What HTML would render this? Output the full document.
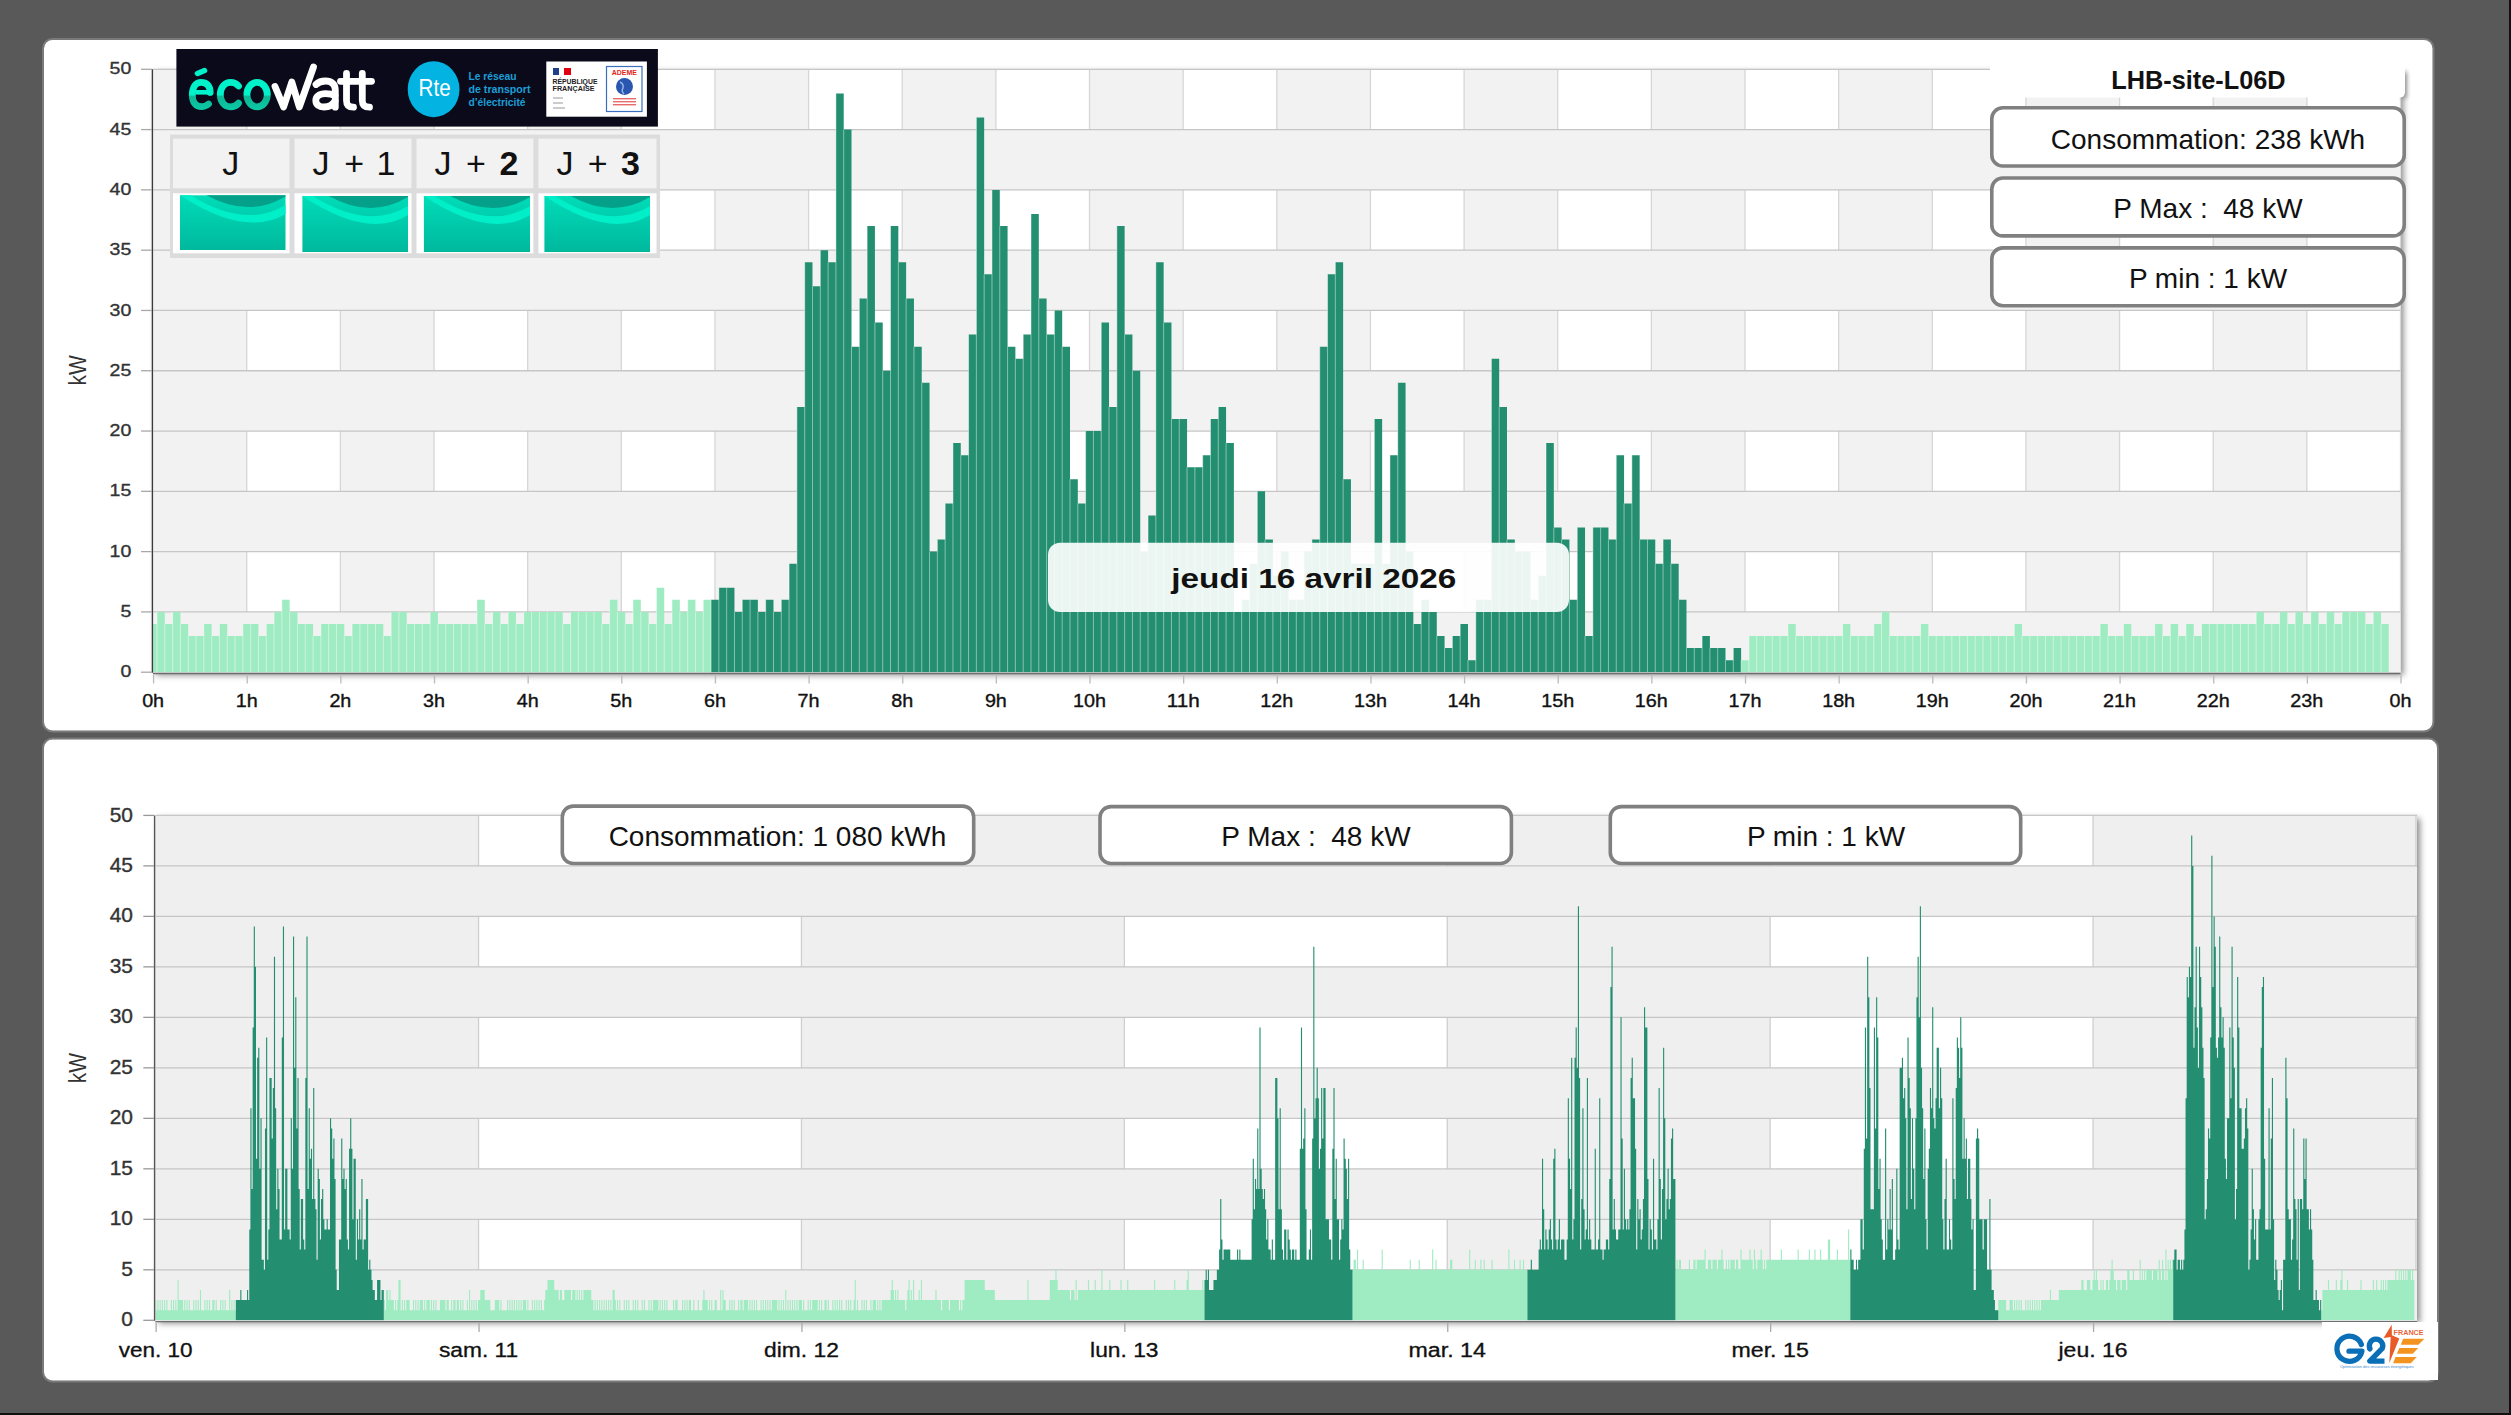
<!DOCTYPE html>
<html><head><meta charset="utf-8"><title>Consommation</title>
<style>
html,body{margin:0;padding:0;}
body{width:2511px;height:1415px;overflow:hidden;position:relative;background:#595959;font-family:"Liberation Sans", sans-serif;}
.edge-r{position:absolute;left:2509px;top:0;width:2px;height:1415px;background:#111;}
.edge-b{position:absolute;left:0;top:1413px;width:2511px;height:2px;background:#111;}
</style></head><body>
<svg xmlns="http://www.w3.org/2000/svg" width="2511" height="1415" style="position:absolute;left:0;top:0" font-family='"Liberation Sans", sans-serif'><defs><filter id="psh" x="-5%" y="-5%" width="110%" height="115%"><feDropShadow dx="3" dy="3" stdDeviation="3" flood-color="#000" flood-opacity="0.45"/></filter><filter id="lsh" x="-5%" y="-20%" width="110%" height="140%"><feDropShadow dx="2" dy="2" stdDeviation="2" flood-color="#000" flood-opacity="0.3"/></filter></defs><rect x="43" y="39" width="2390.5" height="692.5" rx="9.5" fill="none" stroke="#7a7a7a" stroke-width="2"/><rect x="44" y="40" width="2388.5" height="690.5" rx="8.5" fill="#fff"/><rect x="43" y="738.5" width="2395" height="643" rx="9.5" fill="none" stroke="#7a7a7a" stroke-width="2"/><rect x="44" y="739.5" width="2393" height="641" rx="8.5" fill="#fff"/><rect x="153.1" y="69.3" width="2247.4" height="602.9" fill="#f2f2f2" filter="url(#psh)"/><rect x="246.74" y="551.62" width="93.64" height="60.29" fill="#fff"/><rect x="434.02" y="551.62" width="93.64" height="60.29" fill="#fff"/><rect x="621.31" y="551.62" width="93.64" height="60.29" fill="#fff"/><rect x="808.59" y="551.62" width="93.64" height="60.29" fill="#fff"/><rect x="995.88" y="551.62" width="93.64" height="60.29" fill="#fff"/><rect x="1183.16" y="551.62" width="93.64" height="60.29" fill="#fff"/><rect x="1370.44" y="551.62" width="93.64" height="60.29" fill="#fff"/><rect x="1557.72" y="551.62" width="93.64" height="60.29" fill="#fff"/><rect x="1745.01" y="551.62" width="93.64" height="60.29" fill="#fff"/><rect x="1932.29" y="551.62" width="93.64" height="60.29" fill="#fff"/><rect x="2119.57" y="551.62" width="93.64" height="60.29" fill="#fff"/><rect x="2306.86" y="551.62" width="93.64" height="60.29" fill="#fff"/><rect x="246.74" y="431.04" width="93.64" height="60.29" fill="#fff"/><rect x="434.02" y="431.04" width="93.64" height="60.29" fill="#fff"/><rect x="621.31" y="431.04" width="93.64" height="60.29" fill="#fff"/><rect x="808.59" y="431.04" width="93.64" height="60.29" fill="#fff"/><rect x="995.88" y="431.04" width="93.64" height="60.29" fill="#fff"/><rect x="1183.16" y="431.04" width="93.64" height="60.29" fill="#fff"/><rect x="1370.44" y="431.04" width="93.64" height="60.29" fill="#fff"/><rect x="1557.72" y="431.04" width="93.64" height="60.29" fill="#fff"/><rect x="1745.01" y="431.04" width="93.64" height="60.29" fill="#fff"/><rect x="1932.29" y="431.04" width="93.64" height="60.29" fill="#fff"/><rect x="2119.57" y="431.04" width="93.64" height="60.29" fill="#fff"/><rect x="2306.86" y="431.04" width="93.64" height="60.29" fill="#fff"/><rect x="246.74" y="310.46" width="93.64" height="60.29" fill="#fff"/><rect x="434.02" y="310.46" width="93.64" height="60.29" fill="#fff"/><rect x="621.31" y="310.46" width="93.64" height="60.29" fill="#fff"/><rect x="808.59" y="310.46" width="93.64" height="60.29" fill="#fff"/><rect x="995.88" y="310.46" width="93.64" height="60.29" fill="#fff"/><rect x="1183.16" y="310.46" width="93.64" height="60.29" fill="#fff"/><rect x="1370.44" y="310.46" width="93.64" height="60.29" fill="#fff"/><rect x="1557.72" y="310.46" width="93.64" height="60.29" fill="#fff"/><rect x="1745.01" y="310.46" width="93.64" height="60.29" fill="#fff"/><rect x="1932.29" y="310.46" width="93.64" height="60.29" fill="#fff"/><rect x="2119.57" y="310.46" width="93.64" height="60.29" fill="#fff"/><rect x="2306.86" y="310.46" width="93.64" height="60.29" fill="#fff"/><rect x="246.74" y="189.88" width="93.64" height="60.29" fill="#fff"/><rect x="434.02" y="189.88" width="93.64" height="60.29" fill="#fff"/><rect x="621.31" y="189.88" width="93.64" height="60.29" fill="#fff"/><rect x="808.59" y="189.88" width="93.64" height="60.29" fill="#fff"/><rect x="995.88" y="189.88" width="93.64" height="60.29" fill="#fff"/><rect x="1183.16" y="189.88" width="93.64" height="60.29" fill="#fff"/><rect x="1370.44" y="189.88" width="93.64" height="60.29" fill="#fff"/><rect x="1557.72" y="189.88" width="93.64" height="60.29" fill="#fff"/><rect x="1745.01" y="189.88" width="93.64" height="60.29" fill="#fff"/><rect x="1932.29" y="189.88" width="93.64" height="60.29" fill="#fff"/><rect x="2119.57" y="189.88" width="93.64" height="60.29" fill="#fff"/><rect x="2306.86" y="189.88" width="93.64" height="60.29" fill="#fff"/><rect x="246.74" y="69.3" width="93.64" height="60.29" fill="#fff"/><rect x="434.02" y="69.3" width="93.64" height="60.29" fill="#fff"/><rect x="621.31" y="69.3" width="93.64" height="60.29" fill="#fff"/><rect x="808.59" y="69.3" width="93.64" height="60.29" fill="#fff"/><rect x="995.88" y="69.3" width="93.64" height="60.29" fill="#fff"/><rect x="1183.16" y="69.3" width="93.64" height="60.29" fill="#fff"/><rect x="1370.44" y="69.3" width="93.64" height="60.29" fill="#fff"/><rect x="1557.72" y="69.3" width="93.64" height="60.29" fill="#fff"/><rect x="1745.01" y="69.3" width="93.64" height="60.29" fill="#fff"/><rect x="1932.29" y="69.3" width="93.64" height="60.29" fill="#fff"/><rect x="2119.57" y="69.3" width="93.64" height="60.29" fill="#fff"/><rect x="2306.86" y="69.3" width="93.64" height="60.29" fill="#fff"/><line x1="246.74" y1="551.62" x2="246.74" y2="611.91" stroke="#d6d6d6" stroke-width="1.3"/><line x1="340.38" y1="551.62" x2="340.38" y2="611.91" stroke="#d6d6d6" stroke-width="1.3"/><line x1="434.02" y1="551.62" x2="434.02" y2="611.91" stroke="#d6d6d6" stroke-width="1.3"/><line x1="527.67" y1="551.62" x2="527.67" y2="611.91" stroke="#d6d6d6" stroke-width="1.3"/><line x1="621.31" y1="551.62" x2="621.31" y2="611.91" stroke="#d6d6d6" stroke-width="1.3"/><line x1="714.95" y1="551.62" x2="714.95" y2="611.91" stroke="#d6d6d6" stroke-width="1.3"/><line x1="808.59" y1="551.62" x2="808.59" y2="611.91" stroke="#d6d6d6" stroke-width="1.3"/><line x1="902.23" y1="551.62" x2="902.23" y2="611.91" stroke="#d6d6d6" stroke-width="1.3"/><line x1="995.88" y1="551.62" x2="995.88" y2="611.91" stroke="#d6d6d6" stroke-width="1.3"/><line x1="1089.52" y1="551.62" x2="1089.52" y2="611.91" stroke="#d6d6d6" stroke-width="1.3"/><line x1="1183.16" y1="551.62" x2="1183.16" y2="611.91" stroke="#d6d6d6" stroke-width="1.3"/><line x1="1276.8" y1="551.62" x2="1276.8" y2="611.91" stroke="#d6d6d6" stroke-width="1.3"/><line x1="1370.44" y1="551.62" x2="1370.44" y2="611.91" stroke="#d6d6d6" stroke-width="1.3"/><line x1="1464.08" y1="551.62" x2="1464.08" y2="611.91" stroke="#d6d6d6" stroke-width="1.3"/><line x1="1557.72" y1="551.62" x2="1557.72" y2="611.91" stroke="#d6d6d6" stroke-width="1.3"/><line x1="1651.37" y1="551.62" x2="1651.37" y2="611.91" stroke="#d6d6d6" stroke-width="1.3"/><line x1="1745.01" y1="551.62" x2="1745.01" y2="611.91" stroke="#d6d6d6" stroke-width="1.3"/><line x1="1838.65" y1="551.62" x2="1838.65" y2="611.91" stroke="#d6d6d6" stroke-width="1.3"/><line x1="1932.29" y1="551.62" x2="1932.29" y2="611.91" stroke="#d6d6d6" stroke-width="1.3"/><line x1="2025.93" y1="551.62" x2="2025.93" y2="611.91" stroke="#d6d6d6" stroke-width="1.3"/><line x1="2119.57" y1="551.62" x2="2119.57" y2="611.91" stroke="#d6d6d6" stroke-width="1.3"/><line x1="2213.22" y1="551.62" x2="2213.22" y2="611.91" stroke="#d6d6d6" stroke-width="1.3"/><line x1="2306.86" y1="551.62" x2="2306.86" y2="611.91" stroke="#d6d6d6" stroke-width="1.3"/><line x1="2400.5" y1="551.62" x2="2400.5" y2="611.91" stroke="#d6d6d6" stroke-width="1.3"/><line x1="246.74" y1="431.04" x2="246.74" y2="491.33" stroke="#d6d6d6" stroke-width="1.3"/><line x1="340.38" y1="431.04" x2="340.38" y2="491.33" stroke="#d6d6d6" stroke-width="1.3"/><line x1="434.02" y1="431.04" x2="434.02" y2="491.33" stroke="#d6d6d6" stroke-width="1.3"/><line x1="527.67" y1="431.04" x2="527.67" y2="491.33" stroke="#d6d6d6" stroke-width="1.3"/><line x1="621.31" y1="431.04" x2="621.31" y2="491.33" stroke="#d6d6d6" stroke-width="1.3"/><line x1="714.95" y1="431.04" x2="714.95" y2="491.33" stroke="#d6d6d6" stroke-width="1.3"/><line x1="808.59" y1="431.04" x2="808.59" y2="491.33" stroke="#d6d6d6" stroke-width="1.3"/><line x1="902.23" y1="431.04" x2="902.23" y2="491.33" stroke="#d6d6d6" stroke-width="1.3"/><line x1="995.88" y1="431.04" x2="995.88" y2="491.33" stroke="#d6d6d6" stroke-width="1.3"/><line x1="1089.52" y1="431.04" x2="1089.52" y2="491.33" stroke="#d6d6d6" stroke-width="1.3"/><line x1="1183.16" y1="431.04" x2="1183.16" y2="491.33" stroke="#d6d6d6" stroke-width="1.3"/><line x1="1276.8" y1="431.04" x2="1276.8" y2="491.33" stroke="#d6d6d6" stroke-width="1.3"/><line x1="1370.44" y1="431.04" x2="1370.44" y2="491.33" stroke="#d6d6d6" stroke-width="1.3"/><line x1="1464.08" y1="431.04" x2="1464.08" y2="491.33" stroke="#d6d6d6" stroke-width="1.3"/><line x1="1557.72" y1="431.04" x2="1557.72" y2="491.33" stroke="#d6d6d6" stroke-width="1.3"/><line x1="1651.37" y1="431.04" x2="1651.37" y2="491.33" stroke="#d6d6d6" stroke-width="1.3"/><line x1="1745.01" y1="431.04" x2="1745.01" y2="491.33" stroke="#d6d6d6" stroke-width="1.3"/><line x1="1838.65" y1="431.04" x2="1838.65" y2="491.33" stroke="#d6d6d6" stroke-width="1.3"/><line x1="1932.29" y1="431.04" x2="1932.29" y2="491.33" stroke="#d6d6d6" stroke-width="1.3"/><line x1="2025.93" y1="431.04" x2="2025.93" y2="491.33" stroke="#d6d6d6" stroke-width="1.3"/><line x1="2119.57" y1="431.04" x2="2119.57" y2="491.33" stroke="#d6d6d6" stroke-width="1.3"/><line x1="2213.22" y1="431.04" x2="2213.22" y2="491.33" stroke="#d6d6d6" stroke-width="1.3"/><line x1="2306.86" y1="431.04" x2="2306.86" y2="491.33" stroke="#d6d6d6" stroke-width="1.3"/><line x1="2400.5" y1="431.04" x2="2400.5" y2="491.33" stroke="#d6d6d6" stroke-width="1.3"/><line x1="246.74" y1="310.46" x2="246.74" y2="370.75" stroke="#d6d6d6" stroke-width="1.3"/><line x1="340.38" y1="310.46" x2="340.38" y2="370.75" stroke="#d6d6d6" stroke-width="1.3"/><line x1="434.02" y1="310.46" x2="434.02" y2="370.75" stroke="#d6d6d6" stroke-width="1.3"/><line x1="527.67" y1="310.46" x2="527.67" y2="370.75" stroke="#d6d6d6" stroke-width="1.3"/><line x1="621.31" y1="310.46" x2="621.31" y2="370.75" stroke="#d6d6d6" stroke-width="1.3"/><line x1="714.95" y1="310.46" x2="714.95" y2="370.75" stroke="#d6d6d6" stroke-width="1.3"/><line x1="808.59" y1="310.46" x2="808.59" y2="370.75" stroke="#d6d6d6" stroke-width="1.3"/><line x1="902.23" y1="310.46" x2="902.23" y2="370.75" stroke="#d6d6d6" stroke-width="1.3"/><line x1="995.88" y1="310.46" x2="995.88" y2="370.75" stroke="#d6d6d6" stroke-width="1.3"/><line x1="1089.52" y1="310.46" x2="1089.52" y2="370.75" stroke="#d6d6d6" stroke-width="1.3"/><line x1="1183.16" y1="310.46" x2="1183.16" y2="370.75" stroke="#d6d6d6" stroke-width="1.3"/><line x1="1276.8" y1="310.46" x2="1276.8" y2="370.75" stroke="#d6d6d6" stroke-width="1.3"/><line x1="1370.44" y1="310.46" x2="1370.44" y2="370.75" stroke="#d6d6d6" stroke-width="1.3"/><line x1="1464.08" y1="310.46" x2="1464.08" y2="370.75" stroke="#d6d6d6" stroke-width="1.3"/><line x1="1557.72" y1="310.46" x2="1557.72" y2="370.75" stroke="#d6d6d6" stroke-width="1.3"/><line x1="1651.37" y1="310.46" x2="1651.37" y2="370.75" stroke="#d6d6d6" stroke-width="1.3"/><line x1="1745.01" y1="310.46" x2="1745.01" y2="370.75" stroke="#d6d6d6" stroke-width="1.3"/><line x1="1838.65" y1="310.46" x2="1838.65" y2="370.75" stroke="#d6d6d6" stroke-width="1.3"/><line x1="1932.29" y1="310.46" x2="1932.29" y2="370.75" stroke="#d6d6d6" stroke-width="1.3"/><line x1="2025.93" y1="310.46" x2="2025.93" y2="370.75" stroke="#d6d6d6" stroke-width="1.3"/><line x1="2119.57" y1="310.46" x2="2119.57" y2="370.75" stroke="#d6d6d6" stroke-width="1.3"/><line x1="2213.22" y1="310.46" x2="2213.22" y2="370.75" stroke="#d6d6d6" stroke-width="1.3"/><line x1="2306.86" y1="310.46" x2="2306.86" y2="370.75" stroke="#d6d6d6" stroke-width="1.3"/><line x1="2400.5" y1="310.46" x2="2400.5" y2="370.75" stroke="#d6d6d6" stroke-width="1.3"/><line x1="246.74" y1="189.88" x2="246.74" y2="250.17" stroke="#d6d6d6" stroke-width="1.3"/><line x1="340.38" y1="189.88" x2="340.38" y2="250.17" stroke="#d6d6d6" stroke-width="1.3"/><line x1="434.02" y1="189.88" x2="434.02" y2="250.17" stroke="#d6d6d6" stroke-width="1.3"/><line x1="527.67" y1="189.88" x2="527.67" y2="250.17" stroke="#d6d6d6" stroke-width="1.3"/><line x1="621.31" y1="189.88" x2="621.31" y2="250.17" stroke="#d6d6d6" stroke-width="1.3"/><line x1="714.95" y1="189.88" x2="714.95" y2="250.17" stroke="#d6d6d6" stroke-width="1.3"/><line x1="808.59" y1="189.88" x2="808.59" y2="250.17" stroke="#d6d6d6" stroke-width="1.3"/><line x1="902.23" y1="189.88" x2="902.23" y2="250.17" stroke="#d6d6d6" stroke-width="1.3"/><line x1="995.88" y1="189.88" x2="995.88" y2="250.17" stroke="#d6d6d6" stroke-width="1.3"/><line x1="1089.52" y1="189.88" x2="1089.52" y2="250.17" stroke="#d6d6d6" stroke-width="1.3"/><line x1="1183.16" y1="189.88" x2="1183.16" y2="250.17" stroke="#d6d6d6" stroke-width="1.3"/><line x1="1276.8" y1="189.88" x2="1276.8" y2="250.17" stroke="#d6d6d6" stroke-width="1.3"/><line x1="1370.44" y1="189.88" x2="1370.44" y2="250.17" stroke="#d6d6d6" stroke-width="1.3"/><line x1="1464.08" y1="189.88" x2="1464.08" y2="250.17" stroke="#d6d6d6" stroke-width="1.3"/><line x1="1557.72" y1="189.88" x2="1557.72" y2="250.17" stroke="#d6d6d6" stroke-width="1.3"/><line x1="1651.37" y1="189.88" x2="1651.37" y2="250.17" stroke="#d6d6d6" stroke-width="1.3"/><line x1="1745.01" y1="189.88" x2="1745.01" y2="250.17" stroke="#d6d6d6" stroke-width="1.3"/><line x1="1838.65" y1="189.88" x2="1838.65" y2="250.17" stroke="#d6d6d6" stroke-width="1.3"/><line x1="1932.29" y1="189.88" x2="1932.29" y2="250.17" stroke="#d6d6d6" stroke-width="1.3"/><line x1="2025.93" y1="189.88" x2="2025.93" y2="250.17" stroke="#d6d6d6" stroke-width="1.3"/><line x1="2119.57" y1="189.88" x2="2119.57" y2="250.17" stroke="#d6d6d6" stroke-width="1.3"/><line x1="2213.22" y1="189.88" x2="2213.22" y2="250.17" stroke="#d6d6d6" stroke-width="1.3"/><line x1="2306.86" y1="189.88" x2="2306.86" y2="250.17" stroke="#d6d6d6" stroke-width="1.3"/><line x1="2400.5" y1="189.88" x2="2400.5" y2="250.17" stroke="#d6d6d6" stroke-width="1.3"/><line x1="246.74" y1="69.3" x2="246.74" y2="129.59" stroke="#d6d6d6" stroke-width="1.3"/><line x1="340.38" y1="69.3" x2="340.38" y2="129.59" stroke="#d6d6d6" stroke-width="1.3"/><line x1="434.02" y1="69.3" x2="434.02" y2="129.59" stroke="#d6d6d6" stroke-width="1.3"/><line x1="527.67" y1="69.3" x2="527.67" y2="129.59" stroke="#d6d6d6" stroke-width="1.3"/><line x1="621.31" y1="69.3" x2="621.31" y2="129.59" stroke="#d6d6d6" stroke-width="1.3"/><line x1="714.95" y1="69.3" x2="714.95" y2="129.59" stroke="#d6d6d6" stroke-width="1.3"/><line x1="808.59" y1="69.3" x2="808.59" y2="129.59" stroke="#d6d6d6" stroke-width="1.3"/><line x1="902.23" y1="69.3" x2="902.23" y2="129.59" stroke="#d6d6d6" stroke-width="1.3"/><line x1="995.88" y1="69.3" x2="995.88" y2="129.59" stroke="#d6d6d6" stroke-width="1.3"/><line x1="1089.52" y1="69.3" x2="1089.52" y2="129.59" stroke="#d6d6d6" stroke-width="1.3"/><line x1="1183.16" y1="69.3" x2="1183.16" y2="129.59" stroke="#d6d6d6" stroke-width="1.3"/><line x1="1276.8" y1="69.3" x2="1276.8" y2="129.59" stroke="#d6d6d6" stroke-width="1.3"/><line x1="1370.44" y1="69.3" x2="1370.44" y2="129.59" stroke="#d6d6d6" stroke-width="1.3"/><line x1="1464.08" y1="69.3" x2="1464.08" y2="129.59" stroke="#d6d6d6" stroke-width="1.3"/><line x1="1557.72" y1="69.3" x2="1557.72" y2="129.59" stroke="#d6d6d6" stroke-width="1.3"/><line x1="1651.37" y1="69.3" x2="1651.37" y2="129.59" stroke="#d6d6d6" stroke-width="1.3"/><line x1="1745.01" y1="69.3" x2="1745.01" y2="129.59" stroke="#d6d6d6" stroke-width="1.3"/><line x1="1838.65" y1="69.3" x2="1838.65" y2="129.59" stroke="#d6d6d6" stroke-width="1.3"/><line x1="1932.29" y1="69.3" x2="1932.29" y2="129.59" stroke="#d6d6d6" stroke-width="1.3"/><line x1="2025.93" y1="69.3" x2="2025.93" y2="129.59" stroke="#d6d6d6" stroke-width="1.3"/><line x1="2119.57" y1="69.3" x2="2119.57" y2="129.59" stroke="#d6d6d6" stroke-width="1.3"/><line x1="2213.22" y1="69.3" x2="2213.22" y2="129.59" stroke="#d6d6d6" stroke-width="1.3"/><line x1="2306.86" y1="69.3" x2="2306.86" y2="129.59" stroke="#d6d6d6" stroke-width="1.3"/><line x1="2400.5" y1="69.3" x2="2400.5" y2="129.59" stroke="#d6d6d6" stroke-width="1.3"/><line x1="153.1" y1="611.91" x2="2400.5" y2="611.91" stroke="#c6c6c6" stroke-width="1.3"/><line x1="153.1" y1="551.62" x2="2400.5" y2="551.62" stroke="#c6c6c6" stroke-width="1.3"/><line x1="153.1" y1="491.33" x2="2400.5" y2="491.33" stroke="#c6c6c6" stroke-width="1.3"/><line x1="153.1" y1="431.04" x2="2400.5" y2="431.04" stroke="#c6c6c6" stroke-width="1.3"/><line x1="153.1" y1="370.75" x2="2400.5" y2="370.75" stroke="#c6c6c6" stroke-width="1.3"/><line x1="153.1" y1="310.46" x2="2400.5" y2="310.46" stroke="#c6c6c6" stroke-width="1.3"/><line x1="153.1" y1="250.17" x2="2400.5" y2="250.17" stroke="#c6c6c6" stroke-width="1.3"/><line x1="153.1" y1="189.88" x2="2400.5" y2="189.88" stroke="#c6c6c6" stroke-width="1.3"/><line x1="153.1" y1="129.59" x2="2400.5" y2="129.59" stroke="#c6c6c6" stroke-width="1.3"/><line x1="153.1" y1="69.3" x2="2400.5" y2="69.3" stroke="#c6c6c6" stroke-width="1.3"/><path d="M153.1 672.2V623.97H157V672.2ZM157 672.2V611.91H164.81V672.2ZM164.81 672.2V623.97H172.61V672.2ZM172.61 672.2V611.91H180.41V672.2ZM180.41 672.2V623.97H188.22V672.2ZM188.22 672.2V636.03H196.02V672.2ZM196.02 672.2V636.03H203.82V672.2ZM203.82 672.2V623.97H211.63V672.2ZM211.63 672.2V636.03H219.43V672.2ZM219.43 672.2V623.97H227.23V672.2ZM227.23 672.2V636.03H235.04V672.2ZM235.04 672.2V636.03H242.84V672.2ZM242.84 672.2V623.97H250.64V672.2ZM250.64 672.2V623.97H258.45V672.2ZM258.45 672.2V636.03H266.25V672.2ZM266.25 672.2V623.97H274.05V672.2ZM274.05 672.2V611.91H281.86V672.2ZM281.86 672.2V599.85H289.66V672.2ZM289.66 672.2V611.91H297.46V672.2ZM297.46 672.2V623.97H305.27V672.2ZM305.27 672.2V623.97H313.07V672.2ZM313.07 672.2V636.03H320.87V672.2ZM320.87 672.2V623.97H328.68V672.2ZM328.68 672.2V623.97H336.48V672.2ZM336.48 672.2V623.97H344.29V672.2ZM344.29 672.2V636.03H352.09V672.2ZM352.09 672.2V623.97H359.89V672.2ZM359.89 672.2V623.97H367.7V672.2ZM367.7 672.2V623.97H375.5V672.2ZM375.5 672.2V623.97H383.3V672.2ZM383.3 672.2V636.03H391.11V672.2ZM391.11 672.2V611.91H398.91V672.2ZM398.91 672.2V611.91H406.71V672.2ZM406.71 672.2V623.97H414.52V672.2ZM414.52 672.2V623.97H422.32V672.2ZM422.32 672.2V623.97H430.12V672.2ZM430.12 672.2V611.91H437.93V672.2ZM437.93 672.2V623.97H445.73V672.2ZM445.73 672.2V623.97H453.53V672.2ZM453.53 672.2V623.97H461.34V672.2ZM461.34 672.2V623.97H469.14V672.2ZM469.14 672.2V623.97H476.94V672.2ZM476.94 672.2V599.85H484.75V672.2ZM484.75 672.2V623.97H492.55V672.2ZM492.55 672.2V611.91H500.35V672.2ZM500.35 672.2V623.97H508.16V672.2ZM508.16 672.2V611.91H515.96V672.2ZM515.96 672.2V623.97H523.76V672.2ZM523.76 672.2V611.91H531.57V672.2ZM531.57 672.2V611.91H539.37V672.2ZM539.37 672.2V611.91H547.18V672.2ZM547.18 672.2V611.91H554.98V672.2ZM554.98 672.2V611.91H562.78V672.2ZM562.78 672.2V623.97H570.59V672.2ZM570.59 672.2V611.91H578.39V672.2ZM578.39 672.2V611.91H586.19V672.2ZM586.19 672.2V611.91H594V672.2ZM594 672.2V611.91H601.8V672.2ZM601.8 672.2V623.97H609.6V672.2ZM609.6 672.2V599.85H617.41V672.2ZM617.41 672.2V611.91H625.21V672.2ZM625.21 672.2V623.97H633.01V672.2ZM633.01 672.2V599.85H640.82V672.2ZM640.82 672.2V611.91H648.62V672.2ZM648.62 672.2V623.97H656.42V672.2ZM656.42 672.2V587.79H664.23V672.2ZM664.23 672.2V623.97H672.03V672.2ZM672.03 672.2V599.85H679.83V672.2ZM679.83 672.2V611.91H687.64V672.2ZM687.64 672.2V599.85H695.44V672.2ZM695.44 672.2V611.91H703.24V672.2ZM703.24 672.2V599.85H711.05V672.2ZM1741.11 672.2V660.14H1748.91V672.2ZM1748.91 672.2V636.03H1756.71V672.2ZM1756.71 672.2V636.03H1764.52V672.2ZM1764.52 672.2V636.03H1772.32V672.2ZM1772.32 672.2V636.03H1780.12V672.2ZM1780.12 672.2V636.03H1787.93V672.2ZM1787.93 672.2V623.97H1795.73V672.2ZM1795.73 672.2V636.03H1803.53V672.2ZM1803.53 672.2V636.03H1811.34V672.2ZM1811.34 672.2V636.03H1819.14V672.2ZM1819.14 672.2V636.03H1826.94V672.2ZM1826.94 672.2V636.03H1834.75V672.2ZM1834.75 672.2V636.03H1842.55V672.2ZM1842.55 672.2V623.97H1850.36V672.2ZM1850.36 672.2V636.03H1858.16V672.2ZM1858.16 672.2V636.03H1865.96V672.2ZM1865.96 672.2V636.03H1873.77V672.2ZM1873.77 672.2V623.97H1881.57V672.2ZM1881.57 672.2V611.91H1889.37V672.2ZM1889.37 672.2V636.03H1897.18V672.2ZM1897.18 672.2V636.03H1904.98V672.2ZM1904.98 672.2V636.03H1912.78V672.2ZM1912.78 672.2V636.03H1920.59V672.2ZM1920.59 672.2V623.97H1928.39V672.2ZM1928.39 672.2V636.03H1936.19V672.2ZM1936.19 672.2V636.03H1944V672.2ZM1944 672.2V636.03H1951.8V672.2ZM1951.8 672.2V636.03H1959.6V672.2ZM1959.6 672.2V636.03H1967.41V672.2ZM1967.41 672.2V636.03H1975.21V672.2ZM1975.21 672.2V636.03H1983.01V672.2ZM1983.01 672.2V636.03H1990.82V672.2ZM1990.82 672.2V636.03H1998.62V672.2ZM1998.62 672.2V636.03H2006.42V672.2ZM2006.42 672.2V636.03H2014.23V672.2ZM2014.23 672.2V623.97H2022.03V672.2ZM2022.03 672.2V636.03H2029.84V672.2ZM2029.84 672.2V636.03H2037.64V672.2ZM2037.64 672.2V636.03H2045.44V672.2ZM2045.44 672.2V636.03H2053.25V672.2ZM2053.25 672.2V636.03H2061.05V672.2ZM2061.05 672.2V636.03H2068.85V672.2ZM2068.85 672.2V636.03H2076.66V672.2ZM2076.66 672.2V636.03H2084.46V672.2ZM2084.46 672.2V636.03H2092.26V672.2ZM2092.26 672.2V636.03H2100.07V672.2ZM2100.07 672.2V623.97H2107.87V672.2ZM2107.87 672.2V636.03H2115.67V672.2ZM2115.67 672.2V636.03H2123.48V672.2ZM2123.48 672.2V623.97H2131.28V672.2ZM2131.28 672.2V636.03H2139.08V672.2ZM2139.08 672.2V636.03H2146.89V672.2ZM2146.89 672.2V636.03H2154.69V672.2ZM2154.69 672.2V623.97H2162.49V672.2ZM2162.49 672.2V636.03H2170.3V672.2ZM2170.3 672.2V623.97H2178.1V672.2ZM2178.1 672.2V636.03H2185.9V672.2ZM2185.9 672.2V623.97H2193.71V672.2ZM2193.71 672.2V636.03H2201.51V672.2ZM2201.51 672.2V623.97H2209.31V672.2ZM2209.31 672.2V623.97H2217.12V672.2ZM2217.12 672.2V623.97H2224.92V672.2ZM2224.92 672.2V623.97H2232.73V672.2ZM2232.73 672.2V623.97H2240.53V672.2ZM2240.53 672.2V623.97H2248.33V672.2ZM2248.33 672.2V623.97H2256.14V672.2ZM2256.14 672.2V611.91H2263.94V672.2ZM2263.94 672.2V623.97H2271.74V672.2ZM2271.74 672.2V623.97H2279.55V672.2ZM2279.55 672.2V611.91H2287.35V672.2ZM2287.35 672.2V623.97H2295.15V672.2ZM2295.15 672.2V611.91H2302.96V672.2ZM2302.96 672.2V623.97H2310.76V672.2ZM2310.76 672.2V611.91H2318.56V672.2ZM2318.56 672.2V623.97H2326.37V672.2ZM2326.37 672.2V611.91H2334.17V672.2ZM2334.17 672.2V623.97H2341.97V672.2ZM2341.97 672.2V611.91H2349.78V672.2ZM2349.78 672.2V611.91H2357.58V672.2ZM2357.58 672.2V611.91H2365.38V672.2ZM2365.38 672.2V623.97H2373.19V672.2ZM2373.19 672.2V611.91H2380.99V672.2ZM2380.99 672.2V623.97H2388.79V672.2Z" fill="#a0ecc2"/><path d="M711.05 672.2V599.85H718.85V672.2ZM718.85 672.2V587.79H726.66V672.2ZM726.66 672.2V587.79H734.46V672.2ZM734.46 672.2V611.91H742.26V672.2ZM742.26 672.2V599.85H750.07V672.2ZM750.07 672.2V599.85H757.87V672.2ZM757.87 672.2V611.91H765.67V672.2ZM765.67 672.2V599.85H773.48V672.2ZM773.48 672.2V611.91H781.28V672.2ZM781.28 672.2V599.85H789.08V672.2ZM789.08 672.2V563.68H796.89V672.2ZM796.89 672.2V406.92H804.69V672.2ZM804.69 672.2V262.23H812.49V672.2ZM812.49 672.2V286.34H820.3V672.2ZM820.3 672.2V250.17H828.1V672.2ZM828.1 672.2V262.23H835.9V672.2ZM835.9 672.2V93.42H843.71V672.2ZM843.71 672.2V129.59H851.51V672.2ZM851.51 672.2V346.63H859.31V672.2ZM859.31 672.2V298.4H867.12V672.2ZM867.12 672.2V226.05H874.92V672.2ZM874.92 672.2V322.52H882.72V672.2ZM882.72 672.2V370.75H890.53V672.2ZM890.53 672.2V226.05H898.33V672.2ZM898.33 672.2V262.23H906.14V672.2ZM906.14 672.2V298.4H913.94V672.2ZM913.94 672.2V346.63H921.74V672.2ZM921.74 672.2V382.81H929.55V672.2ZM929.55 672.2V551.62H937.35V672.2ZM937.35 672.2V539.56H945.15V672.2ZM945.15 672.2V503.39H952.96V672.2ZM952.96 672.2V443.1H960.76V672.2ZM960.76 672.2V455.16H968.56V672.2ZM968.56 672.2V334.58H976.37V672.2ZM976.37 672.2V117.53H984.17V672.2ZM984.17 672.2V274.29H991.97V672.2ZM991.97 672.2V189.88H999.78V672.2ZM999.78 672.2V226.05H1007.58V672.2ZM1007.58 672.2V346.63H1015.38V672.2ZM1015.38 672.2V358.69H1023.19V672.2ZM1023.19 672.2V334.58H1030.99V672.2ZM1030.99 672.2V214H1038.79V672.2ZM1038.79 672.2V298.4H1046.6V672.2ZM1046.6 672.2V334.58H1054.4V672.2ZM1054.4 672.2V310.46H1062.2V672.2ZM1062.2 672.2V346.63H1070.01V672.2ZM1070.01 672.2V479.27H1077.81V672.2ZM1077.81 672.2V503.39H1085.61V672.2ZM1085.61 672.2V431.04H1093.42V672.2ZM1093.42 672.2V431.04H1101.22V672.2ZM1101.22 672.2V322.52H1109.03V672.2ZM1109.03 672.2V406.92H1116.83V672.2ZM1116.83 672.2V226.05H1124.63V672.2ZM1124.63 672.2V334.58H1132.44V672.2ZM1132.44 672.2V370.75H1140.24V672.2ZM1140.24 672.2V551.62H1148.04V672.2ZM1148.04 672.2V515.45H1155.85V672.2ZM1155.85 672.2V262.23H1163.65V672.2ZM1163.65 672.2V322.52H1171.45V672.2ZM1171.45 672.2V418.98H1179.26V672.2ZM1179.26 672.2V418.98H1187.06V672.2ZM1187.06 672.2V467.21H1194.86V672.2ZM1194.86 672.2V467.21H1202.67V672.2ZM1202.67 672.2V455.16H1210.47V672.2ZM1210.47 672.2V418.98H1218.27V672.2ZM1218.27 672.2V406.92H1226.08V672.2ZM1226.08 672.2V443.1H1233.88V672.2ZM1233.88 672.2V611.91H1241.68V672.2ZM1241.68 672.2V599.85H1249.49V672.2ZM1249.49 672.2V563.68H1257.29V672.2ZM1257.29 672.2V491.33H1265.09V672.2ZM1265.09 672.2V539.56H1272.9V672.2ZM1272.9 672.2V575.74H1280.7V672.2ZM1280.7 672.2V551.62H1288.51V672.2ZM1288.51 672.2V599.85H1296.31V672.2ZM1296.31 672.2V599.85H1304.11V672.2ZM1304.11 672.2V551.62H1311.92V672.2ZM1311.92 672.2V539.56H1319.72V672.2ZM1319.72 672.2V346.63H1327.52V672.2ZM1327.52 672.2V274.29H1335.33V672.2ZM1335.33 672.2V262.23H1343.13V672.2ZM1343.13 672.2V479.27H1350.93V672.2ZM1350.93 672.2V563.68H1358.74V672.2ZM1358.74 672.2V563.68H1366.54V672.2ZM1366.54 672.2V563.68H1374.34V672.2ZM1374.34 672.2V418.98H1382.15V672.2ZM1382.15 672.2V563.68H1389.95V672.2ZM1389.95 672.2V455.16H1397.75V672.2ZM1397.75 672.2V382.81H1405.56V672.2ZM1405.56 672.2V551.62H1413.36V672.2ZM1413.36 672.2V623.97H1421.16V672.2ZM1421.16 672.2V599.85H1428.97V672.2ZM1428.97 672.2V611.91H1436.77V672.2ZM1436.77 672.2V636.03H1444.57V672.2ZM1444.57 672.2V648.08H1452.38V672.2ZM1452.38 672.2V636.03H1460.18V672.2ZM1460.18 672.2V623.97H1467.99V672.2ZM1467.99 672.2V660.14H1475.79V672.2ZM1475.79 672.2V599.85H1483.59V672.2ZM1483.59 672.2V599.85H1491.4V672.2ZM1491.4 672.2V358.69H1499.2V672.2ZM1499.2 672.2V406.92H1507V672.2ZM1507 672.2V539.56H1514.81V672.2ZM1514.81 672.2V551.62H1522.61V672.2ZM1522.61 672.2V551.62H1530.41V672.2ZM1530.41 672.2V599.85H1538.22V672.2ZM1538.22 672.2V575.74H1546.02V672.2ZM1546.02 672.2V443.1H1553.82V672.2ZM1553.82 672.2V527.5H1561.63V672.2ZM1561.63 672.2V539.56H1569.43V672.2ZM1569.43 672.2V599.85H1577.23V672.2ZM1577.23 672.2V527.5H1585.04V672.2ZM1585.04 672.2V636.03H1592.84V672.2ZM1592.84 672.2V527.5H1600.64V672.2ZM1600.64 672.2V527.5H1608.45V672.2ZM1608.45 672.2V539.56H1616.25V672.2ZM1616.25 672.2V455.16H1624.05V672.2ZM1624.05 672.2V503.39H1631.86V672.2ZM1631.86 672.2V455.16H1639.66V672.2ZM1639.66 672.2V539.56H1647.46V672.2ZM1647.46 672.2V539.56H1655.27V672.2ZM1655.27 672.2V563.68H1663.07V672.2ZM1663.07 672.2V539.56H1670.88V672.2ZM1670.88 672.2V563.68H1678.68V672.2ZM1678.68 672.2V599.85H1686.48V672.2ZM1686.48 672.2V648.08H1694.29V672.2ZM1694.29 672.2V648.08H1702.09V672.2ZM1702.09 672.2V636.03H1709.89V672.2ZM1709.89 672.2V648.08H1717.7V672.2ZM1717.7 672.2V648.08H1725.5V672.2ZM1725.5 672.2V660.14H1733.3V672.2ZM1733.3 672.2V648.08H1741.11V672.2Z" fill="#238f70"/><path d="M157 672.2V611.91M164.81 672.2V623.97M172.61 672.2V611.91M180.41 672.2V623.97M188.22 672.2V636.03M196.02 672.2V636.03M203.82 672.2V623.97M211.63 672.2V636.03M219.43 672.2V623.97M227.23 672.2V636.03M235.04 672.2V636.03M242.84 672.2V623.97M250.64 672.2V623.97M258.45 672.2V636.03M266.25 672.2V623.97M274.05 672.2V611.91M281.86 672.2V599.85M289.66 672.2V611.91M297.46 672.2V623.97M305.27 672.2V623.97M313.07 672.2V636.03M320.87 672.2V623.97M328.68 672.2V623.97M336.48 672.2V623.97M344.29 672.2V636.03M352.09 672.2V623.97M359.89 672.2V623.97M367.7 672.2V623.97M375.5 672.2V623.97M383.3 672.2V636.03M391.11 672.2V611.91M398.91 672.2V611.91M406.71 672.2V623.97M414.52 672.2V623.97M422.32 672.2V623.97M430.12 672.2V611.91M437.93 672.2V623.97M445.73 672.2V623.97M453.53 672.2V623.97M461.34 672.2V623.97M469.14 672.2V623.97M476.94 672.2V599.85M484.75 672.2V623.97M492.55 672.2V611.91M500.35 672.2V623.97M508.16 672.2V611.91M515.96 672.2V623.97M523.76 672.2V611.91M531.57 672.2V611.91M539.37 672.2V611.91M547.18 672.2V611.91M554.98 672.2V611.91M562.78 672.2V623.97M570.59 672.2V611.91M578.39 672.2V611.91M586.19 672.2V611.91M594 672.2V611.91M601.8 672.2V623.97M609.6 672.2V599.85M617.41 672.2V611.91M625.21 672.2V623.97M633.01 672.2V599.85M640.82 672.2V611.91M648.62 672.2V623.97M656.42 672.2V587.79M664.23 672.2V623.97M672.03 672.2V599.85M679.83 672.2V611.91M687.64 672.2V599.85M695.44 672.2V611.91M703.24 672.2V599.85M711.05 672.2V599.85M718.85 672.2V587.79M726.66 672.2V587.79M734.46 672.2V611.91M742.26 672.2V599.85M750.07 672.2V599.85M757.87 672.2V611.91M765.67 672.2V599.85M773.48 672.2V611.91M781.28 672.2V599.85M789.08 672.2V563.68M796.89 672.2V406.92M804.69 672.2V262.23M812.49 672.2V286.34M820.3 672.2V250.17M828.1 672.2V262.23M835.9 672.2V93.42M843.71 672.2V129.59M851.51 672.2V346.63M859.31 672.2V298.4M867.12 672.2V226.05M874.92 672.2V322.52M882.72 672.2V370.75M890.53 672.2V226.05M898.33 672.2V262.23M906.14 672.2V298.4M913.94 672.2V346.63M921.74 672.2V382.81M929.55 672.2V551.62M937.35 672.2V539.56M945.15 672.2V503.39M952.96 672.2V443.1M960.76 672.2V455.16M968.56 672.2V334.58M976.37 672.2V117.53M984.17 672.2V274.29M991.97 672.2V189.88M999.78 672.2V226.05M1007.58 672.2V346.63M1015.38 672.2V358.69M1023.19 672.2V334.58M1030.99 672.2V214M1038.79 672.2V298.4M1046.6 672.2V334.58M1054.4 672.2V310.46M1062.2 672.2V346.63M1070.01 672.2V479.27M1077.81 672.2V503.39M1085.61 672.2V431.04M1093.42 672.2V431.04M1101.22 672.2V322.52M1109.03 672.2V406.92M1116.83 672.2V226.05M1124.63 672.2V334.58M1132.44 672.2V370.75M1140.24 672.2V551.62M1148.04 672.2V515.45M1155.85 672.2V262.23M1163.65 672.2V322.52M1171.45 672.2V418.98M1179.26 672.2V418.98M1187.06 672.2V467.21M1194.86 672.2V467.21M1202.67 672.2V455.16M1210.47 672.2V418.98M1218.27 672.2V406.92M1226.08 672.2V443.1M1233.88 672.2V611.91M1241.68 672.2V599.85M1249.49 672.2V563.68M1257.29 672.2V491.33M1265.09 672.2V539.56M1272.9 672.2V575.74M1280.7 672.2V551.62M1288.51 672.2V599.85M1296.31 672.2V599.85M1304.11 672.2V551.62M1311.92 672.2V539.56M1319.72 672.2V346.63M1327.52 672.2V274.29M1335.33 672.2V262.23M1343.13 672.2V479.27M1350.93 672.2V563.68M1358.74 672.2V563.68M1366.54 672.2V563.68M1374.34 672.2V418.98M1382.15 672.2V563.68M1389.95 672.2V455.16M1397.75 672.2V382.81M1405.56 672.2V551.62M1413.36 672.2V623.97M1421.16 672.2V599.85M1428.97 672.2V611.91M1436.77 672.2V636.03M1444.57 672.2V648.08M1452.38 672.2V636.03M1460.18 672.2V623.97M1467.99 672.2V660.14M1475.79 672.2V599.85M1483.59 672.2V599.85M1491.4 672.2V358.69M1499.2 672.2V406.92M1507 672.2V539.56M1514.81 672.2V551.62M1522.61 672.2V551.62M1530.41 672.2V599.85M1538.22 672.2V575.74M1546.02 672.2V443.1M1553.82 672.2V527.5M1561.63 672.2V539.56M1569.43 672.2V599.85M1577.23 672.2V527.5M1585.04 672.2V636.03M1592.84 672.2V527.5M1600.64 672.2V527.5M1608.45 672.2V539.56M1616.25 672.2V455.16M1624.05 672.2V503.39M1631.86 672.2V455.16M1639.66 672.2V539.56M1647.46 672.2V539.56M1655.27 672.2V563.68M1663.07 672.2V539.56M1670.88 672.2V563.68M1678.68 672.2V599.85M1686.48 672.2V648.08M1694.29 672.2V648.08M1702.09 672.2V636.03M1709.89 672.2V648.08M1717.7 672.2V648.08M1725.5 672.2V660.14M1733.3 672.2V648.08M1741.11 672.2V660.14M1748.91 672.2V636.03M1756.71 672.2V636.03M1764.52 672.2V636.03M1772.32 672.2V636.03M1780.12 672.2V636.03M1787.93 672.2V623.97M1795.73 672.2V636.03M1803.53 672.2V636.03M1811.34 672.2V636.03M1819.14 672.2V636.03M1826.94 672.2V636.03M1834.75 672.2V636.03M1842.55 672.2V623.97M1850.36 672.2V636.03M1858.16 672.2V636.03M1865.96 672.2V636.03M1873.77 672.2V623.97M1881.57 672.2V611.91M1889.37 672.2V636.03M1897.18 672.2V636.03M1904.98 672.2V636.03M1912.78 672.2V636.03M1920.59 672.2V623.97M1928.39 672.2V636.03M1936.19 672.2V636.03M1944 672.2V636.03M1951.8 672.2V636.03M1959.6 672.2V636.03M1967.41 672.2V636.03M1975.21 672.2V636.03M1983.01 672.2V636.03M1990.82 672.2V636.03M1998.62 672.2V636.03M2006.42 672.2V636.03M2014.23 672.2V623.97M2022.03 672.2V636.03M2029.84 672.2V636.03M2037.64 672.2V636.03M2045.44 672.2V636.03M2053.25 672.2V636.03M2061.05 672.2V636.03M2068.85 672.2V636.03M2076.66 672.2V636.03M2084.46 672.2V636.03M2092.26 672.2V636.03M2100.07 672.2V623.97M2107.87 672.2V636.03M2115.67 672.2V636.03M2123.48 672.2V623.97M2131.28 672.2V636.03M2139.08 672.2V636.03M2146.89 672.2V636.03M2154.69 672.2V623.97M2162.49 672.2V636.03M2170.3 672.2V623.97M2178.1 672.2V636.03M2185.9 672.2V623.97M2193.71 672.2V636.03M2201.51 672.2V623.97M2209.31 672.2V623.97M2217.12 672.2V623.97M2224.92 672.2V623.97M2232.73 672.2V623.97M2240.53 672.2V623.97M2248.33 672.2V623.97M2256.14 672.2V611.91M2263.94 672.2V623.97M2271.74 672.2V623.97M2279.55 672.2V611.91M2287.35 672.2V623.97M2295.15 672.2V611.91M2302.96 672.2V623.97M2310.76 672.2V611.91M2318.56 672.2V623.97M2326.37 672.2V611.91M2334.17 672.2V623.97M2341.97 672.2V611.91M2349.78 672.2V611.91M2357.58 672.2V611.91M2365.38 672.2V623.97M2373.19 672.2V611.91M2380.99 672.2V623.97" stroke="rgba(255,255,255,0.45)" stroke-width="1" fill="none"/><line x1="152.4" y1="69.3" x2="152.4" y2="672.7" stroke="#3c3c3c" stroke-width="1.4"/><line x1="153" y1="672.7" x2="2400.5" y2="672.7" stroke="#fff" stroke-opacity="0.55" stroke-width="0.9"/><line x1="153" y1="673.5" x2="2400.5" y2="673.5" stroke="#6e6e6e" stroke-width="1.3"/><line x1="141" y1="672.2" x2="152" y2="672.2" stroke="#a8a8a8" stroke-width="1.3"/><text x="131.3" y="677.3" text-anchor="end" font-size="17.3" fill="#333" stroke="#333" stroke-width="0.35" textLength="10.88" lengthAdjust="spacingAndGlyphs">0</text><line x1="141" y1="611.91" x2="152" y2="611.91" stroke="#a8a8a8" stroke-width="1.3"/><text x="131.3" y="617.01" text-anchor="end" font-size="17.3" fill="#333" stroke="#333" stroke-width="0.35" textLength="10.88" lengthAdjust="spacingAndGlyphs">5</text><line x1="141" y1="551.62" x2="152" y2="551.62" stroke="#a8a8a8" stroke-width="1.3"/><text x="131.3" y="556.72" text-anchor="end" font-size="17.3" fill="#333" stroke="#333" stroke-width="0.35" textLength="21.75" lengthAdjust="spacingAndGlyphs">10</text><line x1="141" y1="491.33" x2="152" y2="491.33" stroke="#a8a8a8" stroke-width="1.3"/><text x="131.3" y="496.43" text-anchor="end" font-size="17.3" fill="#333" stroke="#333" stroke-width="0.35" textLength="21.75" lengthAdjust="spacingAndGlyphs">15</text><line x1="141" y1="431.04" x2="152" y2="431.04" stroke="#a8a8a8" stroke-width="1.3"/><text x="131.3" y="436.14" text-anchor="end" font-size="17.3" fill="#333" stroke="#333" stroke-width="0.35" textLength="21.75" lengthAdjust="spacingAndGlyphs">20</text><line x1="141" y1="370.75" x2="152" y2="370.75" stroke="#a8a8a8" stroke-width="1.3"/><text x="131.3" y="375.85" text-anchor="end" font-size="17.3" fill="#333" stroke="#333" stroke-width="0.35" textLength="21.75" lengthAdjust="spacingAndGlyphs">25</text><line x1="141" y1="310.46" x2="152" y2="310.46" stroke="#a8a8a8" stroke-width="1.3"/><text x="131.3" y="315.56" text-anchor="end" font-size="17.3" fill="#333" stroke="#333" stroke-width="0.35" textLength="21.75" lengthAdjust="spacingAndGlyphs">30</text><line x1="141" y1="250.17" x2="152" y2="250.17" stroke="#a8a8a8" stroke-width="1.3"/><text x="131.3" y="255.27" text-anchor="end" font-size="17.3" fill="#333" stroke="#333" stroke-width="0.35" textLength="21.75" lengthAdjust="spacingAndGlyphs">35</text><line x1="141" y1="189.88" x2="152" y2="189.88" stroke="#a8a8a8" stroke-width="1.3"/><text x="131.3" y="194.98" text-anchor="end" font-size="17.3" fill="#333" stroke="#333" stroke-width="0.35" textLength="21.75" lengthAdjust="spacingAndGlyphs">40</text><line x1="141" y1="129.59" x2="152" y2="129.59" stroke="#a8a8a8" stroke-width="1.3"/><text x="131.3" y="134.69" text-anchor="end" font-size="17.3" fill="#333" stroke="#333" stroke-width="0.35" textLength="21.75" lengthAdjust="spacingAndGlyphs">45</text><line x1="141" y1="69.3" x2="152" y2="69.3" stroke="#a8a8a8" stroke-width="1.3"/><text x="131.3" y="74.4" text-anchor="end" font-size="17.3" fill="#333" stroke="#333" stroke-width="0.35" textLength="21.75" lengthAdjust="spacingAndGlyphs">50</text><line x1="153.6" y1="674.5" x2="153.6" y2="683.5" stroke="#bbbbbb" stroke-width="1.3"/><text x="153.1" y="706.9" text-anchor="middle" font-size="17.5" fill="#111" stroke="#111" stroke-width="0.35" textLength="21.95" lengthAdjust="spacingAndGlyphs">0h</text><line x1="247.24" y1="674.5" x2="247.24" y2="683.5" stroke="#bbbbbb" stroke-width="1.3"/><text x="246.74" y="706.9" text-anchor="middle" font-size="17.5" fill="#111" stroke="#111" stroke-width="0.35" textLength="21.95" lengthAdjust="spacingAndGlyphs">1h</text><line x1="340.88" y1="674.5" x2="340.88" y2="683.5" stroke="#bbbbbb" stroke-width="1.3"/><text x="340.38" y="706.9" text-anchor="middle" font-size="17.5" fill="#111" stroke="#111" stroke-width="0.35" textLength="21.95" lengthAdjust="spacingAndGlyphs">2h</text><line x1="434.52" y1="674.5" x2="434.52" y2="683.5" stroke="#bbbbbb" stroke-width="1.3"/><text x="434.02" y="706.9" text-anchor="middle" font-size="17.5" fill="#111" stroke="#111" stroke-width="0.35" textLength="21.95" lengthAdjust="spacingAndGlyphs">3h</text><line x1="528.17" y1="674.5" x2="528.17" y2="683.5" stroke="#bbbbbb" stroke-width="1.3"/><text x="527.67" y="706.9" text-anchor="middle" font-size="17.5" fill="#111" stroke="#111" stroke-width="0.35" textLength="21.95" lengthAdjust="spacingAndGlyphs">4h</text><line x1="621.81" y1="674.5" x2="621.81" y2="683.5" stroke="#bbbbbb" stroke-width="1.3"/><text x="621.31" y="706.9" text-anchor="middle" font-size="17.5" fill="#111" stroke="#111" stroke-width="0.35" textLength="21.95" lengthAdjust="spacingAndGlyphs">5h</text><line x1="715.45" y1="674.5" x2="715.45" y2="683.5" stroke="#bbbbbb" stroke-width="1.3"/><text x="714.95" y="706.9" text-anchor="middle" font-size="17.5" fill="#111" stroke="#111" stroke-width="0.35" textLength="21.95" lengthAdjust="spacingAndGlyphs">6h</text><line x1="809.09" y1="674.5" x2="809.09" y2="683.5" stroke="#bbbbbb" stroke-width="1.3"/><text x="808.59" y="706.9" text-anchor="middle" font-size="17.5" fill="#111" stroke="#111" stroke-width="0.35" textLength="21.95" lengthAdjust="spacingAndGlyphs">7h</text><line x1="902.73" y1="674.5" x2="902.73" y2="683.5" stroke="#bbbbbb" stroke-width="1.3"/><text x="902.23" y="706.9" text-anchor="middle" font-size="17.5" fill="#111" stroke="#111" stroke-width="0.35" textLength="21.95" lengthAdjust="spacingAndGlyphs">8h</text><line x1="996.38" y1="674.5" x2="996.38" y2="683.5" stroke="#bbbbbb" stroke-width="1.3"/><text x="995.88" y="706.9" text-anchor="middle" font-size="17.5" fill="#111" stroke="#111" stroke-width="0.35" textLength="21.95" lengthAdjust="spacingAndGlyphs">9h</text><line x1="1090.02" y1="674.5" x2="1090.02" y2="683.5" stroke="#bbbbbb" stroke-width="1.3"/><text x="1089.52" y="706.9" text-anchor="middle" font-size="17.5" fill="#111" stroke="#111" stroke-width="0.35" textLength="32.96" lengthAdjust="spacingAndGlyphs">10h</text><line x1="1183.66" y1="674.5" x2="1183.66" y2="683.5" stroke="#bbbbbb" stroke-width="1.3"/><text x="1183.16" y="706.9" text-anchor="middle" font-size="17.5" fill="#111" stroke="#111" stroke-width="0.35" textLength="32.96" lengthAdjust="spacingAndGlyphs">11h</text><line x1="1277.3" y1="674.5" x2="1277.3" y2="683.5" stroke="#bbbbbb" stroke-width="1.3"/><text x="1276.8" y="706.9" text-anchor="middle" font-size="17.5" fill="#111" stroke="#111" stroke-width="0.35" textLength="32.96" lengthAdjust="spacingAndGlyphs">12h</text><line x1="1370.94" y1="674.5" x2="1370.94" y2="683.5" stroke="#bbbbbb" stroke-width="1.3"/><text x="1370.44" y="706.9" text-anchor="middle" font-size="17.5" fill="#111" stroke="#111" stroke-width="0.35" textLength="32.96" lengthAdjust="spacingAndGlyphs">13h</text><line x1="1464.58" y1="674.5" x2="1464.58" y2="683.5" stroke="#bbbbbb" stroke-width="1.3"/><text x="1464.08" y="706.9" text-anchor="middle" font-size="17.5" fill="#111" stroke="#111" stroke-width="0.35" textLength="32.96" lengthAdjust="spacingAndGlyphs">14h</text><line x1="1558.22" y1="674.5" x2="1558.22" y2="683.5" stroke="#bbbbbb" stroke-width="1.3"/><text x="1557.72" y="706.9" text-anchor="middle" font-size="17.5" fill="#111" stroke="#111" stroke-width="0.35" textLength="32.96" lengthAdjust="spacingAndGlyphs">15h</text><line x1="1651.87" y1="674.5" x2="1651.87" y2="683.5" stroke="#bbbbbb" stroke-width="1.3"/><text x="1651.37" y="706.9" text-anchor="middle" font-size="17.5" fill="#111" stroke="#111" stroke-width="0.35" textLength="32.96" lengthAdjust="spacingAndGlyphs">16h</text><line x1="1745.51" y1="674.5" x2="1745.51" y2="683.5" stroke="#bbbbbb" stroke-width="1.3"/><text x="1745.01" y="706.9" text-anchor="middle" font-size="17.5" fill="#111" stroke="#111" stroke-width="0.35" textLength="32.96" lengthAdjust="spacingAndGlyphs">17h</text><line x1="1839.15" y1="674.5" x2="1839.15" y2="683.5" stroke="#bbbbbb" stroke-width="1.3"/><text x="1838.65" y="706.9" text-anchor="middle" font-size="17.5" fill="#111" stroke="#111" stroke-width="0.35" textLength="32.96" lengthAdjust="spacingAndGlyphs">18h</text><line x1="1932.79" y1="674.5" x2="1932.79" y2="683.5" stroke="#bbbbbb" stroke-width="1.3"/><text x="1932.29" y="706.9" text-anchor="middle" font-size="17.5" fill="#111" stroke="#111" stroke-width="0.35" textLength="32.96" lengthAdjust="spacingAndGlyphs">19h</text><line x1="2026.43" y1="674.5" x2="2026.43" y2="683.5" stroke="#bbbbbb" stroke-width="1.3"/><text x="2025.93" y="706.9" text-anchor="middle" font-size="17.5" fill="#111" stroke="#111" stroke-width="0.35" textLength="32.96" lengthAdjust="spacingAndGlyphs">20h</text><line x1="2120.07" y1="674.5" x2="2120.07" y2="683.5" stroke="#bbbbbb" stroke-width="1.3"/><text x="2119.57" y="706.9" text-anchor="middle" font-size="17.5" fill="#111" stroke="#111" stroke-width="0.35" textLength="32.96" lengthAdjust="spacingAndGlyphs">21h</text><line x1="2213.72" y1="674.5" x2="2213.72" y2="683.5" stroke="#bbbbbb" stroke-width="1.3"/><text x="2213.22" y="706.9" text-anchor="middle" font-size="17.5" fill="#111" stroke="#111" stroke-width="0.35" textLength="32.96" lengthAdjust="spacingAndGlyphs">22h</text><line x1="2307.36" y1="674.5" x2="2307.36" y2="683.5" stroke="#bbbbbb" stroke-width="1.3"/><text x="2306.86" y="706.9" text-anchor="middle" font-size="17.5" fill="#111" stroke="#111" stroke-width="0.35" textLength="32.96" lengthAdjust="spacingAndGlyphs">23h</text><line x1="2401" y1="674.5" x2="2401" y2="683.5" stroke="#bbbbbb" stroke-width="1.3"/><text x="2400.5" y="706.9" text-anchor="middle" font-size="17.5" fill="#111" stroke="#111" stroke-width="0.35" textLength="21.95" lengthAdjust="spacingAndGlyphs">0h</text><text transform="translate(86.3 370.3) rotate(-90)" text-anchor="middle" font-size="23.5" fill="#333" textLength="30.5" lengthAdjust="spacingAndGlyphs">kW</text><rect x="155.65" y="815.4" width="2261.35" height="504.9" fill="#efefef" filter="url(#psh)"/><rect x="478.55" y="1219.32" width="322.9" height="50.49" fill="#fff"/><rect x="1124.35" y="1219.32" width="322.9" height="50.49" fill="#fff"/><rect x="1770.15" y="1219.32" width="322.9" height="50.49" fill="#fff"/><line x1="478.55" y1="1219.32" x2="478.55" y2="1269.81" stroke="#cfcfcf" stroke-width="1.3"/><line x1="801.45" y1="1219.32" x2="801.45" y2="1269.81" stroke="#cfcfcf" stroke-width="1.3"/><line x1="1124.35" y1="1219.32" x2="1124.35" y2="1269.81" stroke="#cfcfcf" stroke-width="1.3"/><line x1="1447.25" y1="1219.32" x2="1447.25" y2="1269.81" stroke="#cfcfcf" stroke-width="1.3"/><line x1="1770.15" y1="1219.32" x2="1770.15" y2="1269.81" stroke="#cfcfcf" stroke-width="1.3"/><line x1="2093.05" y1="1219.32" x2="2093.05" y2="1269.81" stroke="#cfcfcf" stroke-width="1.3"/><line x1="2415.95" y1="1219.32" x2="2415.95" y2="1269.81" stroke="#cfcfcf" stroke-width="1.3"/><rect x="478.55" y="1118.34" width="322.9" height="50.49" fill="#fff"/><rect x="1124.35" y="1118.34" width="322.9" height="50.49" fill="#fff"/><rect x="1770.15" y="1118.34" width="322.9" height="50.49" fill="#fff"/><line x1="478.55" y1="1118.34" x2="478.55" y2="1168.83" stroke="#cfcfcf" stroke-width="1.3"/><line x1="801.45" y1="1118.34" x2="801.45" y2="1168.83" stroke="#cfcfcf" stroke-width="1.3"/><line x1="1124.35" y1="1118.34" x2="1124.35" y2="1168.83" stroke="#cfcfcf" stroke-width="1.3"/><line x1="1447.25" y1="1118.34" x2="1447.25" y2="1168.83" stroke="#cfcfcf" stroke-width="1.3"/><line x1="1770.15" y1="1118.34" x2="1770.15" y2="1168.83" stroke="#cfcfcf" stroke-width="1.3"/><line x1="2093.05" y1="1118.34" x2="2093.05" y2="1168.83" stroke="#cfcfcf" stroke-width="1.3"/><line x1="2415.95" y1="1118.34" x2="2415.95" y2="1168.83" stroke="#cfcfcf" stroke-width="1.3"/><rect x="478.55" y="1017.36" width="322.9" height="50.49" fill="#fff"/><rect x="1124.35" y="1017.36" width="322.9" height="50.49" fill="#fff"/><rect x="1770.15" y="1017.36" width="322.9" height="50.49" fill="#fff"/><line x1="478.55" y1="1017.36" x2="478.55" y2="1067.85" stroke="#cfcfcf" stroke-width="1.3"/><line x1="801.45" y1="1017.36" x2="801.45" y2="1067.85" stroke="#cfcfcf" stroke-width="1.3"/><line x1="1124.35" y1="1017.36" x2="1124.35" y2="1067.85" stroke="#cfcfcf" stroke-width="1.3"/><line x1="1447.25" y1="1017.36" x2="1447.25" y2="1067.85" stroke="#cfcfcf" stroke-width="1.3"/><line x1="1770.15" y1="1017.36" x2="1770.15" y2="1067.85" stroke="#cfcfcf" stroke-width="1.3"/><line x1="2093.05" y1="1017.36" x2="2093.05" y2="1067.85" stroke="#cfcfcf" stroke-width="1.3"/><line x1="2415.95" y1="1017.36" x2="2415.95" y2="1067.85" stroke="#cfcfcf" stroke-width="1.3"/><rect x="478.55" y="916.38" width="322.9" height="50.49" fill="#fff"/><rect x="1124.35" y="916.38" width="322.9" height="50.49" fill="#fff"/><rect x="1770.15" y="916.38" width="322.9" height="50.49" fill="#fff"/><line x1="478.55" y1="916.38" x2="478.55" y2="966.87" stroke="#cfcfcf" stroke-width="1.3"/><line x1="801.45" y1="916.38" x2="801.45" y2="966.87" stroke="#cfcfcf" stroke-width="1.3"/><line x1="1124.35" y1="916.38" x2="1124.35" y2="966.87" stroke="#cfcfcf" stroke-width="1.3"/><line x1="1447.25" y1="916.38" x2="1447.25" y2="966.87" stroke="#cfcfcf" stroke-width="1.3"/><line x1="1770.15" y1="916.38" x2="1770.15" y2="966.87" stroke="#cfcfcf" stroke-width="1.3"/><line x1="2093.05" y1="916.38" x2="2093.05" y2="966.87" stroke="#cfcfcf" stroke-width="1.3"/><line x1="2415.95" y1="916.38" x2="2415.95" y2="966.87" stroke="#cfcfcf" stroke-width="1.3"/><rect x="478.55" y="815.4" width="322.9" height="50.49" fill="#fff"/><rect x="1124.35" y="815.4" width="322.9" height="50.49" fill="#fff"/><rect x="1770.15" y="815.4" width="322.9" height="50.49" fill="#fff"/><line x1="478.55" y1="815.4" x2="478.55" y2="865.89" stroke="#cfcfcf" stroke-width="1.3"/><line x1="801.45" y1="815.4" x2="801.45" y2="865.89" stroke="#cfcfcf" stroke-width="1.3"/><line x1="1124.35" y1="815.4" x2="1124.35" y2="865.89" stroke="#cfcfcf" stroke-width="1.3"/><line x1="1447.25" y1="815.4" x2="1447.25" y2="865.89" stroke="#cfcfcf" stroke-width="1.3"/><line x1="1770.15" y1="815.4" x2="1770.15" y2="865.89" stroke="#cfcfcf" stroke-width="1.3"/><line x1="2093.05" y1="815.4" x2="2093.05" y2="865.89" stroke="#cfcfcf" stroke-width="1.3"/><line x1="2415.95" y1="815.4" x2="2415.95" y2="865.89" stroke="#cfcfcf" stroke-width="1.3"/><line x1="155.65" y1="1269.81" x2="2417" y2="1269.81" stroke="#c6c6c6" stroke-width="1.3"/><line x1="155.65" y1="1219.32" x2="2417" y2="1219.32" stroke="#c6c6c6" stroke-width="1.3"/><line x1="155.65" y1="1168.83" x2="2417" y2="1168.83" stroke="#c6c6c6" stroke-width="1.3"/><line x1="155.65" y1="1118.34" x2="2417" y2="1118.34" stroke="#c6c6c6" stroke-width="1.3"/><line x1="155.65" y1="1067.85" x2="2417" y2="1067.85" stroke="#c6c6c6" stroke-width="1.3"/><line x1="155.65" y1="1017.36" x2="2417" y2="1017.36" stroke="#c6c6c6" stroke-width="1.3"/><line x1="155.65" y1="966.87" x2="2417" y2="966.87" stroke="#c6c6c6" stroke-width="1.3"/><line x1="155.65" y1="916.38" x2="2417" y2="916.38" stroke="#c6c6c6" stroke-width="1.3"/><line x1="155.65" y1="865.89" x2="2417" y2="865.89" stroke="#c6c6c6" stroke-width="1.3"/><line x1="155.65" y1="815.4" x2="2417" y2="815.4" stroke="#c6c6c6" stroke-width="1.3"/><path d="M155.65 1320.3V1300.1H156.21V1320.3ZM156.21 1320.3V1310.2H157.33V1320.3ZM157.33 1320.3V1300.1H158.45V1320.3ZM158.45 1320.3V1310.2H159.57V1320.3ZM159.57 1320.3V1300.1H160.7V1320.3ZM160.7 1320.3V1310.2H161.82V1320.3ZM161.82 1320.3V1300.1H162.94V1320.3ZM162.94 1320.3V1310.2H164.06V1320.3ZM164.06 1320.3V1300.1H165.18V1320.3ZM165.18 1320.3V1310.2H166.3V1320.3ZM166.3 1320.3V1300.1H167.42V1320.3ZM167.42 1320.3V1310.2H168.54V1320.3ZM168.54 1320.3V1310.2H169.66V1320.3ZM169.66 1320.3V1310.2H170.79V1320.3ZM170.79 1320.3V1300.1H171.91V1320.3ZM171.91 1320.3V1310.2H173.03V1320.3ZM173.03 1320.3V1300.1H174.15V1320.3ZM174.15 1320.3V1310.2H175.27V1320.3ZM175.27 1320.3V1300.1H176.39V1320.3ZM176.39 1320.3V1310.2H177.51V1320.3ZM177.51 1320.3V1279.91H178.63V1320.3ZM178.63 1320.3V1300.1H179.76V1320.3ZM179.76 1320.3V1300.1H180.88V1320.3ZM180.88 1320.3V1300.1H182V1320.3ZM182 1320.3V1300.1H183.12V1320.3ZM183.12 1320.3V1310.2H184.24V1320.3ZM184.24 1320.3V1300.1H185.36V1320.3ZM185.36 1320.3V1310.2H186.48V1320.3ZM186.48 1320.3V1300.1H187.6V1320.3ZM187.6 1320.3V1310.2H188.72V1320.3ZM188.72 1320.3V1300.1H189.85V1320.3ZM189.85 1320.3V1310.2H190.97V1320.3ZM190.97 1320.3V1310.2H192.09V1320.3ZM192.09 1320.3V1310.2H193.21V1320.3ZM193.21 1320.3V1300.1H194.33V1320.3ZM194.33 1320.3V1310.2H195.45V1320.3ZM195.45 1320.3V1300.1H196.57V1320.3ZM196.57 1320.3V1310.2H197.69V1320.3ZM197.69 1320.3V1300.1H198.82V1320.3ZM198.82 1320.3V1310.2H199.94V1320.3ZM199.94 1320.3V1290.01H201.06V1320.3ZM201.06 1320.3V1310.2H202.18V1320.3ZM202.18 1320.3V1310.2H203.3V1320.3ZM203.3 1320.3V1310.2H204.42V1320.3ZM204.42 1320.3V1300.1H205.54V1320.3ZM205.54 1320.3V1310.2H206.66V1320.3ZM206.66 1320.3V1300.1H207.78V1320.3ZM207.78 1320.3V1310.2H208.91V1320.3ZM208.91 1320.3V1300.1H210.03V1320.3ZM210.03 1320.3V1310.2H211.15V1320.3ZM211.15 1320.3V1310.2H212.27V1320.3ZM212.27 1320.3V1300.1H213.39V1320.3ZM213.39 1320.3V1300.1H214.51V1320.3ZM214.51 1320.3V1310.2H215.63V1320.3ZM215.63 1320.3V1300.1H216.75V1320.3ZM216.75 1320.3V1310.2H217.88V1320.3ZM217.88 1320.3V1310.2H219V1320.3ZM219 1320.3V1310.2H220.12V1320.3ZM220.12 1320.3V1300.1H221.24V1320.3ZM221.24 1320.3V1310.2H222.36V1320.3ZM222.36 1320.3V1300.1H223.48V1320.3ZM223.48 1320.3V1310.2H224.6V1320.3ZM224.6 1320.3V1300.1H225.72V1320.3ZM225.72 1320.3V1310.2H226.84V1320.3ZM226.84 1320.3V1310.2H227.97V1320.3ZM227.97 1320.3V1310.2H229.09V1320.3ZM229.09 1320.3V1290.01H230.21V1320.3ZM230.21 1320.3V1310.2H231.33V1320.3ZM231.33 1320.3V1300.1H232.45V1320.3ZM232.45 1320.3V1310.2H233.57V1320.3ZM233.57 1320.3V1300.1H234.69V1320.3ZM234.69 1320.3V1310.2H235.81V1320.3ZM383.81 1320.3V1300.1H384.93V1320.3ZM384.93 1320.3V1310.2H386.05V1320.3ZM386.05 1320.3V1290.01H387.17V1320.3ZM387.17 1320.3V1290.01H388.29V1320.3ZM388.29 1320.3V1300.1H389.42V1320.3ZM389.42 1320.3V1290.01H390.54V1320.3ZM390.54 1320.3V1300.1H391.66V1320.3ZM391.66 1320.3V1300.1H392.78V1320.3ZM392.78 1320.3V1300.1H393.9V1320.3ZM393.9 1320.3V1310.2H395.02V1320.3ZM395.02 1320.3V1300.1H396.14V1320.3ZM396.14 1320.3V1310.2H397.26V1320.3ZM397.26 1320.3V1300.1H398.39V1320.3ZM398.39 1320.3V1279.91H399.51V1320.3ZM399.51 1320.3V1279.91H400.63V1320.3ZM400.63 1320.3V1310.2H401.75V1320.3ZM401.75 1320.3V1300.1H402.87V1320.3ZM402.87 1320.3V1310.2H403.99V1320.3ZM403.99 1320.3V1300.1H405.11V1320.3ZM405.11 1320.3V1310.2H406.23V1320.3ZM406.23 1320.3V1300.1H407.36V1320.3ZM407.36 1320.3V1300.1H408.48V1320.3ZM408.48 1320.3V1300.1H409.6V1320.3ZM409.6 1320.3V1310.2H410.72V1320.3ZM410.72 1320.3V1310.2H411.84V1320.3ZM411.84 1320.3V1310.2H412.96V1320.3ZM412.96 1320.3V1300.1H414.08V1320.3ZM414.08 1320.3V1310.2H415.2V1320.3ZM415.2 1320.3V1300.1H416.32V1320.3ZM416.32 1320.3V1310.2H417.45V1320.3ZM417.45 1320.3V1300.1H418.57V1320.3ZM418.57 1320.3V1310.2H419.69V1320.3ZM419.69 1320.3V1300.1H420.81V1320.3ZM420.81 1320.3V1300.1H421.93V1320.3ZM421.93 1320.3V1300.1H423.05V1320.3ZM423.05 1320.3V1310.2H424.17V1320.3ZM424.17 1320.3V1300.1H425.29V1320.3ZM425.29 1320.3V1310.2H426.42V1320.3ZM426.42 1320.3V1300.1H427.54V1320.3ZM427.54 1320.3V1300.1H428.66V1320.3ZM428.66 1320.3V1300.1H429.78V1320.3ZM429.78 1320.3V1310.2H430.9V1320.3ZM430.9 1320.3V1300.1H432.02V1320.3ZM432.02 1320.3V1310.2H433.14V1320.3ZM433.14 1320.3V1300.1H434.26V1320.3ZM434.26 1320.3V1310.2H435.38V1320.3ZM435.38 1320.3V1300.1H436.51V1320.3ZM436.51 1320.3V1310.2H437.63V1320.3ZM437.63 1320.3V1310.2H438.75V1320.3ZM438.75 1320.3V1310.2H439.87V1320.3ZM439.87 1320.3V1300.1H440.99V1320.3ZM440.99 1320.3V1300.1H442.11V1320.3ZM442.11 1320.3V1300.1H443.23V1320.3ZM443.23 1320.3V1300.1H444.35V1320.3ZM444.35 1320.3V1300.1H445.48V1320.3ZM445.48 1320.3V1310.2H446.6V1320.3ZM446.6 1320.3V1300.1H447.72V1320.3ZM447.72 1320.3V1300.1H448.84V1320.3ZM448.84 1320.3V1310.2H449.96V1320.3ZM449.96 1320.3V1310.2H451.08V1320.3ZM451.08 1320.3V1300.1H452.2V1320.3ZM452.2 1320.3V1310.2H453.32V1320.3ZM453.32 1320.3V1300.1H454.44V1320.3ZM454.44 1320.3V1300.1H455.57V1320.3ZM455.57 1320.3V1310.2H456.69V1320.3ZM456.69 1320.3V1300.1H457.81V1320.3ZM457.81 1320.3V1300.1H458.93V1320.3ZM458.93 1320.3V1310.2H460.05V1320.3ZM460.05 1320.3V1300.1H461.17V1320.3ZM461.17 1320.3V1310.2H462.29V1320.3ZM462.29 1320.3V1300.1H463.41V1320.3ZM463.41 1320.3V1310.2H464.54V1320.3ZM464.54 1320.3V1310.2H465.66V1320.3ZM465.66 1320.3V1310.2H466.78V1320.3ZM466.78 1320.3V1300.1H467.9V1320.3ZM467.9 1320.3V1310.2H469.02V1320.3ZM469.02 1320.3V1290.01H470.14V1320.3ZM470.14 1320.3V1310.2H471.26V1320.3ZM471.26 1320.3V1300.1H472.38V1320.3ZM472.38 1320.3V1310.2H473.5V1320.3ZM473.5 1320.3V1300.1H474.63V1320.3ZM474.63 1320.3V1310.2H475.75V1320.3ZM475.75 1320.3V1300.1H476.87V1320.3ZM476.87 1320.3V1310.2H477.99V1320.3ZM477.99 1320.3V1300.1H479.11V1320.3ZM479.11 1320.3V1300.1H480.23V1320.3ZM480.23 1320.3V1290.01H481.35V1320.3ZM481.35 1320.3V1290.01H482.47V1320.3ZM482.47 1320.3V1290.01H483.6V1320.3ZM483.6 1320.3V1290.01H484.72V1320.3ZM484.72 1320.3V1300.1H485.84V1320.3ZM485.84 1320.3V1300.1H486.96V1320.3ZM486.96 1320.3V1300.1H488.08V1320.3ZM488.08 1320.3V1300.1H489.2V1320.3ZM489.2 1320.3V1300.1H490.32V1320.3ZM490.32 1320.3V1310.2H491.44V1320.3ZM491.44 1320.3V1310.2H492.56V1320.3ZM492.56 1320.3V1310.2H493.69V1320.3ZM493.69 1320.3V1310.2H494.81V1320.3ZM494.81 1320.3V1300.1H495.93V1320.3ZM495.93 1320.3V1300.1H497.05V1320.3ZM497.05 1320.3V1300.1H498.17V1320.3ZM498.17 1320.3V1300.1H499.29V1320.3ZM499.29 1320.3V1310.2H500.41V1320.3ZM500.41 1320.3V1300.1H501.53V1320.3ZM501.53 1320.3V1310.2H502.66V1320.3ZM502.66 1320.3V1310.2H503.78V1320.3ZM503.78 1320.3V1310.2H504.9V1320.3ZM504.9 1320.3V1310.2H506.02V1320.3ZM506.02 1320.3V1310.2H507.14V1320.3ZM507.14 1320.3V1300.1H508.26V1320.3ZM508.26 1320.3V1310.2H509.38V1320.3ZM509.38 1320.3V1300.1H510.5V1320.3ZM510.5 1320.3V1310.2H511.62V1320.3ZM511.62 1320.3V1300.1H512.75V1320.3ZM512.75 1320.3V1310.2H513.87V1320.3ZM513.87 1320.3V1300.1H514.99V1320.3ZM514.99 1320.3V1310.2H516.11V1320.3ZM516.11 1320.3V1300.1H517.23V1320.3ZM517.23 1320.3V1310.2H518.35V1320.3ZM518.35 1320.3V1300.1H519.47V1320.3ZM519.47 1320.3V1310.2H520.59V1320.3ZM520.59 1320.3V1300.1H521.72V1320.3ZM521.72 1320.3V1310.2H522.84V1320.3ZM522.84 1320.3V1300.1H523.96V1320.3ZM523.96 1320.3V1300.1H525.08V1320.3ZM525.08 1320.3V1300.1H526.2V1320.3ZM526.2 1320.3V1310.2H527.32V1320.3ZM527.32 1320.3V1300.1H528.44V1320.3ZM528.44 1320.3V1310.2H529.56V1320.3ZM529.56 1320.3V1310.2H530.68V1320.3ZM530.68 1320.3V1310.2H531.81V1320.3ZM531.81 1320.3V1300.1H532.93V1320.3ZM532.93 1320.3V1310.2H534.05V1320.3ZM534.05 1320.3V1300.1H535.17V1320.3ZM535.17 1320.3V1310.2H536.29V1320.3ZM536.29 1320.3V1300.1H537.41V1320.3ZM537.41 1320.3V1310.2H538.53V1320.3ZM538.53 1320.3V1300.1H539.65V1320.3ZM539.65 1320.3V1310.2H540.78V1320.3ZM540.78 1320.3V1300.1H541.9V1320.3ZM541.9 1320.3V1310.2H543.02V1320.3ZM543.02 1320.3V1310.2H544.14V1320.3ZM544.14 1320.3V1300.1H545.26V1320.3ZM545.26 1320.3V1290.01H546.38V1320.3ZM546.38 1320.3V1290.01H547.5V1320.3ZM547.5 1320.3V1279.91H548.62V1320.3ZM548.62 1320.3V1279.91H549.74V1320.3ZM549.74 1320.3V1279.91H550.87V1320.3ZM550.87 1320.3V1279.91H551.99V1320.3ZM551.99 1320.3V1279.91H553.11V1320.3ZM553.11 1320.3V1279.91H554.23V1320.3ZM554.23 1320.3V1290.01H555.35V1320.3ZM555.35 1320.3V1290.01H556.47V1320.3ZM556.47 1320.3V1290.01H557.59V1320.3ZM557.59 1320.3V1290.01H558.71V1320.3ZM558.71 1320.3V1300.1H559.84V1320.3ZM559.84 1320.3V1290.01H560.96V1320.3ZM560.96 1320.3V1290.01H562.08V1320.3ZM562.08 1320.3V1300.1H563.2V1320.3ZM563.2 1320.3V1300.1H564.32V1320.3ZM564.32 1320.3V1290.01H565.44V1320.3ZM565.44 1320.3V1290.01H566.56V1320.3ZM566.56 1320.3V1290.01H567.68V1320.3ZM567.68 1320.3V1290.01H568.81V1320.3ZM568.81 1320.3V1290.01H569.93V1320.3ZM569.93 1320.3V1290.01H571.05V1320.3ZM571.05 1320.3V1300.1H572.17V1320.3ZM572.17 1320.3V1290.01H573.29V1320.3ZM573.29 1320.3V1290.01H574.41V1320.3ZM574.41 1320.3V1290.01H575.53V1320.3ZM575.53 1320.3V1300.1H576.65V1320.3ZM576.65 1320.3V1290.01H577.77V1320.3ZM577.77 1320.3V1300.1H578.9V1320.3ZM578.9 1320.3V1290.01H580.02V1320.3ZM580.02 1320.3V1300.1H581.14V1320.3ZM581.14 1320.3V1290.01H582.26V1320.3ZM582.26 1320.3V1300.1H583.38V1320.3ZM583.38 1320.3V1290.01H584.5V1320.3ZM584.5 1320.3V1290.01H585.62V1320.3ZM585.62 1320.3V1290.01H586.74V1320.3ZM586.74 1320.3V1290.01H587.87V1320.3ZM587.87 1320.3V1290.01H588.99V1320.3ZM588.99 1320.3V1290.01H590.11V1320.3ZM590.11 1320.3V1290.01H591.23V1320.3ZM591.23 1320.3V1300.1H592.35V1320.3ZM592.35 1320.3V1300.1H593.47V1320.3ZM593.47 1320.3V1310.2H594.59V1320.3ZM594.59 1320.3V1300.1H595.71V1320.3ZM595.71 1320.3V1310.2H596.83V1320.3ZM596.83 1320.3V1300.1H597.96V1320.3ZM597.96 1320.3V1310.2H599.08V1320.3ZM599.08 1320.3V1300.1H600.2V1320.3ZM600.2 1320.3V1310.2H601.32V1320.3ZM601.32 1320.3V1300.1H602.44V1320.3ZM602.44 1320.3V1310.2H603.56V1320.3ZM603.56 1320.3V1300.1H604.68V1320.3ZM604.68 1320.3V1310.2H605.8V1320.3ZM605.8 1320.3V1300.1H606.93V1320.3ZM606.93 1320.3V1310.2H608.05V1320.3ZM608.05 1320.3V1300.1H609.17V1320.3ZM609.17 1320.3V1310.2H610.29V1320.3ZM610.29 1320.3V1300.1H611.41V1320.3ZM611.41 1320.3V1310.2H612.53V1320.3ZM612.53 1320.3V1290.01H613.65V1320.3ZM613.65 1320.3V1290.01H614.77V1320.3ZM614.77 1320.3V1300.1H615.89V1320.3ZM615.89 1320.3V1310.2H617.02V1320.3ZM617.02 1320.3V1300.1H618.14V1320.3ZM618.14 1320.3V1310.2H619.26V1320.3ZM619.26 1320.3V1300.1H620.38V1320.3ZM620.38 1320.3V1310.2H621.5V1320.3ZM621.5 1320.3V1310.2H622.62V1320.3ZM622.62 1320.3V1310.2H623.74V1320.3ZM623.74 1320.3V1300.1H624.86V1320.3ZM624.86 1320.3V1310.2H625.99V1320.3ZM625.99 1320.3V1300.1H627.11V1320.3ZM627.11 1320.3V1310.2H628.23V1320.3ZM628.23 1320.3V1300.1H629.35V1320.3ZM629.35 1320.3V1310.2H630.47V1320.3ZM630.47 1320.3V1310.2H631.59V1320.3ZM631.59 1320.3V1310.2H632.71V1320.3ZM632.71 1320.3V1300.1H633.83V1320.3ZM633.83 1320.3V1310.2H634.95V1320.3ZM634.95 1320.3V1300.1H636.08V1320.3ZM636.08 1320.3V1310.2H637.2V1320.3ZM637.2 1320.3V1300.1H638.32V1320.3ZM638.32 1320.3V1310.2H639.44V1320.3ZM639.44 1320.3V1310.2H640.56V1320.3ZM640.56 1320.3V1310.2H641.68V1320.3ZM641.68 1320.3V1300.1H642.8V1320.3ZM642.8 1320.3V1310.2H643.92V1320.3ZM643.92 1320.3V1300.1H645.05V1320.3ZM645.05 1320.3V1310.2H646.17V1320.3ZM646.17 1320.3V1310.2H647.29V1320.3ZM647.29 1320.3V1310.2H648.41V1320.3ZM648.41 1320.3V1300.1H649.53V1320.3ZM649.53 1320.3V1310.2H650.65V1320.3ZM650.65 1320.3V1300.1H651.77V1320.3ZM651.77 1320.3V1310.2H652.89V1320.3ZM652.89 1320.3V1300.1H654.01V1320.3ZM654.01 1320.3V1300.1H655.14V1320.3ZM655.14 1320.3V1300.1H656.26V1320.3ZM656.26 1320.3V1300.1H657.38V1320.3ZM657.38 1320.3V1300.1H658.5V1320.3ZM658.5 1320.3V1310.2H659.62V1320.3ZM659.62 1320.3V1300.1H660.74V1320.3ZM660.74 1320.3V1310.2H661.86V1320.3ZM661.86 1320.3V1300.1H662.98V1320.3ZM662.98 1320.3V1310.2H664.11V1320.3ZM664.11 1320.3V1300.1H665.23V1320.3ZM665.23 1320.3V1310.2H666.35V1320.3ZM666.35 1320.3V1300.1H667.47V1320.3ZM667.47 1320.3V1310.2H668.59V1320.3ZM668.59 1320.3V1310.2H669.71V1320.3ZM669.71 1320.3V1310.2H670.83V1320.3ZM670.83 1320.3V1310.2H671.95V1320.3ZM671.95 1320.3V1310.2H673.07V1320.3ZM673.07 1320.3V1300.1H674.2V1320.3ZM674.2 1320.3V1310.2H675.32V1320.3ZM675.32 1320.3V1300.1H676.44V1320.3ZM676.44 1320.3V1300.1H677.56V1320.3ZM677.56 1320.3V1310.2H678.68V1320.3ZM678.68 1320.3V1310.2H679.8V1320.3ZM679.8 1320.3V1310.2H680.92V1320.3ZM680.92 1320.3V1310.2H682.04V1320.3ZM682.04 1320.3V1300.1H683.17V1320.3ZM683.17 1320.3V1310.2H684.29V1320.3ZM684.29 1320.3V1300.1H685.41V1320.3ZM685.41 1320.3V1310.2H686.53V1320.3ZM686.53 1320.3V1300.1H687.65V1320.3ZM687.65 1320.3V1310.2H688.77V1320.3ZM688.77 1320.3V1300.1H689.89V1320.3ZM689.89 1320.3V1300.1H691.01V1320.3ZM691.01 1320.3V1310.2H692.13V1320.3ZM692.13 1320.3V1310.2H693.26V1320.3ZM693.26 1320.3V1300.1H694.38V1320.3ZM694.38 1320.3V1310.2H695.5V1320.3ZM695.5 1320.3V1310.2H696.62V1320.3ZM696.62 1320.3V1310.2H697.74V1320.3ZM697.74 1320.3V1300.1H698.86V1320.3ZM698.86 1320.3V1310.2H699.98V1320.3ZM699.98 1320.3V1310.2H701.1V1320.3ZM701.1 1320.3V1310.2H702.23V1320.3ZM702.23 1320.3V1300.1H703.35V1320.3ZM703.35 1320.3V1290.01H704.47V1320.3ZM704.47 1320.3V1300.1H705.59V1320.3ZM705.59 1320.3V1300.1H706.71V1320.3ZM706.71 1320.3V1300.1H707.83V1320.3ZM707.83 1320.3V1310.2H708.95V1320.3ZM708.95 1320.3V1300.1H710.07V1320.3ZM710.07 1320.3V1310.2H711.19V1320.3ZM711.19 1320.3V1300.1H712.32V1320.3ZM712.32 1320.3V1310.2H713.44V1320.3ZM713.44 1320.3V1310.2H714.56V1320.3ZM714.56 1320.3V1300.1H715.68V1320.3ZM715.68 1320.3V1300.1H716.8V1320.3ZM716.8 1320.3V1310.2H717.92V1320.3ZM717.92 1320.3V1310.2H719.04V1320.3ZM719.04 1320.3V1310.2H720.16V1320.3ZM720.16 1320.3V1290.01H721.29V1320.3ZM721.29 1320.3V1310.2H722.41V1320.3ZM722.41 1320.3V1290.01H723.53V1320.3ZM723.53 1320.3V1300.1H724.65V1320.3ZM724.65 1320.3V1300.1H725.77V1320.3ZM725.77 1320.3V1310.2H726.89V1320.3ZM726.89 1320.3V1310.2H728.01V1320.3ZM728.01 1320.3V1310.2H729.13V1320.3ZM729.13 1320.3V1300.1H730.26V1320.3ZM730.26 1320.3V1310.2H731.38V1320.3ZM731.38 1320.3V1300.1H732.5V1320.3ZM732.5 1320.3V1310.2H733.62V1320.3ZM733.62 1320.3V1300.1H734.74V1320.3ZM734.74 1320.3V1310.2H735.86V1320.3ZM735.86 1320.3V1310.2H736.98V1320.3ZM736.98 1320.3V1310.2H738.1V1320.3ZM738.1 1320.3V1300.1H739.22V1320.3ZM739.22 1320.3V1310.2H740.35V1320.3ZM740.35 1320.3V1300.1H741.47V1320.3ZM741.47 1320.3V1300.1H742.59V1320.3ZM742.59 1320.3V1310.2H743.71V1320.3ZM743.71 1320.3V1300.1H744.83V1320.3ZM744.83 1320.3V1300.1H745.95V1320.3ZM745.95 1320.3V1300.1H747.07V1320.3ZM747.07 1320.3V1300.1H748.19V1320.3ZM748.19 1320.3V1310.2H749.32V1320.3ZM749.32 1320.3V1300.1H750.44V1320.3ZM750.44 1320.3V1310.2H751.56V1320.3ZM751.56 1320.3V1300.1H752.68V1320.3ZM752.68 1320.3V1310.2H753.8V1320.3ZM753.8 1320.3V1300.1H754.92V1320.3ZM754.92 1320.3V1310.2H756.04V1320.3ZM756.04 1320.3V1300.1H757.16V1320.3ZM757.16 1320.3V1310.2H758.28V1320.3ZM758.28 1320.3V1310.2H759.41V1320.3ZM759.41 1320.3V1310.2H760.53V1320.3ZM760.53 1320.3V1300.1H761.65V1320.3ZM761.65 1320.3V1310.2H762.77V1320.3ZM762.77 1320.3V1300.1H763.89V1320.3ZM763.89 1320.3V1310.2H765.01V1320.3ZM765.01 1320.3V1300.1H766.13V1320.3ZM766.13 1320.3V1310.2H767.25V1320.3ZM767.25 1320.3V1300.1H768.38V1320.3ZM768.38 1320.3V1310.2H769.5V1320.3ZM769.5 1320.3V1300.1H770.62V1320.3ZM770.62 1320.3V1310.2H771.74V1320.3ZM771.74 1320.3V1300.1H772.86V1320.3ZM772.86 1320.3V1300.1H773.98V1320.3ZM773.98 1320.3V1300.1H775.1V1320.3ZM775.1 1320.3V1300.1H776.22V1320.3ZM776.22 1320.3V1300.1H777.34V1320.3ZM777.34 1320.3V1310.2H778.47V1320.3ZM778.47 1320.3V1300.1H779.59V1320.3ZM779.59 1320.3V1310.2H780.71V1320.3ZM780.71 1320.3V1300.1H781.83V1320.3ZM781.83 1320.3V1310.2H782.95V1320.3ZM782.95 1320.3V1300.1H784.07V1320.3ZM784.07 1320.3V1310.2H785.19V1320.3ZM785.19 1320.3V1290.01H786.31V1320.3ZM786.31 1320.3V1310.2H787.44V1320.3ZM787.44 1320.3V1300.1H788.56V1320.3ZM788.56 1320.3V1310.2H789.68V1320.3ZM789.68 1320.3V1300.1H790.8V1320.3ZM790.8 1320.3V1310.2H791.92V1320.3ZM791.92 1320.3V1300.1H793.04V1320.3ZM793.04 1320.3V1310.2H794.16V1320.3ZM794.16 1320.3V1300.1H795.28V1320.3ZM795.28 1320.3V1310.2H796.4V1320.3ZM796.4 1320.3V1300.1H797.53V1320.3ZM797.53 1320.3V1310.2H798.65V1320.3ZM798.65 1320.3V1300.1H799.77V1320.3ZM799.77 1320.3V1300.1H800.89V1320.3ZM800.89 1320.3V1300.1H802.01V1320.3ZM802.01 1320.3V1310.2H803.13V1320.3ZM803.13 1320.3V1300.1H804.25V1320.3ZM804.25 1320.3V1310.2H805.37V1320.3ZM805.37 1320.3V1310.2H806.5V1320.3ZM806.5 1320.3V1310.2H807.62V1320.3ZM807.62 1320.3V1300.1H808.74V1320.3ZM808.74 1320.3V1310.2H809.86V1320.3ZM809.86 1320.3V1300.1H810.98V1320.3ZM810.98 1320.3V1310.2H812.1V1320.3ZM812.1 1320.3V1300.1H813.22V1320.3ZM813.22 1320.3V1300.1H814.34V1320.3ZM814.34 1320.3V1300.1H815.46V1320.3ZM815.46 1320.3V1300.1H816.59V1320.3ZM816.59 1320.3V1300.1H817.71V1320.3ZM817.71 1320.3V1310.2H818.83V1320.3ZM818.83 1320.3V1300.1H819.95V1320.3ZM819.95 1320.3V1310.2H821.07V1320.3ZM821.07 1320.3V1300.1H822.19V1320.3ZM822.19 1320.3V1310.2H823.31V1320.3ZM823.31 1320.3V1310.2H824.43V1320.3ZM824.43 1320.3V1300.1H825.56V1320.3ZM825.56 1320.3V1300.1H826.68V1320.3ZM826.68 1320.3V1310.2H827.8V1320.3ZM827.8 1320.3V1300.1H828.92V1320.3ZM828.92 1320.3V1310.2H830.04V1320.3ZM830.04 1320.3V1310.2H831.16V1320.3ZM831.16 1320.3V1310.2H832.28V1320.3ZM832.28 1320.3V1300.1H833.4V1320.3ZM833.4 1320.3V1310.2H834.52V1320.3ZM834.52 1320.3V1300.1H835.65V1320.3ZM835.65 1320.3V1310.2H836.77V1320.3ZM836.77 1320.3V1300.1H837.89V1320.3ZM837.89 1320.3V1310.2H839.01V1320.3ZM839.01 1320.3V1300.1H840.13V1320.3ZM840.13 1320.3V1310.2H841.25V1320.3ZM841.25 1320.3V1300.1H842.37V1320.3ZM842.37 1320.3V1310.2H843.49V1320.3ZM843.49 1320.3V1310.2H844.62V1320.3ZM844.62 1320.3V1310.2H845.74V1320.3ZM845.74 1320.3V1300.1H846.86V1320.3ZM846.86 1320.3V1310.2H847.98V1320.3ZM847.98 1320.3V1300.1H849.1V1320.3ZM849.1 1320.3V1310.2H850.22V1320.3ZM850.22 1320.3V1300.1H851.34V1320.3ZM851.34 1320.3V1310.2H852.46V1320.3ZM852.46 1320.3V1310.2H853.58V1320.3ZM853.58 1320.3V1300.1H854.71V1320.3ZM854.71 1320.3V1279.91H855.83V1320.3ZM855.83 1320.3V1310.2H856.95V1320.3ZM856.95 1320.3V1300.1H858.07V1320.3ZM858.07 1320.3V1310.2H859.19V1320.3ZM859.19 1320.3V1310.2H860.31V1320.3ZM860.31 1320.3V1310.2H861.43V1320.3ZM861.43 1320.3V1300.1H862.55V1320.3ZM862.55 1320.3V1310.2H863.68V1320.3ZM863.68 1320.3V1300.1H864.8V1320.3ZM864.8 1320.3V1310.2H865.92V1320.3ZM865.92 1320.3V1300.1H867.04V1320.3ZM867.04 1320.3V1310.2H868.16V1320.3ZM868.16 1320.3V1310.2H869.28V1320.3ZM869.28 1320.3V1310.2H870.4V1320.3ZM870.4 1320.3V1300.1H871.52V1320.3ZM871.52 1320.3V1310.2H872.64V1320.3ZM872.64 1320.3V1300.1H873.77V1320.3ZM873.77 1320.3V1300.1H874.89V1320.3ZM874.89 1320.3V1300.1H876.01V1320.3ZM876.01 1320.3V1310.2H877.13V1320.3ZM877.13 1320.3V1300.1H878.25V1320.3ZM878.25 1320.3V1310.2H879.37V1320.3ZM879.37 1320.3V1300.1H880.49V1320.3ZM880.49 1320.3V1310.2H881.61V1320.3ZM881.61 1320.3V1300.1H882.74V1320.3ZM882.74 1320.3V1300.1H883.86V1320.3ZM883.86 1320.3V1300.1H884.98V1320.3ZM884.98 1320.3V1300.1H886.1V1320.3ZM886.1 1320.3V1300.1H887.22V1320.3ZM887.22 1320.3V1300.1H888.34V1320.3ZM888.34 1320.3V1300.1H889.46V1320.3ZM889.46 1320.3V1300.1H890.58V1320.3ZM890.58 1320.3V1290.01H891.71V1320.3ZM891.71 1320.3V1279.91H892.83V1320.3ZM892.83 1320.3V1290.01H893.95V1320.3ZM893.95 1320.3V1300.1H895.07V1320.3ZM895.07 1320.3V1290.01H896.19V1320.3ZM896.19 1320.3V1300.1H897.31V1320.3ZM897.31 1320.3V1290.01H898.43V1320.3ZM898.43 1320.3V1300.1H899.55V1320.3ZM899.55 1320.3V1300.1H900.67V1320.3ZM900.67 1320.3V1300.1H901.8V1320.3ZM901.8 1320.3V1300.1H902.92V1320.3ZM902.92 1320.3V1300.1H904.04V1320.3ZM904.04 1320.3V1300.1H905.16V1320.3ZM905.16 1320.3V1310.2H906.28V1320.3ZM906.28 1320.3V1300.1H907.4V1320.3ZM907.4 1320.3V1290.01H908.52V1320.3ZM908.52 1320.3V1279.91H909.64V1320.3ZM909.64 1320.3V1300.1H910.77V1320.3ZM910.77 1320.3V1290.01H911.89V1320.3ZM911.89 1320.3V1300.1H913.01V1320.3ZM913.01 1320.3V1279.91H914.13V1320.3ZM914.13 1320.3V1300.1H915.25V1320.3ZM915.25 1320.3V1300.1H916.37V1320.3ZM916.37 1320.3V1300.1H917.49V1320.3ZM917.49 1320.3V1300.1H918.61V1320.3ZM918.61 1320.3V1290.01H919.73V1320.3ZM919.73 1320.3V1300.1H920.86V1320.3ZM920.86 1320.3V1279.91H921.98V1320.3ZM921.98 1320.3V1300.1H923.1V1320.3ZM923.1 1320.3V1300.1H924.22V1320.3ZM924.22 1320.3V1300.1H925.34V1320.3ZM925.34 1320.3V1300.1H926.46V1320.3ZM926.46 1320.3V1300.1H927.58V1320.3ZM927.58 1320.3V1300.1H928.7V1320.3ZM928.7 1320.3V1300.1H929.83V1320.3ZM929.83 1320.3V1300.1H930.95V1320.3ZM930.95 1320.3V1300.1H932.07V1320.3ZM932.07 1320.3V1300.1H933.19V1320.3ZM933.19 1320.3V1300.1H934.31V1320.3ZM934.31 1320.3V1300.1H935.43V1320.3ZM935.43 1320.3V1290.01H936.55V1320.3ZM936.55 1320.3V1300.1H937.67V1320.3ZM937.67 1320.3V1300.1H938.79V1320.3ZM938.79 1320.3V1300.1H939.92V1320.3ZM939.92 1320.3V1300.1H941.04V1320.3ZM941.04 1320.3V1310.2H942.16V1320.3ZM942.16 1320.3V1300.1H943.28V1320.3ZM943.28 1320.3V1300.1H944.4V1320.3ZM944.4 1320.3V1300.1H945.52V1320.3ZM945.52 1320.3V1300.1H946.64V1320.3ZM946.64 1320.3V1300.1H947.76V1320.3ZM947.76 1320.3V1300.1H948.89V1320.3ZM948.89 1320.3V1310.2H950.01V1320.3ZM950.01 1320.3V1300.1H951.13V1320.3ZM951.13 1320.3V1300.1H952.25V1320.3ZM952.25 1320.3V1300.1H953.37V1320.3ZM953.37 1320.3V1300.1H954.49V1320.3ZM954.49 1320.3V1300.1H955.61V1320.3ZM955.61 1320.3V1300.1H956.73V1320.3ZM956.73 1320.3V1300.1H957.85V1320.3ZM957.85 1320.3V1300.1H958.98V1320.3ZM958.98 1320.3V1310.2H960.1V1320.3ZM960.1 1320.3V1300.1H961.22V1320.3ZM961.22 1320.3V1310.2H962.34V1320.3ZM962.34 1320.3V1300.1H963.46V1320.3ZM963.46 1320.3V1300.1H964.58V1320.3ZM964.58 1320.3V1279.91H965.7V1320.3ZM965.7 1320.3V1279.91H966.82V1320.3ZM966.82 1320.3V1279.91H967.95V1320.3ZM967.95 1320.3V1279.91H969.07V1320.3ZM969.07 1320.3V1279.91H970.19V1320.3ZM970.19 1320.3V1279.91H971.31V1320.3ZM971.31 1320.3V1279.91H972.43V1320.3ZM972.43 1320.3V1279.91H973.55V1320.3ZM973.55 1320.3V1279.91H974.67V1320.3ZM974.67 1320.3V1279.91H975.79V1320.3ZM975.79 1320.3V1279.91H976.91V1320.3ZM976.91 1320.3V1279.91H978.04V1320.3ZM978.04 1320.3V1279.91H979.16V1320.3ZM979.16 1320.3V1279.91H980.28V1320.3ZM980.28 1320.3V1279.91H981.4V1320.3ZM981.4 1320.3V1279.91H982.52V1320.3ZM982.52 1320.3V1279.91H983.64V1320.3ZM983.64 1320.3V1279.91H984.76V1320.3ZM984.76 1320.3V1290.01H985.88V1320.3ZM985.88 1320.3V1290.01H987.01V1320.3ZM987.01 1320.3V1290.01H988.13V1320.3ZM988.13 1320.3V1290.01H989.25V1320.3ZM989.25 1320.3V1290.01H990.37V1320.3ZM990.37 1320.3V1290.01H991.49V1320.3ZM991.49 1320.3V1290.01H992.61V1320.3ZM992.61 1320.3V1290.01H993.73V1320.3ZM993.73 1320.3V1290.01H994.85V1320.3ZM994.85 1320.3V1300.1H995.97V1320.3ZM995.97 1320.3V1300.1H997.1V1320.3ZM997.1 1320.3V1300.1H998.22V1320.3ZM998.22 1320.3V1300.1H999.34V1320.3ZM999.34 1320.3V1300.1H1000.46V1320.3ZM1000.46 1320.3V1300.1H1001.58V1320.3ZM1001.58 1320.3V1300.1H1002.7V1320.3ZM1002.7 1320.3V1300.1H1003.82V1320.3ZM1003.82 1320.3V1300.1H1004.94V1320.3ZM1004.94 1320.3V1300.1H1006.07V1320.3ZM1006.07 1320.3V1300.1H1007.19V1320.3ZM1007.19 1320.3V1300.1H1008.31V1320.3ZM1008.31 1320.3V1300.1H1009.43V1320.3ZM1009.43 1320.3V1300.1H1010.55V1320.3ZM1010.55 1320.3V1300.1H1011.67V1320.3ZM1011.67 1320.3V1300.1H1012.79V1320.3ZM1012.79 1320.3V1300.1H1013.91V1320.3ZM1013.91 1320.3V1300.1H1015.03V1320.3ZM1015.03 1320.3V1300.1H1016.16V1320.3ZM1016.16 1320.3V1300.1H1017.28V1320.3ZM1017.28 1320.3V1300.1H1018.4V1320.3ZM1018.4 1320.3V1300.1H1019.52V1320.3ZM1019.52 1320.3V1300.1H1020.64V1320.3ZM1020.64 1320.3V1300.1H1021.76V1320.3ZM1021.76 1320.3V1300.1H1022.88V1320.3ZM1022.88 1320.3V1300.1H1024V1320.3ZM1024 1320.3V1300.1H1025.13V1320.3ZM1025.13 1320.3V1300.1H1026.25V1320.3ZM1026.25 1320.3V1300.1H1027.37V1320.3ZM1027.37 1320.3V1279.91H1028.49V1320.3ZM1028.49 1320.3V1300.1H1029.61V1320.3ZM1029.61 1320.3V1300.1H1030.73V1320.3ZM1030.73 1320.3V1300.1H1031.85V1320.3ZM1031.85 1320.3V1300.1H1032.97V1320.3ZM1032.97 1320.3V1300.1H1034.09V1320.3ZM1034.09 1320.3V1300.1H1035.22V1320.3ZM1035.22 1320.3V1300.1H1036.34V1320.3ZM1036.34 1320.3V1300.1H1037.46V1320.3ZM1037.46 1320.3V1300.1H1038.58V1320.3ZM1038.58 1320.3V1300.1H1039.7V1320.3ZM1039.7 1320.3V1300.1H1040.82V1320.3ZM1040.82 1320.3V1300.1H1041.94V1320.3ZM1041.94 1320.3V1300.1H1043.06V1320.3ZM1043.06 1320.3V1300.1H1044.19V1320.3ZM1044.19 1320.3V1300.1H1045.31V1320.3ZM1045.31 1320.3V1300.1H1046.43V1320.3ZM1046.43 1320.3V1300.1H1047.55V1320.3ZM1047.55 1320.3V1300.1H1048.67V1320.3ZM1048.67 1320.3V1300.1H1049.79V1320.3ZM1049.79 1320.3V1279.91H1050.91V1320.3ZM1050.91 1320.3V1279.91H1052.03V1320.3ZM1052.03 1320.3V1279.91H1053.16V1320.3ZM1053.16 1320.3V1279.91H1054.28V1320.3ZM1054.28 1320.3V1279.91H1055.4V1320.3ZM1055.4 1320.3V1269.81H1056.52V1320.3ZM1056.52 1320.3V1279.91H1057.64V1320.3ZM1057.64 1320.3V1290.01H1058.76V1320.3ZM1058.76 1320.3V1290.01H1059.88V1320.3ZM1059.88 1320.3V1290.01H1061V1320.3ZM1061 1320.3V1290.01H1062.12V1320.3ZM1062.12 1320.3V1290.01H1063.25V1320.3ZM1063.25 1320.3V1290.01H1064.37V1320.3ZM1064.37 1320.3V1290.01H1065.49V1320.3ZM1065.49 1320.3V1290.01H1066.61V1320.3ZM1066.61 1320.3V1290.01H1067.73V1320.3ZM1067.73 1320.3V1290.01H1068.85V1320.3ZM1068.85 1320.3V1290.01H1069.97V1320.3ZM1069.97 1320.3V1300.1H1071.09V1320.3ZM1071.09 1320.3V1290.01H1072.22V1320.3ZM1072.22 1320.3V1290.01H1073.34V1320.3ZM1073.34 1320.3V1290.01H1074.46V1320.3ZM1074.46 1320.3V1300.1H1075.58V1320.3ZM1075.58 1320.3V1279.91H1076.7V1320.3ZM1076.7 1320.3V1300.1H1077.82V1320.3ZM1077.82 1320.3V1290.01H1078.94V1320.3ZM1078.94 1320.3V1290.01H1080.06V1320.3ZM1080.06 1320.3V1290.01H1081.18V1320.3ZM1081.18 1320.3V1290.01H1082.31V1320.3ZM1082.31 1320.3V1290.01H1083.43V1320.3ZM1083.43 1320.3V1290.01H1084.55V1320.3ZM1084.55 1320.3V1290.01H1085.67V1320.3ZM1085.67 1320.3V1290.01H1086.79V1320.3ZM1086.79 1320.3V1290.01H1087.91V1320.3ZM1087.91 1320.3V1279.91H1089.03V1320.3ZM1089.03 1320.3V1290.01H1090.15V1320.3ZM1090.15 1320.3V1290.01H1091.28V1320.3ZM1091.28 1320.3V1290.01H1092.4V1320.3ZM1092.4 1320.3V1290.01H1093.52V1320.3ZM1093.52 1320.3V1290.01H1094.64V1320.3ZM1094.64 1320.3V1279.91H1095.76V1320.3ZM1095.76 1320.3V1290.01H1096.88V1320.3ZM1096.88 1320.3V1290.01H1098V1320.3ZM1098 1320.3V1290.01H1099.12V1320.3ZM1099.12 1320.3V1290.01H1100.24V1320.3ZM1100.24 1320.3V1290.01H1101.37V1320.3ZM1101.37 1320.3V1269.81H1102.49V1320.3ZM1102.49 1320.3V1290.01H1103.61V1320.3ZM1103.61 1320.3V1290.01H1104.73V1320.3ZM1104.73 1320.3V1290.01H1105.85V1320.3ZM1105.85 1320.3V1290.01H1106.97V1320.3ZM1106.97 1320.3V1290.01H1108.09V1320.3ZM1108.09 1320.3V1290.01H1109.21V1320.3ZM1109.21 1320.3V1279.91H1110.34V1320.3ZM1110.34 1320.3V1290.01H1111.46V1320.3ZM1111.46 1320.3V1290.01H1112.58V1320.3ZM1112.58 1320.3V1290.01H1113.7V1320.3ZM1113.7 1320.3V1290.01H1114.82V1320.3ZM1114.82 1320.3V1290.01H1115.94V1320.3ZM1115.94 1320.3V1290.01H1117.06V1320.3ZM1117.06 1320.3V1290.01H1118.18V1320.3ZM1118.18 1320.3V1290.01H1119.3V1320.3ZM1119.3 1320.3V1290.01H1120.43V1320.3ZM1120.43 1320.3V1279.91H1121.55V1320.3ZM1121.55 1320.3V1290.01H1122.67V1320.3ZM1122.67 1320.3V1290.01H1123.79V1320.3ZM1123.79 1320.3V1290.01H1124.91V1320.3ZM1124.91 1320.3V1290.01H1126.03V1320.3ZM1126.03 1320.3V1290.01H1127.15V1320.3ZM1127.15 1320.3V1279.91H1128.27V1320.3ZM1128.27 1320.3V1290.01H1129.4V1320.3ZM1129.4 1320.3V1290.01H1130.52V1320.3ZM1130.52 1320.3V1290.01H1131.64V1320.3ZM1131.64 1320.3V1290.01H1132.76V1320.3ZM1132.76 1320.3V1290.01H1133.88V1320.3ZM1133.88 1320.3V1290.01H1135V1320.3ZM1135 1320.3V1290.01H1136.12V1320.3ZM1136.12 1320.3V1290.01H1137.24V1320.3ZM1137.24 1320.3V1290.01H1138.36V1320.3ZM1138.36 1320.3V1290.01H1139.49V1320.3ZM1139.49 1320.3V1290.01H1140.61V1320.3ZM1140.61 1320.3V1290.01H1141.73V1320.3ZM1141.73 1320.3V1290.01H1142.85V1320.3ZM1142.85 1320.3V1290.01H1143.97V1320.3ZM1143.97 1320.3V1290.01H1145.09V1320.3ZM1145.09 1320.3V1290.01H1146.21V1320.3ZM1146.21 1320.3V1290.01H1147.33V1320.3ZM1147.33 1320.3V1290.01H1148.46V1320.3ZM1148.46 1320.3V1290.01H1149.58V1320.3ZM1149.58 1320.3V1290.01H1150.7V1320.3ZM1150.7 1320.3V1290.01H1151.82V1320.3ZM1151.82 1320.3V1290.01H1152.94V1320.3ZM1152.94 1320.3V1290.01H1154.06V1320.3ZM1154.06 1320.3V1279.91H1155.18V1320.3ZM1155.18 1320.3V1290.01H1156.3V1320.3ZM1156.3 1320.3V1290.01H1157.42V1320.3ZM1157.42 1320.3V1290.01H1158.55V1320.3ZM1158.55 1320.3V1290.01H1159.67V1320.3ZM1159.67 1320.3V1290.01H1160.79V1320.3ZM1160.79 1320.3V1290.01H1161.91V1320.3ZM1161.91 1320.3V1290.01H1163.03V1320.3ZM1163.03 1320.3V1290.01H1164.15V1320.3ZM1164.15 1320.3V1290.01H1165.27V1320.3ZM1165.27 1320.3V1290.01H1166.39V1320.3ZM1166.39 1320.3V1290.01H1167.52V1320.3ZM1167.52 1320.3V1290.01H1168.64V1320.3ZM1168.64 1320.3V1290.01H1169.76V1320.3ZM1169.76 1320.3V1290.01H1170.88V1320.3ZM1170.88 1320.3V1290.01H1172V1320.3ZM1172 1320.3V1290.01H1173.12V1320.3ZM1173.12 1320.3V1290.01H1174.24V1320.3ZM1174.24 1320.3V1279.91H1175.36V1320.3ZM1175.36 1320.3V1290.01H1176.48V1320.3ZM1176.48 1320.3V1290.01H1177.61V1320.3ZM1177.61 1320.3V1290.01H1178.73V1320.3ZM1178.73 1320.3V1290.01H1179.85V1320.3ZM1179.85 1320.3V1290.01H1180.97V1320.3ZM1180.97 1320.3V1290.01H1182.09V1320.3ZM1182.09 1320.3V1290.01H1183.21V1320.3ZM1183.21 1320.3V1290.01H1184.33V1320.3ZM1184.33 1320.3V1290.01H1185.45V1320.3ZM1185.45 1320.3V1290.01H1186.58V1320.3ZM1186.58 1320.3V1279.91H1187.7V1320.3ZM1187.7 1320.3V1269.81H1188.82V1320.3ZM1188.82 1320.3V1290.01H1189.94V1320.3ZM1189.94 1320.3V1290.01H1191.06V1320.3ZM1191.06 1320.3V1290.01H1192.18V1320.3ZM1192.18 1320.3V1290.01H1193.3V1320.3ZM1193.3 1320.3V1290.01H1194.42V1320.3ZM1194.42 1320.3V1290.01H1195.54V1320.3ZM1195.54 1320.3V1290.01H1196.67V1320.3ZM1196.67 1320.3V1290.01H1197.79V1320.3ZM1197.79 1320.3V1290.01H1198.91V1320.3ZM1198.91 1320.3V1290.01H1200.03V1320.3ZM1200.03 1320.3V1290.01H1201.15V1320.3ZM1201.15 1320.3V1290.01H1202.27V1320.3ZM1202.27 1320.3V1279.91H1203.39V1320.3ZM1203.39 1320.3V1290.01H1204.51V1320.3ZM1352.51 1320.3V1269.81H1353.63V1320.3ZM1353.63 1320.3V1259.71H1354.75V1320.3ZM1354.75 1320.3V1259.71H1355.87V1320.3ZM1355.87 1320.3V1269.81H1356.99V1320.3ZM1356.99 1320.3V1249.61H1358.12V1320.3ZM1358.12 1320.3V1269.81H1359.24V1320.3ZM1359.24 1320.3V1269.81H1360.36V1320.3ZM1360.36 1320.3V1269.81H1361.48V1320.3ZM1361.48 1320.3V1269.81H1362.6V1320.3ZM1362.6 1320.3V1259.71H1363.72V1320.3ZM1363.72 1320.3V1269.81H1364.84V1320.3ZM1364.84 1320.3V1269.81H1365.96V1320.3ZM1365.96 1320.3V1269.81H1367.09V1320.3ZM1367.09 1320.3V1269.81H1368.21V1320.3ZM1368.21 1320.3V1269.81H1369.33V1320.3ZM1369.33 1320.3V1269.81H1370.45V1320.3ZM1370.45 1320.3V1269.81H1371.57V1320.3ZM1371.57 1320.3V1269.81H1372.69V1320.3ZM1372.69 1320.3V1269.81H1373.81V1320.3ZM1373.81 1320.3V1269.81H1374.93V1320.3ZM1374.93 1320.3V1269.81H1376.06V1320.3ZM1376.06 1320.3V1269.81H1377.18V1320.3ZM1377.18 1320.3V1269.81H1378.3V1320.3ZM1378.3 1320.3V1269.81H1379.42V1320.3ZM1379.42 1320.3V1269.81H1380.54V1320.3ZM1380.54 1320.3V1269.81H1381.66V1320.3ZM1381.66 1320.3V1249.61H1382.78V1320.3ZM1382.78 1320.3V1269.81H1383.9V1320.3ZM1383.9 1320.3V1269.81H1385.02V1320.3ZM1385.02 1320.3V1269.81H1386.15V1320.3ZM1386.15 1320.3V1269.81H1387.27V1320.3ZM1387.27 1320.3V1269.81H1388.39V1320.3ZM1388.39 1320.3V1269.81H1389.51V1320.3ZM1389.51 1320.3V1269.81H1390.63V1320.3ZM1390.63 1320.3V1269.81H1391.75V1320.3ZM1391.75 1320.3V1269.81H1392.87V1320.3ZM1392.87 1320.3V1269.81H1393.99V1320.3ZM1393.99 1320.3V1269.81H1395.12V1320.3ZM1395.12 1320.3V1269.81H1396.24V1320.3ZM1396.24 1320.3V1269.81H1397.36V1320.3ZM1397.36 1320.3V1269.81H1398.48V1320.3ZM1398.48 1320.3V1269.81H1399.6V1320.3ZM1399.6 1320.3V1269.81H1400.72V1320.3ZM1400.72 1320.3V1269.81H1401.84V1320.3ZM1401.84 1320.3V1269.81H1402.96V1320.3ZM1402.96 1320.3V1269.81H1404.08V1320.3ZM1404.08 1320.3V1269.81H1405.21V1320.3ZM1405.21 1320.3V1269.81H1406.33V1320.3ZM1406.33 1320.3V1269.81H1407.45V1320.3ZM1407.45 1320.3V1269.81H1408.57V1320.3ZM1408.57 1320.3V1269.81H1409.69V1320.3ZM1409.69 1320.3V1259.71H1410.81V1320.3ZM1410.81 1320.3V1269.81H1411.93V1320.3ZM1411.93 1320.3V1269.81H1413.05V1320.3ZM1413.05 1320.3V1269.81H1414.18V1320.3ZM1414.18 1320.3V1269.81H1415.3V1320.3ZM1415.3 1320.3V1269.81H1416.42V1320.3ZM1416.42 1320.3V1269.81H1417.54V1320.3ZM1417.54 1320.3V1269.81H1418.66V1320.3ZM1418.66 1320.3V1259.71H1419.78V1320.3ZM1419.78 1320.3V1269.81H1420.9V1320.3ZM1420.9 1320.3V1269.81H1422.02V1320.3ZM1422.02 1320.3V1269.81H1423.14V1320.3ZM1423.14 1320.3V1269.81H1424.27V1320.3ZM1424.27 1320.3V1269.81H1425.39V1320.3ZM1425.39 1320.3V1269.81H1426.51V1320.3ZM1426.51 1320.3V1269.81H1427.63V1320.3ZM1427.63 1320.3V1269.81H1428.75V1320.3ZM1428.75 1320.3V1269.81H1429.87V1320.3ZM1429.87 1320.3V1269.81H1430.99V1320.3ZM1430.99 1320.3V1269.81H1432.11V1320.3ZM1432.11 1320.3V1249.61H1433.24V1320.3ZM1433.24 1320.3V1269.81H1434.36V1320.3ZM1434.36 1320.3V1269.81H1435.48V1320.3ZM1435.48 1320.3V1259.71H1436.6V1320.3ZM1436.6 1320.3V1269.81H1437.72V1320.3ZM1437.72 1320.3V1269.81H1438.84V1320.3ZM1438.84 1320.3V1269.81H1439.96V1320.3ZM1439.96 1320.3V1269.81H1441.08V1320.3ZM1441.08 1320.3V1269.81H1442.2V1320.3ZM1442.2 1320.3V1269.81H1443.33V1320.3ZM1443.33 1320.3V1269.81H1444.45V1320.3ZM1444.45 1320.3V1269.81H1445.57V1320.3ZM1445.57 1320.3V1269.81H1446.69V1320.3ZM1446.69 1320.3V1269.81H1447.81V1320.3ZM1447.81 1320.3V1269.81H1448.93V1320.3ZM1448.93 1320.3V1269.81H1450.05V1320.3ZM1450.05 1320.3V1259.71H1451.17V1320.3ZM1451.17 1320.3V1259.71H1452.3V1320.3ZM1452.3 1320.3V1269.81H1453.42V1320.3ZM1453.42 1320.3V1269.81H1454.54V1320.3ZM1454.54 1320.3V1269.81H1455.66V1320.3ZM1455.66 1320.3V1269.81H1456.78V1320.3ZM1456.78 1320.3V1269.81H1457.9V1320.3ZM1457.9 1320.3V1269.81H1459.02V1320.3ZM1459.02 1320.3V1269.81H1460.14V1320.3ZM1460.14 1320.3V1269.81H1461.26V1320.3ZM1461.26 1320.3V1269.81H1462.39V1320.3ZM1462.39 1320.3V1269.81H1463.51V1320.3ZM1463.51 1320.3V1269.81H1464.63V1320.3ZM1464.63 1320.3V1269.81H1465.75V1320.3ZM1465.75 1320.3V1269.81H1466.87V1320.3ZM1466.87 1320.3V1269.81H1467.99V1320.3ZM1467.99 1320.3V1269.81H1469.11V1320.3ZM1469.11 1320.3V1249.61H1470.23V1320.3ZM1470.23 1320.3V1269.81H1471.36V1320.3ZM1471.36 1320.3V1269.81H1472.48V1320.3ZM1472.48 1320.3V1269.81H1473.6V1320.3ZM1473.6 1320.3V1269.81H1474.72V1320.3ZM1474.72 1320.3V1259.71H1475.84V1320.3ZM1475.84 1320.3V1269.81H1476.96V1320.3ZM1476.96 1320.3V1269.81H1478.08V1320.3ZM1478.08 1320.3V1269.81H1479.2V1320.3ZM1479.2 1320.3V1269.81H1480.32V1320.3ZM1480.32 1320.3V1259.71H1481.45V1320.3ZM1481.45 1320.3V1269.81H1482.57V1320.3ZM1482.57 1320.3V1269.81H1483.69V1320.3ZM1483.69 1320.3V1259.71H1484.81V1320.3ZM1484.81 1320.3V1269.81H1485.93V1320.3ZM1485.93 1320.3V1269.81H1487.05V1320.3ZM1487.05 1320.3V1269.81H1488.17V1320.3ZM1488.17 1320.3V1269.81H1489.29V1320.3ZM1489.29 1320.3V1269.81H1490.42V1320.3ZM1490.42 1320.3V1269.81H1491.54V1320.3ZM1491.54 1320.3V1259.71H1492.66V1320.3ZM1492.66 1320.3V1269.81H1493.78V1320.3ZM1493.78 1320.3V1269.81H1494.9V1320.3ZM1494.9 1320.3V1269.81H1496.02V1320.3ZM1496.02 1320.3V1269.81H1497.14V1320.3ZM1497.14 1320.3V1269.81H1498.26V1320.3ZM1498.26 1320.3V1269.81H1499.38V1320.3ZM1499.38 1320.3V1269.81H1500.51V1320.3ZM1500.51 1320.3V1269.81H1501.63V1320.3ZM1501.63 1320.3V1269.81H1502.75V1320.3ZM1502.75 1320.3V1269.81H1503.87V1320.3ZM1503.87 1320.3V1269.81H1504.99V1320.3ZM1504.99 1320.3V1269.81H1506.11V1320.3ZM1506.11 1320.3V1269.81H1507.23V1320.3ZM1507.23 1320.3V1269.81H1508.35V1320.3ZM1508.35 1320.3V1249.61H1509.48V1320.3ZM1509.48 1320.3V1269.81H1510.6V1320.3ZM1510.6 1320.3V1269.81H1511.72V1320.3ZM1511.72 1320.3V1269.81H1512.84V1320.3ZM1512.84 1320.3V1269.81H1513.96V1320.3ZM1513.96 1320.3V1259.71H1515.08V1320.3ZM1515.08 1320.3V1269.81H1516.2V1320.3ZM1516.2 1320.3V1269.81H1517.32V1320.3ZM1517.32 1320.3V1269.81H1518.44V1320.3ZM1518.44 1320.3V1269.81H1519.57V1320.3ZM1519.57 1320.3V1259.71H1520.69V1320.3ZM1520.69 1320.3V1269.81H1521.81V1320.3ZM1521.81 1320.3V1269.81H1522.93V1320.3ZM1522.93 1320.3V1259.71H1524.05V1320.3ZM1524.05 1320.3V1269.81H1525.17V1320.3ZM1525.17 1320.3V1269.81H1526.29V1320.3ZM1526.29 1320.3V1269.81H1527.41V1320.3ZM1675.41 1320.3V1269.81H1676.53V1320.3ZM1676.53 1320.3V1259.71H1677.65V1320.3ZM1677.65 1320.3V1269.81H1678.77V1320.3ZM1678.77 1320.3V1259.71H1679.89V1320.3ZM1679.89 1320.3V1259.71H1681.02V1320.3ZM1681.02 1320.3V1269.81H1682.14V1320.3ZM1682.14 1320.3V1269.81H1683.26V1320.3ZM1683.26 1320.3V1269.81H1684.38V1320.3ZM1684.38 1320.3V1269.81H1685.5V1320.3ZM1685.5 1320.3V1269.81H1686.62V1320.3ZM1686.62 1320.3V1269.81H1687.74V1320.3ZM1687.74 1320.3V1269.81H1688.86V1320.3ZM1688.86 1320.3V1259.71H1689.99V1320.3ZM1689.99 1320.3V1269.81H1691.11V1320.3ZM1691.11 1320.3V1269.81H1692.23V1320.3ZM1692.23 1320.3V1269.81H1693.35V1320.3ZM1693.35 1320.3V1259.71H1694.47V1320.3ZM1694.47 1320.3V1259.71H1695.59V1320.3ZM1695.59 1320.3V1269.81H1696.71V1320.3ZM1696.71 1320.3V1259.71H1697.83V1320.3ZM1697.83 1320.3V1259.71H1698.96V1320.3ZM1698.96 1320.3V1259.71H1700.08V1320.3ZM1700.08 1320.3V1259.71H1701.2V1320.3ZM1701.2 1320.3V1259.71H1702.32V1320.3ZM1702.32 1320.3V1259.71H1703.44V1320.3ZM1703.44 1320.3V1259.71H1704.56V1320.3ZM1704.56 1320.3V1249.61H1705.68V1320.3ZM1705.68 1320.3V1269.81H1706.8V1320.3ZM1706.8 1320.3V1269.81H1707.92V1320.3ZM1707.92 1320.3V1259.71H1709.05V1320.3ZM1709.05 1320.3V1259.71H1710.17V1320.3ZM1710.17 1320.3V1259.71H1711.29V1320.3ZM1711.29 1320.3V1269.81H1712.41V1320.3ZM1712.41 1320.3V1259.71H1713.53V1320.3ZM1713.53 1320.3V1259.71H1714.65V1320.3ZM1714.65 1320.3V1259.71H1715.77V1320.3ZM1715.77 1320.3V1259.71H1716.89V1320.3ZM1716.89 1320.3V1269.81H1718.02V1320.3ZM1718.02 1320.3V1259.71H1719.14V1320.3ZM1719.14 1320.3V1259.71H1720.26V1320.3ZM1720.26 1320.3V1259.71H1721.38V1320.3ZM1721.38 1320.3V1249.61H1722.5V1320.3ZM1722.5 1320.3V1259.71H1723.62V1320.3ZM1723.62 1320.3V1269.81H1724.74V1320.3ZM1724.74 1320.3V1269.81H1725.86V1320.3ZM1725.86 1320.3V1259.71H1726.98V1320.3ZM1726.98 1320.3V1269.81H1728.11V1320.3ZM1728.11 1320.3V1259.71H1729.23V1320.3ZM1729.23 1320.3V1269.81H1730.35V1320.3ZM1730.35 1320.3V1259.71H1731.47V1320.3ZM1731.47 1320.3V1259.71H1732.59V1320.3ZM1732.59 1320.3V1259.71H1733.71V1320.3ZM1733.71 1320.3V1259.71H1734.83V1320.3ZM1734.83 1320.3V1269.81H1735.95V1320.3ZM1735.95 1320.3V1259.71H1737.08V1320.3ZM1737.08 1320.3V1259.71H1738.2V1320.3ZM1738.2 1320.3V1269.81H1739.32V1320.3ZM1739.32 1320.3V1269.81H1740.44V1320.3ZM1740.44 1320.3V1249.61H1741.56V1320.3ZM1741.56 1320.3V1259.71H1742.68V1320.3ZM1742.68 1320.3V1259.71H1743.8V1320.3ZM1743.8 1320.3V1259.71H1744.92V1320.3ZM1744.92 1320.3V1259.71H1746.04V1320.3ZM1746.04 1320.3V1259.71H1747.17V1320.3ZM1747.17 1320.3V1259.71H1748.29V1320.3ZM1748.29 1320.3V1259.71H1749.41V1320.3ZM1749.41 1320.3V1249.61H1750.53V1320.3ZM1750.53 1320.3V1259.71H1751.65V1320.3ZM1751.65 1320.3V1259.71H1752.77V1320.3ZM1752.77 1320.3V1269.81H1753.89V1320.3ZM1753.89 1320.3V1249.61H1755.01V1320.3ZM1755.01 1320.3V1259.71H1756.14V1320.3ZM1756.14 1320.3V1269.81H1757.26V1320.3ZM1757.26 1320.3V1259.71H1758.38V1320.3ZM1758.38 1320.3V1259.71H1759.5V1320.3ZM1759.5 1320.3V1259.71H1760.62V1320.3ZM1760.62 1320.3V1249.61H1761.74V1320.3ZM1761.74 1320.3V1259.71H1762.86V1320.3ZM1762.86 1320.3V1269.81H1763.98V1320.3ZM1763.98 1320.3V1259.71H1765.1V1320.3ZM1765.1 1320.3V1269.81H1766.23V1320.3ZM1766.23 1320.3V1259.71H1767.35V1320.3ZM1767.35 1320.3V1259.71H1768.47V1320.3ZM1768.47 1320.3V1259.71H1769.59V1320.3ZM1769.59 1320.3V1259.71H1770.71V1320.3ZM1770.71 1320.3V1259.71H1771.83V1320.3ZM1771.83 1320.3V1259.71H1772.95V1320.3ZM1772.95 1320.3V1259.71H1774.07V1320.3ZM1774.07 1320.3V1259.71H1775.2V1320.3ZM1775.2 1320.3V1259.71H1776.32V1320.3ZM1776.32 1320.3V1259.71H1777.44V1320.3ZM1777.44 1320.3V1259.71H1778.56V1320.3ZM1778.56 1320.3V1259.71H1779.68V1320.3ZM1779.68 1320.3V1259.71H1780.8V1320.3ZM1780.8 1320.3V1249.61H1781.92V1320.3ZM1781.92 1320.3V1259.71H1783.04V1320.3ZM1783.04 1320.3V1259.71H1784.16V1320.3ZM1784.16 1320.3V1259.71H1785.29V1320.3ZM1785.29 1320.3V1259.71H1786.41V1320.3ZM1786.41 1320.3V1259.71H1787.53V1320.3ZM1787.53 1320.3V1259.71H1788.65V1320.3ZM1788.65 1320.3V1259.71H1789.77V1320.3ZM1789.77 1320.3V1259.71H1790.89V1320.3ZM1790.89 1320.3V1259.71H1792.01V1320.3ZM1792.01 1320.3V1259.71H1793.13V1320.3ZM1793.13 1320.3V1259.71H1794.26V1320.3ZM1794.26 1320.3V1259.71H1795.38V1320.3ZM1795.38 1320.3V1259.71H1796.5V1320.3ZM1796.5 1320.3V1259.71H1797.62V1320.3ZM1797.62 1320.3V1249.61H1798.74V1320.3ZM1798.74 1320.3V1259.71H1799.86V1320.3ZM1799.86 1320.3V1259.71H1800.98V1320.3ZM1800.98 1320.3V1259.71H1802.1V1320.3ZM1802.1 1320.3V1259.71H1803.22V1320.3ZM1803.22 1320.3V1259.71H1804.35V1320.3ZM1804.35 1320.3V1259.71H1805.47V1320.3ZM1805.47 1320.3V1259.71H1806.59V1320.3ZM1806.59 1320.3V1259.71H1807.71V1320.3ZM1807.71 1320.3V1259.71H1808.83V1320.3ZM1808.83 1320.3V1249.61H1809.95V1320.3ZM1809.95 1320.3V1259.71H1811.07V1320.3ZM1811.07 1320.3V1259.71H1812.19V1320.3ZM1812.19 1320.3V1259.71H1813.32V1320.3ZM1813.32 1320.3V1259.71H1814.44V1320.3ZM1814.44 1320.3V1249.61H1815.56V1320.3ZM1815.56 1320.3V1259.71H1816.68V1320.3ZM1816.68 1320.3V1259.71H1817.8V1320.3ZM1817.8 1320.3V1259.71H1818.92V1320.3ZM1818.92 1320.3V1259.71H1820.04V1320.3ZM1820.04 1320.3V1249.61H1821.16V1320.3ZM1821.16 1320.3V1259.71H1822.28V1320.3ZM1822.28 1320.3V1259.71H1823.41V1320.3ZM1823.41 1320.3V1259.71H1824.53V1320.3ZM1824.53 1320.3V1259.71H1825.65V1320.3ZM1825.65 1320.3V1259.71H1826.77V1320.3ZM1826.77 1320.3V1259.71H1827.89V1320.3ZM1827.89 1320.3V1239.52H1829.01V1320.3ZM1829.01 1320.3V1239.52H1830.13V1320.3ZM1830.13 1320.3V1259.71H1831.25V1320.3ZM1831.25 1320.3V1259.71H1832.38V1320.3ZM1832.38 1320.3V1259.71H1833.5V1320.3ZM1833.5 1320.3V1259.71H1834.62V1320.3ZM1834.62 1320.3V1259.71H1835.74V1320.3ZM1835.74 1320.3V1259.71H1836.86V1320.3ZM1836.86 1320.3V1249.61H1837.98V1320.3ZM1837.98 1320.3V1259.71H1839.1V1320.3ZM1839.1 1320.3V1259.71H1840.22V1320.3ZM1840.22 1320.3V1259.71H1841.34V1320.3ZM1841.34 1320.3V1259.71H1842.47V1320.3ZM1842.47 1320.3V1259.71H1843.59V1320.3ZM1843.59 1320.3V1259.71H1844.71V1320.3ZM1844.71 1320.3V1259.71H1845.83V1320.3ZM1845.83 1320.3V1259.71H1846.95V1320.3ZM1846.95 1320.3V1259.71H1848.07V1320.3ZM1848.07 1320.3V1229.42H1849.19V1320.3ZM1849.19 1320.3V1259.71H1850.31V1320.3ZM1998.31 1320.3V1300.1H1999.43V1320.3ZM1999.43 1320.3V1300.1H2000.55V1320.3ZM2000.55 1320.3V1300.1H2001.67V1320.3ZM2001.67 1320.3V1300.1H2002.79V1320.3ZM2002.79 1320.3V1300.1H2003.92V1320.3ZM2003.92 1320.3V1300.1H2005.04V1320.3ZM2005.04 1320.3V1300.1H2006.16V1320.3ZM2006.16 1320.3V1310.2H2007.28V1320.3ZM2007.28 1320.3V1310.2H2008.4V1320.3ZM2008.4 1320.3V1310.2H2009.52V1320.3ZM2009.52 1320.3V1300.1H2010.64V1320.3ZM2010.64 1320.3V1300.1H2011.76V1320.3ZM2011.76 1320.3V1300.1H2012.89V1320.3ZM2012.89 1320.3V1310.2H2014.01V1320.3ZM2014.01 1320.3V1300.1H2015.13V1320.3ZM2015.13 1320.3V1310.2H2016.25V1320.3ZM2016.25 1320.3V1300.1H2017.37V1320.3ZM2017.37 1320.3V1310.2H2018.49V1320.3ZM2018.49 1320.3V1300.1H2019.61V1320.3ZM2019.61 1320.3V1310.2H2020.73V1320.3ZM2020.73 1320.3V1300.1H2021.86V1320.3ZM2021.86 1320.3V1310.2H2022.98V1320.3ZM2022.98 1320.3V1310.2H2024.1V1320.3ZM2024.1 1320.3V1310.2H2025.22V1320.3ZM2025.22 1320.3V1300.1H2026.34V1320.3ZM2026.34 1320.3V1310.2H2027.46V1320.3ZM2027.46 1320.3V1300.1H2028.58V1320.3ZM2028.58 1320.3V1310.2H2029.7V1320.3ZM2029.7 1320.3V1300.1H2030.82V1320.3ZM2030.82 1320.3V1310.2H2031.95V1320.3ZM2031.95 1320.3V1300.1H2033.07V1320.3ZM2033.07 1320.3V1310.2H2034.19V1320.3ZM2034.19 1320.3V1300.1H2035.31V1320.3ZM2035.31 1320.3V1310.2H2036.43V1320.3ZM2036.43 1320.3V1300.1H2037.55V1320.3ZM2037.55 1320.3V1310.2H2038.67V1320.3ZM2038.67 1320.3V1300.1H2039.79V1320.3ZM2039.79 1320.3V1310.2H2040.92V1320.3ZM2040.92 1320.3V1300.1H2042.04V1320.3ZM2042.04 1320.3V1300.1H2043.16V1320.3ZM2043.16 1320.3V1300.1H2044.28V1320.3ZM2044.28 1320.3V1300.1H2045.4V1320.3ZM2045.4 1320.3V1300.1H2046.52V1320.3ZM2046.52 1320.3V1300.1H2047.64V1320.3ZM2047.64 1320.3V1300.1H2048.76V1320.3ZM2048.76 1320.3V1300.1H2049.88V1320.3ZM2049.88 1320.3V1290.01H2051.01V1320.3ZM2051.01 1320.3V1300.1H2052.13V1320.3ZM2052.13 1320.3V1300.1H2053.25V1320.3ZM2053.25 1320.3V1300.1H2054.37V1320.3ZM2054.37 1320.3V1300.1H2055.49V1320.3ZM2055.49 1320.3V1300.1H2056.61V1320.3ZM2056.61 1320.3V1300.1H2057.73V1320.3ZM2057.73 1320.3V1300.1H2058.85V1320.3ZM2058.85 1320.3V1290.01H2059.98V1320.3ZM2059.98 1320.3V1290.01H2061.1V1320.3ZM2061.1 1320.3V1290.01H2062.22V1320.3ZM2062.22 1320.3V1290.01H2063.34V1320.3ZM2063.34 1320.3V1290.01H2064.46V1320.3ZM2064.46 1320.3V1290.01H2065.58V1320.3ZM2065.58 1320.3V1290.01H2066.7V1320.3ZM2066.7 1320.3V1290.01H2067.82V1320.3ZM2067.82 1320.3V1290.01H2068.94V1320.3ZM2068.94 1320.3V1290.01H2070.07V1320.3ZM2070.07 1320.3V1290.01H2071.19V1320.3ZM2071.19 1320.3V1290.01H2072.31V1320.3ZM2072.31 1320.3V1290.01H2073.43V1320.3ZM2073.43 1320.3V1290.01H2074.55V1320.3ZM2074.55 1320.3V1290.01H2075.67V1320.3ZM2075.67 1320.3V1290.01H2076.79V1320.3ZM2076.79 1320.3V1290.01H2077.91V1320.3ZM2077.91 1320.3V1290.01H2079.04V1320.3ZM2079.04 1320.3V1290.01H2080.16V1320.3ZM2080.16 1320.3V1290.01H2081.28V1320.3ZM2081.28 1320.3V1279.91H2082.4V1320.3ZM2082.4 1320.3V1279.91H2083.52V1320.3ZM2083.52 1320.3V1290.01H2084.64V1320.3ZM2084.64 1320.3V1290.01H2085.76V1320.3ZM2085.76 1320.3V1290.01H2086.88V1320.3ZM2086.88 1320.3V1279.91H2088V1320.3ZM2088 1320.3V1279.91H2089.13V1320.3ZM2089.13 1320.3V1279.91H2090.25V1320.3ZM2090.25 1320.3V1290.01H2091.37V1320.3ZM2091.37 1320.3V1290.01H2092.49V1320.3ZM2092.49 1320.3V1279.91H2093.61V1320.3ZM2093.61 1320.3V1269.81H2094.73V1320.3ZM2094.73 1320.3V1279.91H2095.85V1320.3ZM2095.85 1320.3V1269.81H2096.97V1320.3ZM2096.97 1320.3V1279.91H2098.1V1320.3ZM2098.1 1320.3V1290.01H2099.22V1320.3ZM2099.22 1320.3V1290.01H2100.34V1320.3ZM2100.34 1320.3V1279.91H2101.46V1320.3ZM2101.46 1320.3V1290.01H2102.58V1320.3ZM2102.58 1320.3V1279.91H2103.7V1320.3ZM2103.7 1320.3V1290.01H2104.82V1320.3ZM2104.82 1320.3V1290.01H2105.94V1320.3ZM2105.94 1320.3V1279.91H2107.06V1320.3ZM2107.06 1320.3V1279.91H2108.19V1320.3ZM2108.19 1320.3V1290.01H2109.31V1320.3ZM2109.31 1320.3V1279.91H2110.43V1320.3ZM2110.43 1320.3V1269.81H2111.55V1320.3ZM2111.55 1320.3V1259.71H2112.67V1320.3ZM2112.67 1320.3V1269.81H2113.79V1320.3ZM2113.79 1320.3V1279.91H2114.91V1320.3ZM2114.91 1320.3V1279.91H2116.03V1320.3ZM2116.03 1320.3V1290.01H2117.16V1320.3ZM2117.16 1320.3V1279.91H2118.28V1320.3ZM2118.28 1320.3V1279.91H2119.4V1320.3ZM2119.4 1320.3V1279.91H2120.52V1320.3ZM2120.52 1320.3V1290.01H2121.64V1320.3ZM2121.64 1320.3V1279.91H2122.76V1320.3ZM2122.76 1320.3V1279.91H2123.88V1320.3ZM2123.88 1320.3V1279.91H2125V1320.3ZM2125 1320.3V1279.91H2126.12V1320.3ZM2126.12 1320.3V1290.01H2127.25V1320.3ZM2127.25 1320.3V1269.81H2128.37V1320.3ZM2128.37 1320.3V1269.81H2129.49V1320.3ZM2129.49 1320.3V1279.91H2130.61V1320.3ZM2130.61 1320.3V1279.91H2131.73V1320.3ZM2131.73 1320.3V1279.91H2132.85V1320.3ZM2132.85 1320.3V1269.81H2133.97V1320.3ZM2133.97 1320.3V1279.91H2135.09V1320.3ZM2135.09 1320.3V1279.91H2136.22V1320.3ZM2136.22 1320.3V1279.91H2137.34V1320.3ZM2137.34 1320.3V1279.91H2138.46V1320.3ZM2138.46 1320.3V1279.91H2139.58V1320.3ZM2139.58 1320.3V1259.71H2140.7V1320.3ZM2140.7 1320.3V1279.91H2141.82V1320.3ZM2141.82 1320.3V1269.81H2142.94V1320.3ZM2142.94 1320.3V1279.91H2144.06V1320.3ZM2144.06 1320.3V1269.81H2145.18V1320.3ZM2145.18 1320.3V1279.91H2146.31V1320.3ZM2146.31 1320.3V1269.81H2147.43V1320.3ZM2147.43 1320.3V1269.81H2148.55V1320.3ZM2148.55 1320.3V1269.81H2149.67V1320.3ZM2149.67 1320.3V1269.81H2150.79V1320.3ZM2150.79 1320.3V1269.81H2151.91V1320.3ZM2151.91 1320.3V1279.91H2153.03V1320.3ZM2153.03 1320.3V1269.81H2154.15V1320.3ZM2154.15 1320.3V1269.81H2155.28V1320.3ZM2155.28 1320.3V1269.81H2156.4V1320.3ZM2156.4 1320.3V1269.81H2157.52V1320.3ZM2157.52 1320.3V1279.91H2158.64V1320.3ZM2158.64 1320.3V1259.71H2159.76V1320.3ZM2159.76 1320.3V1269.81H2160.88V1320.3ZM2160.88 1320.3V1279.91H2162V1320.3ZM2162 1320.3V1259.71H2163.12V1320.3ZM2163.12 1320.3V1269.81H2164.24V1320.3ZM2164.24 1320.3V1279.91H2165.37V1320.3ZM2165.37 1320.3V1249.61H2166.49V1320.3ZM2166.49 1320.3V1279.91H2167.61V1320.3ZM2167.61 1320.3V1259.71H2168.73V1320.3ZM2168.73 1320.3V1269.81H2169.85V1320.3ZM2169.85 1320.3V1259.71H2170.97V1320.3ZM2170.97 1320.3V1269.81H2172.09V1320.3ZM2172.09 1320.3V1259.71H2173.21V1320.3ZM2321.21 1320.3V1310.2H2322.33V1320.3ZM2322.33 1320.3V1290.01H2323.45V1320.3ZM2323.45 1320.3V1290.01H2324.57V1320.3ZM2324.57 1320.3V1290.01H2325.69V1320.3ZM2325.69 1320.3V1290.01H2326.82V1320.3ZM2326.82 1320.3V1290.01H2327.94V1320.3ZM2327.94 1320.3V1279.91H2329.06V1320.3ZM2329.06 1320.3V1290.01H2330.18V1320.3ZM2330.18 1320.3V1290.01H2331.3V1320.3ZM2331.3 1320.3V1290.01H2332.42V1320.3ZM2332.42 1320.3V1290.01H2333.54V1320.3ZM2333.54 1320.3V1290.01H2334.66V1320.3ZM2334.66 1320.3V1290.01H2335.79V1320.3ZM2335.79 1320.3V1279.91H2336.91V1320.3ZM2336.91 1320.3V1290.01H2338.03V1320.3ZM2338.03 1320.3V1290.01H2339.15V1320.3ZM2339.15 1320.3V1290.01H2340.27V1320.3ZM2340.27 1320.3V1279.91H2341.39V1320.3ZM2341.39 1320.3V1269.81H2342.51V1320.3ZM2342.51 1320.3V1290.01H2343.63V1320.3ZM2343.63 1320.3V1290.01H2344.76V1320.3ZM2344.76 1320.3V1290.01H2345.88V1320.3ZM2345.88 1320.3V1290.01H2347V1320.3ZM2347 1320.3V1279.91H2348.12V1320.3ZM2348.12 1320.3V1290.01H2349.24V1320.3ZM2349.24 1320.3V1290.01H2350.36V1320.3ZM2350.36 1320.3V1290.01H2351.48V1320.3ZM2351.48 1320.3V1290.01H2352.6V1320.3ZM2352.6 1320.3V1290.01H2353.72V1320.3ZM2353.72 1320.3V1290.01H2354.85V1320.3ZM2354.85 1320.3V1290.01H2355.97V1320.3ZM2355.97 1320.3V1290.01H2357.09V1320.3ZM2357.09 1320.3V1290.01H2358.21V1320.3ZM2358.21 1320.3V1290.01H2359.33V1320.3ZM2359.33 1320.3V1290.01H2360.45V1320.3ZM2360.45 1320.3V1279.91H2361.57V1320.3ZM2361.57 1320.3V1290.01H2362.69V1320.3ZM2362.69 1320.3V1290.01H2363.82V1320.3ZM2363.82 1320.3V1290.01H2364.94V1320.3ZM2364.94 1320.3V1290.01H2366.06V1320.3ZM2366.06 1320.3V1290.01H2367.18V1320.3ZM2367.18 1320.3V1290.01H2368.3V1320.3ZM2368.3 1320.3V1290.01H2369.42V1320.3ZM2369.42 1320.3V1290.01H2370.54V1320.3ZM2370.54 1320.3V1290.01H2371.66V1320.3ZM2371.66 1320.3V1290.01H2372.78V1320.3ZM2372.78 1320.3V1279.91H2373.91V1320.3ZM2373.91 1320.3V1290.01H2375.03V1320.3ZM2375.03 1320.3V1290.01H2376.15V1320.3ZM2376.15 1320.3V1279.91H2377.27V1320.3ZM2377.27 1320.3V1290.01H2378.39V1320.3ZM2378.39 1320.3V1290.01H2379.51V1320.3ZM2379.51 1320.3V1290.01H2380.63V1320.3ZM2380.63 1320.3V1279.91H2381.75V1320.3ZM2381.75 1320.3V1290.01H2382.88V1320.3ZM2382.88 1320.3V1279.91H2384V1320.3ZM2384 1320.3V1290.01H2385.12V1320.3ZM2385.12 1320.3V1279.91H2386.24V1320.3ZM2386.24 1320.3V1290.01H2387.36V1320.3ZM2387.36 1320.3V1279.91H2388.48V1320.3ZM2388.48 1320.3V1279.91H2389.6V1320.3ZM2389.6 1320.3V1279.91H2390.72V1320.3ZM2390.72 1320.3V1279.91H2391.84V1320.3ZM2391.84 1320.3V1279.91H2392.97V1320.3ZM2392.97 1320.3V1279.91H2394.09V1320.3ZM2394.09 1320.3V1279.91H2395.21V1320.3ZM2395.21 1320.3V1269.81H2396.33V1320.3ZM2396.33 1320.3V1279.91H2397.45V1320.3ZM2397.45 1320.3V1279.91H2398.57V1320.3ZM2398.57 1320.3V1269.81H2399.69V1320.3ZM2399.69 1320.3V1279.91H2400.81V1320.3ZM2400.81 1320.3V1269.81H2401.94V1320.3ZM2401.94 1320.3V1279.91H2403.06V1320.3ZM2403.06 1320.3V1269.81H2404.18V1320.3ZM2404.18 1320.3V1279.91H2405.3V1320.3ZM2405.3 1320.3V1269.81H2406.42V1320.3ZM2406.42 1320.3V1279.91H2407.54V1320.3ZM2407.54 1320.3V1269.81H2408.66V1320.3ZM2408.66 1320.3V1269.81H2409.78V1320.3ZM2409.78 1320.3V1269.81H2410.9V1320.3ZM2410.9 1320.3V1279.91H2412.03V1320.3ZM2412.03 1320.3V1269.81H2413.15V1320.3ZM2413.15 1320.3V1279.91H2414.27V1320.3Z" fill="#a0ecc2"/><path d="M235.81 1320.3V1300.1H236.94V1320.3ZM236.94 1320.3V1300.1H238.06V1320.3ZM238.06 1320.3V1300.1H239.18V1320.3ZM239.18 1320.3V1300.1H240.3V1320.3ZM240.3 1320.3V1290.01H241.42V1320.3ZM241.42 1320.3V1300.1H242.54V1320.3ZM242.54 1320.3V1300.1H243.66V1320.3ZM243.66 1320.3V1300.1H244.78V1320.3ZM244.78 1320.3V1300.1H245.91V1320.3ZM245.91 1320.3V1300.1H247.03V1320.3ZM247.03 1320.3V1290.01H248.15V1320.3ZM248.15 1320.3V1300.1H249.27V1320.3ZM249.27 1320.3V1229.42H250.39V1320.3ZM250.39 1320.3V1108.24H251.51V1320.3ZM251.51 1320.3V1189.03H252.63V1320.3ZM252.63 1320.3V1027.46H253.75V1320.3ZM253.75 1320.3V926.48H254.87V1320.3ZM254.87 1320.3V966.87H256V1320.3ZM256 1320.3V1158.73H257.12V1320.3ZM257.12 1320.3V1057.75H258.24V1320.3ZM258.24 1320.3V1047.65H259.36V1320.3ZM259.36 1320.3V1168.83H260.48V1320.3ZM260.48 1320.3V1118.34H261.6V1320.3ZM261.6 1320.3V1259.71H262.72V1320.3ZM262.72 1320.3V1259.71H263.84V1320.3ZM263.84 1320.3V1269.81H264.97V1320.3ZM264.97 1320.3V1128.44H266.09V1320.3ZM266.09 1320.3V1037.56H267.21V1320.3ZM267.21 1320.3V1259.71H268.33V1320.3ZM268.33 1320.3V1229.42H269.45V1320.3ZM269.45 1320.3V1077.95H270.57V1320.3ZM270.57 1320.3V1077.95H271.69V1320.3ZM271.69 1320.3V1138.54H272.81V1320.3ZM272.81 1320.3V1088.05H273.93V1320.3ZM273.93 1320.3V956.77H275.06V1320.3ZM275.06 1320.3V1108.24H276.18V1320.3ZM276.18 1320.3V1209.22H277.3V1320.3ZM277.3 1320.3V1168.83H278.42V1320.3ZM278.42 1320.3V1189.03H279.54V1320.3ZM279.54 1320.3V1239.52H280.66V1320.3ZM280.66 1320.3V1239.52H281.78V1320.3ZM281.78 1320.3V1037.56H282.9V1320.3ZM282.9 1320.3V926.48H284.03V1320.3ZM284.03 1320.3V1229.42H285.15V1320.3ZM285.15 1320.3V1168.83H286.27V1320.3ZM286.27 1320.3V1168.83H287.39V1320.3ZM287.39 1320.3V1229.42H288.51V1320.3ZM288.51 1320.3V1229.42H289.63V1320.3ZM289.63 1320.3V1239.52H290.75V1320.3ZM290.75 1320.3V1118.34H291.87V1320.3ZM291.87 1320.3V1168.83H292.99V1320.3ZM292.99 1320.3V936.58H294.12V1320.3ZM294.12 1320.3V1067.85H295.24V1320.3ZM295.24 1320.3V997.16H296.36V1320.3ZM296.36 1320.3V1128.44H297.48V1320.3ZM297.48 1320.3V1077.95H298.6V1320.3ZM298.6 1320.3V1189.03H299.72V1320.3ZM299.72 1320.3V1249.61H300.84V1320.3ZM300.84 1320.3V1199.12H301.96V1320.3ZM301.96 1320.3V1199.12H303.09V1320.3ZM303.09 1320.3V1239.52H304.21V1320.3ZM304.21 1320.3V1249.61H305.33V1320.3ZM305.33 1320.3V1077.95H306.45V1320.3ZM306.45 1320.3V936.58H307.57V1320.3ZM307.57 1320.3V1189.03H308.69V1320.3ZM308.69 1320.3V1108.24H309.81V1320.3ZM309.81 1320.3V1158.73H310.93V1320.3ZM310.93 1320.3V1148.63H312.05V1320.3ZM312.05 1320.3V1199.12H313.18V1320.3ZM313.18 1320.3V1088.05H314.3V1320.3ZM314.3 1320.3V1199.12H315.42V1320.3ZM315.42 1320.3V1209.22H316.54V1320.3ZM316.54 1320.3V1259.71H317.66V1320.3ZM317.66 1320.3V1168.83H318.78V1320.3ZM318.78 1320.3V1178.93H319.9V1320.3ZM319.9 1320.3V1239.52H321.02V1320.3ZM321.02 1320.3V1199.12H322.15V1320.3ZM322.15 1320.3V1189.03H323.27V1320.3ZM323.27 1320.3V1219.32H324.39V1320.3ZM324.39 1320.3V1229.42H325.51V1320.3ZM325.51 1320.3V1229.42H326.63V1320.3ZM326.63 1320.3V1219.32H327.75V1320.3ZM327.75 1320.3V1229.42H328.87V1320.3ZM328.87 1320.3V1229.42H329.99V1320.3ZM329.99 1320.3V1118.34H331.11V1320.3ZM331.11 1320.3V1128.44H332.24V1320.3ZM332.24 1320.3V1158.73H333.36V1320.3ZM333.36 1320.3V1138.54H334.48V1320.3ZM334.48 1320.3V1178.93H335.6V1320.3ZM335.6 1320.3V1269.81H336.72V1320.3ZM336.72 1320.3V1290.01H337.84V1320.3ZM337.84 1320.3V1290.01H338.96V1320.3ZM338.96 1320.3V1239.52H340.08V1320.3ZM340.08 1320.3V1239.52H341.21V1320.3ZM341.21 1320.3V1138.54H342.33V1320.3ZM342.33 1320.3V1178.93H343.45V1320.3ZM343.45 1320.3V1168.83H344.57V1320.3ZM344.57 1320.3V1189.03H345.69V1320.3ZM345.69 1320.3V1178.93H346.81V1320.3ZM346.81 1320.3V1239.52H347.93V1320.3ZM347.93 1320.3V1249.61H349.05V1320.3ZM349.05 1320.3V1148.63H350.17V1320.3ZM350.17 1320.3V1118.34H351.3V1320.3ZM351.3 1320.3V1148.63H352.42V1320.3ZM352.42 1320.3V1219.32H353.54V1320.3ZM353.54 1320.3V1158.73H354.66V1320.3ZM354.66 1320.3V1158.73H355.78V1320.3ZM355.78 1320.3V1259.71H356.9V1320.3ZM356.9 1320.3V1219.32H358.02V1320.3ZM358.02 1320.3V1239.52H359.14V1320.3ZM359.14 1320.3V1209.22H360.27V1320.3ZM360.27 1320.3V1239.52H361.39V1320.3ZM361.39 1320.3V1178.93H362.51V1320.3ZM362.51 1320.3V1249.61H363.63V1320.3ZM363.63 1320.3V1239.52H364.75V1320.3ZM364.75 1320.3V1239.52H365.87V1320.3ZM365.87 1320.3V1199.12H366.99V1320.3ZM366.99 1320.3V1199.12H368.11V1320.3ZM368.11 1320.3V1269.81H369.23V1320.3ZM369.23 1320.3V1259.71H370.36V1320.3ZM370.36 1320.3V1269.81H371.48V1320.3ZM371.48 1320.3V1279.91H372.6V1320.3ZM372.6 1320.3V1290.01H373.72V1320.3ZM373.72 1320.3V1290.01H374.84V1320.3ZM374.84 1320.3V1300.1H375.96V1320.3ZM375.96 1320.3V1300.1H377.08V1320.3ZM377.08 1320.3V1279.91H378.2V1320.3ZM378.2 1320.3V1279.91H379.33V1320.3ZM379.33 1320.3V1279.91H380.45V1320.3ZM380.45 1320.3V1300.1H381.57V1320.3ZM381.57 1320.3V1290.01H382.69V1320.3ZM382.69 1320.3V1290.01H383.81V1320.3ZM1204.51 1320.3V1279.91H1205.64V1320.3ZM1205.64 1320.3V1269.81H1206.76V1320.3ZM1206.76 1320.3V1279.91H1207.88V1320.3ZM1207.88 1320.3V1269.81H1209V1320.3ZM1209 1320.3V1290.01H1210.12V1320.3ZM1210.12 1320.3V1290.01H1211.24V1320.3ZM1211.24 1320.3V1290.01H1212.36V1320.3ZM1212.36 1320.3V1290.01H1213.48V1320.3ZM1213.48 1320.3V1279.91H1214.61V1320.3ZM1214.61 1320.3V1279.91H1215.73V1320.3ZM1215.73 1320.3V1279.91H1216.85V1320.3ZM1216.85 1320.3V1269.81H1217.97V1320.3ZM1217.97 1320.3V1269.81H1219.09V1320.3ZM1219.09 1320.3V1249.61H1220.21V1320.3ZM1220.21 1320.3V1199.12H1221.33V1320.3ZM1221.33 1320.3V1239.52H1222.45V1320.3ZM1222.45 1320.3V1259.71H1223.57V1320.3ZM1223.57 1320.3V1249.61H1224.7V1320.3ZM1224.7 1320.3V1249.61H1225.82V1320.3ZM1225.82 1320.3V1249.61H1226.94V1320.3ZM1226.94 1320.3V1249.61H1228.06V1320.3ZM1228.06 1320.3V1249.61H1229.18V1320.3ZM1229.18 1320.3V1249.61H1230.3V1320.3ZM1230.3 1320.3V1259.71H1231.42V1320.3ZM1231.42 1320.3V1259.71H1232.54V1320.3ZM1232.54 1320.3V1259.71H1233.67V1320.3ZM1233.67 1320.3V1259.71H1234.79V1320.3ZM1234.79 1320.3V1259.71H1235.91V1320.3ZM1235.91 1320.3V1259.71H1237.03V1320.3ZM1237.03 1320.3V1249.61H1238.15V1320.3ZM1238.15 1320.3V1259.71H1239.27V1320.3ZM1239.27 1320.3V1249.61H1240.39V1320.3ZM1240.39 1320.3V1259.71H1241.51V1320.3ZM1241.51 1320.3V1259.71H1242.63V1320.3ZM1242.63 1320.3V1259.71H1243.76V1320.3ZM1243.76 1320.3V1259.71H1244.88V1320.3ZM1244.88 1320.3V1259.71H1246V1320.3ZM1246 1320.3V1259.71H1247.12V1320.3ZM1247.12 1320.3V1259.71H1248.24V1320.3ZM1248.24 1320.3V1259.71H1249.36V1320.3ZM1249.36 1320.3V1259.71H1250.48V1320.3ZM1250.48 1320.3V1259.71H1251.6V1320.3ZM1251.6 1320.3V1219.32H1252.73V1320.3ZM1252.73 1320.3V1158.73H1253.85V1320.3ZM1253.85 1320.3V1209.22H1254.97V1320.3ZM1254.97 1320.3V1178.93H1256.09V1320.3ZM1256.09 1320.3V1189.03H1257.21V1320.3ZM1257.21 1320.3V1128.44H1258.33V1320.3ZM1258.33 1320.3V1189.03H1259.45V1320.3ZM1259.45 1320.3V1027.46H1260.57V1320.3ZM1260.57 1320.3V1168.83H1261.69V1320.3ZM1261.69 1320.3V1189.03H1262.82V1320.3ZM1262.82 1320.3V1199.12H1263.94V1320.3ZM1263.94 1320.3V1189.03H1265.06V1320.3ZM1265.06 1320.3V1209.22H1266.18V1320.3ZM1266.18 1320.3V1239.52H1267.3V1320.3ZM1267.3 1320.3V1219.32H1268.42V1320.3ZM1268.42 1320.3V1249.61H1269.54V1320.3ZM1269.54 1320.3V1249.61H1270.66V1320.3ZM1270.66 1320.3V1259.71H1271.79V1320.3ZM1271.79 1320.3V1239.52H1272.91V1320.3ZM1272.91 1320.3V1259.71H1274.03V1320.3ZM1274.03 1320.3V1259.71H1275.15V1320.3ZM1275.15 1320.3V1077.95H1276.27V1320.3ZM1276.27 1320.3V1077.95H1277.39V1320.3ZM1277.39 1320.3V1118.34H1278.51V1320.3ZM1278.51 1320.3V1209.22H1279.63V1320.3ZM1279.63 1320.3V1108.24H1280.75V1320.3ZM1280.75 1320.3V1209.22H1281.88V1320.3ZM1281.88 1320.3V1249.61H1283V1320.3ZM1283 1320.3V1259.71H1284.12V1320.3ZM1284.12 1320.3V1229.42H1285.24V1320.3ZM1285.24 1320.3V1229.42H1286.36V1320.3ZM1286.36 1320.3V1259.71H1287.48V1320.3ZM1287.48 1320.3V1229.42H1288.6V1320.3ZM1288.6 1320.3V1239.52H1289.72V1320.3ZM1289.72 1320.3V1249.61H1290.85V1320.3ZM1290.85 1320.3V1259.71H1291.97V1320.3ZM1291.97 1320.3V1249.61H1293.09V1320.3ZM1293.09 1320.3V1249.61H1294.21V1320.3ZM1294.21 1320.3V1259.71H1295.33V1320.3ZM1295.33 1320.3V1249.61H1296.45V1320.3ZM1296.45 1320.3V1259.71H1297.57V1320.3ZM1297.57 1320.3V1259.71H1298.69V1320.3ZM1298.69 1320.3V1259.71H1299.81V1320.3ZM1299.81 1320.3V1148.63H1300.94V1320.3ZM1300.94 1320.3V1027.46H1302.06V1320.3ZM1302.06 1320.3V1148.63H1303.18V1320.3ZM1303.18 1320.3V1138.54H1304.3V1320.3ZM1304.3 1320.3V1108.24H1305.42V1320.3ZM1305.42 1320.3V1209.22H1306.54V1320.3ZM1306.54 1320.3V1259.71H1307.66V1320.3ZM1307.66 1320.3V1259.71H1308.78V1320.3ZM1308.78 1320.3V1249.61H1309.91V1320.3ZM1309.91 1320.3V1229.42H1311.03V1320.3ZM1311.03 1320.3V1259.71H1312.15V1320.3ZM1312.15 1320.3V1138.54H1313.27V1320.3ZM1313.27 1320.3V946.67H1314.39V1320.3ZM1314.39 1320.3V1118.34H1315.51V1320.3ZM1315.51 1320.3V1098.14H1316.63V1320.3ZM1316.63 1320.3V1067.85H1317.75V1320.3ZM1317.75 1320.3V1098.14H1318.87V1320.3ZM1318.87 1320.3V1168.83H1320V1320.3ZM1320 1320.3V1148.63H1321.12V1320.3ZM1321.12 1320.3V1088.05H1322.24V1320.3ZM1322.24 1320.3V1138.54H1323.36V1320.3ZM1323.36 1320.3V1088.05H1324.48V1320.3ZM1324.48 1320.3V1088.05H1325.6V1320.3ZM1325.6 1320.3V1219.32H1326.72V1320.3ZM1326.72 1320.3V1219.32H1327.84V1320.3ZM1327.84 1320.3V1219.32H1328.97V1320.3ZM1328.97 1320.3V1239.52H1330.09V1320.3ZM1330.09 1320.3V1239.52H1331.21V1320.3ZM1331.21 1320.3V1259.71H1332.33V1320.3ZM1332.33 1320.3V1148.63H1333.45V1320.3ZM1333.45 1320.3V1088.05H1334.57V1320.3ZM1334.57 1320.3V1199.12H1335.69V1320.3ZM1335.69 1320.3V1158.73H1336.81V1320.3ZM1336.81 1320.3V1219.32H1337.93V1320.3ZM1337.93 1320.3V1219.32H1339.06V1320.3ZM1339.06 1320.3V1259.71H1340.18V1320.3ZM1340.18 1320.3V1239.52H1341.3V1320.3ZM1341.3 1320.3V1219.32H1342.42V1320.3ZM1342.42 1320.3V1229.42H1343.54V1320.3ZM1343.54 1320.3V1138.54H1344.66V1320.3ZM1344.66 1320.3V1158.73H1345.78V1320.3ZM1345.78 1320.3V1168.83H1346.9V1320.3ZM1346.9 1320.3V1199.12H1348.03V1320.3ZM1348.03 1320.3V1158.73H1349.15V1320.3ZM1349.15 1320.3V1249.61H1350.27V1320.3ZM1350.27 1320.3V1269.81H1351.39V1320.3ZM1351.39 1320.3V1269.81H1352.51V1320.3ZM1527.41 1320.3V1269.81H1528.54V1320.3ZM1528.54 1320.3V1269.81H1529.66V1320.3ZM1529.66 1320.3V1269.81H1530.78V1320.3ZM1530.78 1320.3V1259.71H1531.9V1320.3ZM1531.9 1320.3V1269.81H1533.02V1320.3ZM1533.02 1320.3V1269.81H1534.14V1320.3ZM1534.14 1320.3V1269.81H1535.26V1320.3ZM1535.26 1320.3V1269.81H1536.38V1320.3ZM1536.38 1320.3V1269.81H1537.51V1320.3ZM1537.51 1320.3V1269.81H1538.63V1320.3ZM1538.63 1320.3V1249.61H1539.75V1320.3ZM1539.75 1320.3V1239.52H1540.87V1320.3ZM1540.87 1320.3V1249.61H1541.99V1320.3ZM1541.99 1320.3V1158.73H1543.11V1320.3ZM1543.11 1320.3V1209.22H1544.23V1320.3ZM1544.23 1320.3V1249.61H1545.35V1320.3ZM1545.35 1320.3V1229.42H1546.47V1320.3ZM1546.47 1320.3V1239.52H1547.6V1320.3ZM1547.6 1320.3V1249.61H1548.72V1320.3ZM1548.72 1320.3V1229.42H1549.84V1320.3ZM1549.84 1320.3V1219.32H1550.96V1320.3ZM1550.96 1320.3V1239.52H1552.08V1320.3ZM1552.08 1320.3V1249.61H1553.2V1320.3ZM1553.2 1320.3V1158.73H1554.32V1320.3ZM1554.32 1320.3V1148.63H1555.44V1320.3ZM1555.44 1320.3V1239.52H1556.57V1320.3ZM1556.57 1320.3V1249.61H1557.69V1320.3ZM1557.69 1320.3V1239.52H1558.81V1320.3ZM1558.81 1320.3V1219.32H1559.93V1320.3ZM1559.93 1320.3V1249.61H1561.05V1320.3ZM1561.05 1320.3V1239.52H1562.17V1320.3ZM1562.17 1320.3V1239.52H1563.29V1320.3ZM1563.29 1320.3V1239.52H1564.41V1320.3ZM1564.41 1320.3V1259.71H1565.53V1320.3ZM1565.53 1320.3V1259.71H1566.66V1320.3ZM1566.66 1320.3V1239.52H1567.78V1320.3ZM1567.78 1320.3V1098.14H1568.9V1320.3ZM1568.9 1320.3V1158.73H1570.02V1320.3ZM1570.02 1320.3V1189.03H1571.14V1320.3ZM1571.14 1320.3V1057.75H1572.26V1320.3ZM1572.26 1320.3V1239.52H1573.38V1320.3ZM1573.38 1320.3V1219.32H1574.5V1320.3ZM1574.5 1320.3V1057.75H1575.63V1320.3ZM1575.63 1320.3V1027.46H1576.75V1320.3ZM1576.75 1320.3V1067.85H1577.87V1320.3ZM1577.87 1320.3V906.28H1578.99V1320.3ZM1578.99 1320.3V1077.95H1580.11V1320.3ZM1580.11 1320.3V1249.61H1581.23V1320.3ZM1581.23 1320.3V1199.12H1582.35V1320.3ZM1582.35 1320.3V1108.24H1583.47V1320.3ZM1583.47 1320.3V1209.22H1584.59V1320.3ZM1584.59 1320.3V1239.52H1585.72V1320.3ZM1585.72 1320.3V1229.42H1586.84V1320.3ZM1586.84 1320.3V1077.95H1587.96V1320.3ZM1587.96 1320.3V1239.52H1589.08V1320.3ZM1589.08 1320.3V1219.32H1590.2V1320.3ZM1590.2 1320.3V1239.52H1591.32V1320.3ZM1591.32 1320.3V1249.61H1592.44V1320.3ZM1592.44 1320.3V1249.61H1593.56V1320.3ZM1593.56 1320.3V1249.61H1594.69V1320.3ZM1594.69 1320.3V1148.63H1595.81V1320.3ZM1595.81 1320.3V1249.61H1596.93V1320.3ZM1596.93 1320.3V1249.61H1598.05V1320.3ZM1598.05 1320.3V1239.52H1599.17V1320.3ZM1599.17 1320.3V1098.14H1600.29V1320.3ZM1600.29 1320.3V1249.61H1601.41V1320.3ZM1601.41 1320.3V1249.61H1602.53V1320.3ZM1602.53 1320.3V1259.71H1603.65V1320.3ZM1603.65 1320.3V1249.61H1604.78V1320.3ZM1604.78 1320.3V1249.61H1605.9V1320.3ZM1605.9 1320.3V1239.52H1607.02V1320.3ZM1607.02 1320.3V1239.52H1608.14V1320.3ZM1608.14 1320.3V1249.61H1609.26V1320.3ZM1609.26 1320.3V1178.93H1610.38V1320.3ZM1610.38 1320.3V987.07H1611.5V1320.3ZM1611.5 1320.3V946.67H1612.62V1320.3ZM1612.62 1320.3V1229.42H1613.75V1320.3ZM1613.75 1320.3V1199.12H1614.87V1320.3ZM1614.87 1320.3V1229.42H1615.99V1320.3ZM1615.99 1320.3V1239.52H1617.11V1320.3ZM1617.11 1320.3V1239.52H1618.23V1320.3ZM1618.23 1320.3V1229.42H1619.35V1320.3ZM1619.35 1320.3V1229.42H1620.47V1320.3ZM1620.47 1320.3V1017.36H1621.59V1320.3ZM1621.59 1320.3V1138.54H1622.71V1320.3ZM1622.71 1320.3V1229.42H1623.84V1320.3ZM1623.84 1320.3V1168.83H1624.96V1320.3ZM1624.96 1320.3V1219.32H1626.08V1320.3ZM1626.08 1320.3V1229.42H1627.2V1320.3ZM1627.2 1320.3V1219.32H1628.32V1320.3ZM1628.32 1320.3V1229.42H1629.44V1320.3ZM1629.44 1320.3V1209.22H1630.56V1320.3ZM1630.56 1320.3V1077.95H1631.68V1320.3ZM1631.68 1320.3V1057.75H1632.81V1320.3ZM1632.81 1320.3V1098.14H1633.93V1320.3ZM1633.93 1320.3V1098.14H1635.05V1320.3ZM1635.05 1320.3V1148.63H1636.17V1320.3ZM1636.17 1320.3V1249.61H1637.29V1320.3ZM1637.29 1320.3V1199.12H1638.41V1320.3ZM1638.41 1320.3V1219.32H1639.53V1320.3ZM1639.53 1320.3V1209.22H1640.65V1320.3ZM1640.65 1320.3V1239.52H1641.77V1320.3ZM1641.77 1320.3V1229.42H1642.9V1320.3ZM1642.9 1320.3V1199.12H1644.02V1320.3ZM1644.02 1320.3V1007.26H1645.14V1320.3ZM1645.14 1320.3V1027.46H1646.26V1320.3ZM1646.26 1320.3V1027.46H1647.38V1320.3ZM1647.38 1320.3V1178.93H1648.5V1320.3ZM1648.5 1320.3V1249.61H1649.62V1320.3ZM1649.62 1320.3V1219.32H1650.74V1320.3ZM1650.74 1320.3V1229.42H1651.87V1320.3ZM1651.87 1320.3V1249.61H1652.99V1320.3ZM1652.99 1320.3V1158.73H1654.11V1320.3ZM1654.11 1320.3V1239.52H1655.23V1320.3ZM1655.23 1320.3V1239.52H1656.35V1320.3ZM1656.35 1320.3V1249.61H1657.47V1320.3ZM1657.47 1320.3V1219.32H1658.59V1320.3ZM1658.59 1320.3V1088.05H1659.71V1320.3ZM1659.71 1320.3V1178.93H1660.83V1320.3ZM1660.83 1320.3V1239.52H1661.96V1320.3ZM1661.96 1320.3V1189.03H1663.08V1320.3ZM1663.08 1320.3V1047.65H1664.2V1320.3ZM1664.2 1320.3V1118.34H1665.32V1320.3ZM1665.32 1320.3V1219.32H1666.44V1320.3ZM1666.44 1320.3V1199.12H1667.56V1320.3ZM1667.56 1320.3V1168.83H1668.68V1320.3ZM1668.68 1320.3V1209.22H1669.8V1320.3ZM1669.8 1320.3V1199.12H1670.93V1320.3ZM1670.93 1320.3V1138.54H1672.05V1320.3ZM1672.05 1320.3V1128.44H1673.17V1320.3ZM1673.17 1320.3V1178.93H1674.29V1320.3ZM1674.29 1320.3V1178.93H1675.41V1320.3ZM1850.31 1320.3V1249.61H1851.44V1320.3ZM1851.44 1320.3V1259.71H1852.56V1320.3ZM1852.56 1320.3V1259.71H1853.68V1320.3ZM1853.68 1320.3V1269.81H1854.8V1320.3ZM1854.8 1320.3V1269.81H1855.92V1320.3ZM1855.92 1320.3V1259.71H1857.04V1320.3ZM1857.04 1320.3V1269.81H1858.16V1320.3ZM1858.16 1320.3V1259.71H1859.28V1320.3ZM1859.28 1320.3V1259.71H1860.41V1320.3ZM1860.41 1320.3V1219.32H1861.53V1320.3ZM1861.53 1320.3V1219.32H1862.65V1320.3ZM1862.65 1320.3V1249.61H1863.77V1320.3ZM1863.77 1320.3V1148.63H1864.89V1320.3ZM1864.89 1320.3V1027.46H1866.01V1320.3ZM1866.01 1320.3V1138.54H1867.13V1320.3ZM1867.13 1320.3V956.77H1868.25V1320.3ZM1868.25 1320.3V997.16H1869.37V1320.3ZM1869.37 1320.3V1088.05H1870.5V1320.3ZM1870.5 1320.3V1209.22H1871.62V1320.3ZM1871.62 1320.3V1209.22H1872.74V1320.3ZM1872.74 1320.3V1209.22H1873.86V1320.3ZM1873.86 1320.3V1027.46H1874.98V1320.3ZM1874.98 1320.3V1128.44H1876.1V1320.3ZM1876.1 1320.3V997.16H1877.22V1320.3ZM1877.22 1320.3V1037.56H1878.34V1320.3ZM1878.34 1320.3V1189.03H1879.47V1320.3ZM1879.47 1320.3V1158.73H1880.59V1320.3ZM1880.59 1320.3V1219.32H1881.71V1320.3ZM1881.71 1320.3V1239.52H1882.83V1320.3ZM1882.83 1320.3V1259.71H1883.95V1320.3ZM1883.95 1320.3V1259.71H1885.07V1320.3ZM1885.07 1320.3V1128.44H1886.19V1320.3ZM1886.19 1320.3V1249.61H1887.31V1320.3ZM1887.31 1320.3V1219.32H1888.43V1320.3ZM1888.43 1320.3V1229.42H1889.56V1320.3ZM1889.56 1320.3V1189.03H1890.68V1320.3ZM1890.68 1320.3V1229.42H1891.8V1320.3ZM1891.8 1320.3V1178.93H1892.92V1320.3ZM1892.92 1320.3V1259.71H1894.04V1320.3ZM1894.04 1320.3V1259.71H1895.16V1320.3ZM1895.16 1320.3V1249.61H1896.28V1320.3ZM1896.28 1320.3V1168.83H1897.4V1320.3ZM1897.4 1320.3V1239.52H1898.53V1320.3ZM1898.53 1320.3V1249.61H1899.65V1320.3ZM1899.65 1320.3V1067.85H1900.77V1320.3ZM1900.77 1320.3V1067.85H1901.89V1320.3ZM1901.89 1320.3V1057.75H1903.01V1320.3ZM1903.01 1320.3V1098.14H1904.13V1320.3ZM1904.13 1320.3V1088.05H1905.25V1320.3ZM1905.25 1320.3V1118.34H1906.37V1320.3ZM1906.37 1320.3V1209.22H1907.49V1320.3ZM1907.49 1320.3V1037.56H1908.62V1320.3ZM1908.62 1320.3V1077.95H1909.74V1320.3ZM1909.74 1320.3V1108.24H1910.86V1320.3ZM1910.86 1320.3V1199.12H1911.98V1320.3ZM1911.98 1320.3V1118.34H1913.1V1320.3ZM1913.1 1320.3V1168.83H1914.22V1320.3ZM1914.22 1320.3V1209.22H1915.34V1320.3ZM1915.34 1320.3V1118.34H1916.46V1320.3ZM1916.46 1320.3V997.16H1917.59V1320.3ZM1917.59 1320.3V956.77H1918.71V1320.3ZM1918.71 1320.3V1017.36H1919.83V1320.3ZM1919.83 1320.3V906.28H1920.95V1320.3ZM1920.95 1320.3V1067.85H1922.07V1320.3ZM1922.07 1320.3V1108.24H1923.19V1320.3ZM1923.19 1320.3V1178.93H1924.31V1320.3ZM1924.31 1320.3V1128.44H1925.43V1320.3ZM1925.43 1320.3V1219.32H1926.55V1320.3ZM1926.55 1320.3V1249.61H1927.68V1320.3ZM1927.68 1320.3V1168.83H1928.8V1320.3ZM1928.8 1320.3V1148.63H1929.92V1320.3ZM1929.92 1320.3V1088.05H1931.04V1320.3ZM1931.04 1320.3V1108.24H1932.16V1320.3ZM1932.16 1320.3V1007.26H1933.28V1320.3ZM1933.28 1320.3V1118.34H1934.4V1320.3ZM1934.4 1320.3V1128.44H1935.52V1320.3ZM1935.52 1320.3V1098.14H1936.65V1320.3ZM1936.65 1320.3V1047.65H1937.77V1320.3ZM1937.77 1320.3V1047.65H1938.89V1320.3ZM1938.89 1320.3V1108.24H1940.01V1320.3ZM1940.01 1320.3V1067.85H1941.13V1320.3ZM1941.13 1320.3V1098.14H1942.25V1320.3ZM1942.25 1320.3V1219.32H1943.37V1320.3ZM1943.37 1320.3V1249.61H1944.49V1320.3ZM1944.49 1320.3V1199.12H1945.61V1320.3ZM1945.61 1320.3V1158.73H1946.74V1320.3ZM1946.74 1320.3V1249.61H1947.86V1320.3ZM1947.86 1320.3V1249.61H1948.98V1320.3ZM1948.98 1320.3V1219.32H1950.1V1320.3ZM1950.1 1320.3V1239.52H1951.22V1320.3ZM1951.22 1320.3V1249.61H1952.34V1320.3ZM1952.34 1320.3V1098.14H1953.46V1320.3ZM1953.46 1320.3V1178.93H1954.58V1320.3ZM1954.58 1320.3V1199.12H1955.71V1320.3ZM1955.71 1320.3V1088.05H1956.83V1320.3ZM1956.83 1320.3V1037.56H1957.95V1320.3ZM1957.95 1320.3V1047.65H1959.07V1320.3ZM1959.07 1320.3V1077.95H1960.19V1320.3ZM1960.19 1320.3V1017.36H1961.31V1320.3ZM1961.31 1320.3V1047.65H1962.43V1320.3ZM1962.43 1320.3V1158.73H1963.55V1320.3ZM1963.55 1320.3V1118.34H1964.67V1320.3ZM1964.67 1320.3V1158.73H1965.8V1320.3ZM1965.8 1320.3V1138.54H1966.92V1320.3ZM1966.92 1320.3V1199.12H1968.04V1320.3ZM1968.04 1320.3V1158.73H1969.16V1320.3ZM1969.16 1320.3V1158.73H1970.28V1320.3ZM1970.28 1320.3V1199.12H1971.4V1320.3ZM1971.4 1320.3V1229.42H1972.52V1320.3ZM1972.52 1320.3V1219.32H1973.64V1320.3ZM1973.64 1320.3V1290.01H1974.77V1320.3ZM1974.77 1320.3V1290.01H1975.89V1320.3ZM1975.89 1320.3V1138.54H1977.01V1320.3ZM1977.01 1320.3V1128.44H1978.13V1320.3ZM1978.13 1320.3V1138.54H1979.25V1320.3ZM1979.25 1320.3V1219.32H1980.37V1320.3ZM1980.37 1320.3V1219.32H1981.49V1320.3ZM1981.49 1320.3V1219.32H1982.61V1320.3ZM1982.61 1320.3V1249.61H1983.73V1320.3ZM1983.73 1320.3V1219.32H1984.86V1320.3ZM1984.86 1320.3V1219.32H1985.98V1320.3ZM1985.98 1320.3V1219.32H1987.1V1320.3ZM1987.1 1320.3V1269.81H1988.22V1320.3ZM1988.22 1320.3V1269.81H1989.34V1320.3ZM1989.34 1320.3V1199.12H1990.46V1320.3ZM1990.46 1320.3V1269.81H1991.58V1320.3ZM1991.58 1320.3V1290.01H1992.7V1320.3ZM1992.7 1320.3V1290.01H1993.83V1320.3ZM1993.83 1320.3V1300.1H1994.95V1320.3ZM1994.95 1320.3V1310.2H1996.07V1320.3ZM1996.07 1320.3V1310.2H1997.19V1320.3ZM1997.19 1320.3V1310.2H1998.31V1320.3ZM2173.21 1320.3V1259.71H2174.34V1320.3ZM2174.34 1320.3V1249.61H2175.46V1320.3ZM2175.46 1320.3V1249.61H2176.58V1320.3ZM2176.58 1320.3V1269.81H2177.7V1320.3ZM2177.7 1320.3V1259.71H2178.82V1320.3ZM2178.82 1320.3V1259.71H2179.94V1320.3ZM2179.94 1320.3V1269.81H2181.06V1320.3ZM2181.06 1320.3V1259.71H2182.18V1320.3ZM2182.18 1320.3V1269.81H2183.31V1320.3ZM2183.31 1320.3V1259.71H2184.43V1320.3ZM2184.43 1320.3V1229.42H2185.55V1320.3ZM2185.55 1320.3V1098.14H2186.67V1320.3ZM2186.67 1320.3V976.97H2187.79V1320.3ZM2187.79 1320.3V997.16H2188.91V1320.3ZM2188.91 1320.3V966.87H2190.03V1320.3ZM2190.03 1320.3V976.97H2191.15V1320.3ZM2191.15 1320.3V835.6H2192.27V1320.3ZM2192.27 1320.3V865.89H2193.4V1320.3ZM2193.4 1320.3V1047.65H2194.52V1320.3ZM2194.52 1320.3V1007.26H2195.64V1320.3ZM2195.64 1320.3V946.67H2196.76V1320.3ZM2196.76 1320.3V1027.46H2197.88V1320.3ZM2197.88 1320.3V1067.85H2199V1320.3ZM2199 1320.3V946.67H2200.12V1320.3ZM2200.12 1320.3V976.97H2201.24V1320.3ZM2201.24 1320.3V1007.26H2202.37V1320.3ZM2202.37 1320.3V1047.65H2203.49V1320.3ZM2203.49 1320.3V1077.95H2204.61V1320.3ZM2204.61 1320.3V1219.32H2205.73V1320.3ZM2205.73 1320.3V1209.22H2206.85V1320.3ZM2206.85 1320.3V1178.93H2207.97V1320.3ZM2207.97 1320.3V1128.44H2209.09V1320.3ZM2209.09 1320.3V1138.54H2210.21V1320.3ZM2210.21 1320.3V1037.56H2211.33V1320.3ZM2211.33 1320.3V855.79H2212.46V1320.3ZM2212.46 1320.3V987.07H2213.58V1320.3ZM2213.58 1320.3V916.38H2214.7V1320.3ZM2214.7 1320.3V946.67H2215.82V1320.3ZM2215.82 1320.3V1047.65H2216.94V1320.3ZM2216.94 1320.3V1057.75H2218.06V1320.3ZM2218.06 1320.3V1037.56H2219.18V1320.3ZM2219.18 1320.3V936.58H2220.3V1320.3ZM2220.3 1320.3V1007.26H2221.43V1320.3ZM2221.43 1320.3V1037.56H2222.55V1320.3ZM2222.55 1320.3V1017.36H2223.67V1320.3ZM2223.67 1320.3V1047.65H2224.79V1320.3ZM2224.79 1320.3V1158.73H2225.91V1320.3ZM2225.91 1320.3V1178.93H2227.03V1320.3ZM2227.03 1320.3V1118.34H2228.15V1320.3ZM2228.15 1320.3V1118.34H2229.27V1320.3ZM2229.27 1320.3V1027.46H2230.39V1320.3ZM2230.39 1320.3V1098.14H2231.52V1320.3ZM2231.52 1320.3V946.67H2232.64V1320.3ZM2232.64 1320.3V1037.56H2233.76V1320.3ZM2233.76 1320.3V1067.85H2234.88V1320.3ZM2234.88 1320.3V1219.32H2236V1320.3ZM2236 1320.3V1189.03H2237.12V1320.3ZM2237.12 1320.3V976.97H2238.24V1320.3ZM2238.24 1320.3V1027.46H2239.36V1320.3ZM2239.36 1320.3V1108.24H2240.49V1320.3ZM2240.49 1320.3V1108.24H2241.61V1320.3ZM2241.61 1320.3V1148.63H2242.73V1320.3ZM2242.73 1320.3V1148.63H2243.85V1320.3ZM2243.85 1320.3V1138.54H2244.97V1320.3ZM2244.97 1320.3V1108.24H2246.09V1320.3ZM2246.09 1320.3V1098.14H2247.21V1320.3ZM2247.21 1320.3V1128.44H2248.33V1320.3ZM2248.33 1320.3V1269.81H2249.45V1320.3ZM2249.45 1320.3V1259.71H2250.58V1320.3ZM2250.58 1320.3V1229.42H2251.7V1320.3ZM2251.7 1320.3V1168.83H2252.82V1320.3ZM2252.82 1320.3V1209.22H2253.94V1320.3ZM2253.94 1320.3V1239.52H2255.06V1320.3ZM2255.06 1320.3V1219.32H2256.18V1320.3ZM2256.18 1320.3V1259.71H2257.3V1320.3ZM2257.3 1320.3V1259.71H2258.42V1320.3ZM2258.42 1320.3V1219.32H2259.55V1320.3ZM2259.55 1320.3V1209.22H2260.67V1320.3ZM2260.67 1320.3V1047.65H2261.79V1320.3ZM2261.79 1320.3V987.07H2262.91V1320.3ZM2262.91 1320.3V976.97H2264.03V1320.3ZM2264.03 1320.3V1158.73H2265.15V1320.3ZM2265.15 1320.3V1229.42H2266.27V1320.3ZM2266.27 1320.3V1229.42H2267.39V1320.3ZM2267.39 1320.3V1229.42H2268.51V1320.3ZM2268.51 1320.3V1108.24H2269.64V1320.3ZM2269.64 1320.3V1229.42H2270.76V1320.3ZM2270.76 1320.3V1138.54H2271.88V1320.3ZM2271.88 1320.3V1077.95H2273V1320.3ZM2273 1320.3V1219.32H2274.12V1320.3ZM2274.12 1320.3V1279.91H2275.24V1320.3ZM2275.24 1320.3V1259.71H2276.36V1320.3ZM2276.36 1320.3V1269.81H2277.48V1320.3ZM2277.48 1320.3V1290.01H2278.61V1320.3ZM2278.61 1320.3V1300.1H2279.73V1320.3ZM2279.73 1320.3V1290.01H2280.85V1320.3ZM2280.85 1320.3V1279.91H2281.97V1320.3ZM2281.97 1320.3V1310.2H2283.09V1320.3ZM2283.09 1320.3V1259.71H2284.21V1320.3ZM2284.21 1320.3V1259.71H2285.33V1320.3ZM2285.33 1320.3V1057.75H2286.45V1320.3ZM2286.45 1320.3V1098.14H2287.57V1320.3ZM2287.57 1320.3V1209.22H2288.7V1320.3ZM2288.7 1320.3V1219.32H2289.82V1320.3ZM2289.82 1320.3V1219.32H2290.94V1320.3ZM2290.94 1320.3V1259.71H2292.06V1320.3ZM2292.06 1320.3V1239.52H2293.18V1320.3ZM2293.18 1320.3V1128.44H2294.3V1320.3ZM2294.3 1320.3V1199.12H2295.42V1320.3ZM2295.42 1320.3V1209.22H2296.54V1320.3ZM2296.54 1320.3V1259.71H2297.67V1320.3ZM2297.67 1320.3V1199.12H2298.79V1320.3ZM2298.79 1320.3V1290.01H2299.91V1320.3ZM2299.91 1320.3V1199.12H2301.03V1320.3ZM2301.03 1320.3V1199.12H2302.15V1320.3ZM2302.15 1320.3V1209.22H2303.27V1320.3ZM2303.27 1320.3V1138.54H2304.39V1320.3ZM2304.39 1320.3V1178.93H2305.51V1320.3ZM2305.51 1320.3V1138.54H2306.63V1320.3ZM2306.63 1320.3V1209.22H2307.76V1320.3ZM2307.76 1320.3V1209.22H2308.88V1320.3ZM2308.88 1320.3V1229.42H2310V1320.3ZM2310 1320.3V1209.22H2311.12V1320.3ZM2311.12 1320.3V1229.42H2312.24V1320.3ZM2312.24 1320.3V1259.71H2313.36V1320.3ZM2313.36 1320.3V1300.1H2314.48V1320.3ZM2314.48 1320.3V1300.1H2315.6V1320.3ZM2315.6 1320.3V1290.01H2316.73V1320.3ZM2316.73 1320.3V1300.1H2317.85V1320.3ZM2317.85 1320.3V1300.1H2318.97V1320.3ZM2318.97 1320.3V1310.2H2320.09V1320.3ZM2320.09 1320.3V1300.1H2321.21V1320.3Z" fill="#238f70"/><line x1="154.6" y1="815.4" x2="154.6" y2="1320.8" stroke="#555" stroke-width="1.4"/><line x1="155.4" y1="1320.8" x2="2417" y2="1320.8" stroke="#fff" stroke-opacity="0.55" stroke-width="0.9"/><line x1="155.4" y1="1321.6" x2="2417" y2="1321.6" stroke="#707070" stroke-width="1.3"/><line x1="143.3" y1="1320.3" x2="154" y2="1320.3" stroke="#999" stroke-width="1.3"/><text x="133" y="1326.4" text-anchor="end" font-size="19.8" fill="#333" stroke="#333" stroke-width="0.35" textLength="11.64" lengthAdjust="spacingAndGlyphs">0</text><line x1="143.3" y1="1269.81" x2="154" y2="1269.81" stroke="#999" stroke-width="1.3"/><text x="133" y="1275.91" text-anchor="end" font-size="19.8" fill="#333" stroke="#333" stroke-width="0.35" textLength="11.64" lengthAdjust="spacingAndGlyphs">5</text><line x1="143.3" y1="1219.32" x2="154" y2="1219.32" stroke="#999" stroke-width="1.3"/><text x="133" y="1225.42" text-anchor="end" font-size="19.8" fill="#333" stroke="#333" stroke-width="0.35" textLength="23.28" lengthAdjust="spacingAndGlyphs">10</text><line x1="143.3" y1="1168.83" x2="154" y2="1168.83" stroke="#999" stroke-width="1.3"/><text x="133" y="1174.93" text-anchor="end" font-size="19.8" fill="#333" stroke="#333" stroke-width="0.35" textLength="23.28" lengthAdjust="spacingAndGlyphs">15</text><line x1="143.3" y1="1118.34" x2="154" y2="1118.34" stroke="#999" stroke-width="1.3"/><text x="133" y="1124.44" text-anchor="end" font-size="19.8" fill="#333" stroke="#333" stroke-width="0.35" textLength="23.28" lengthAdjust="spacingAndGlyphs">20</text><line x1="143.3" y1="1067.85" x2="154" y2="1067.85" stroke="#999" stroke-width="1.3"/><text x="133" y="1073.95" text-anchor="end" font-size="19.8" fill="#333" stroke="#333" stroke-width="0.35" textLength="23.28" lengthAdjust="spacingAndGlyphs">25</text><line x1="143.3" y1="1017.36" x2="154" y2="1017.36" stroke="#999" stroke-width="1.3"/><text x="133" y="1023.46" text-anchor="end" font-size="19.8" fill="#333" stroke="#333" stroke-width="0.35" textLength="23.28" lengthAdjust="spacingAndGlyphs">30</text><line x1="143.3" y1="966.87" x2="154" y2="966.87" stroke="#999" stroke-width="1.3"/><text x="133" y="972.97" text-anchor="end" font-size="19.8" fill="#333" stroke="#333" stroke-width="0.35" textLength="23.28" lengthAdjust="spacingAndGlyphs">35</text><line x1="143.3" y1="916.38" x2="154" y2="916.38" stroke="#999" stroke-width="1.3"/><text x="133" y="922.48" text-anchor="end" font-size="19.8" fill="#333" stroke="#333" stroke-width="0.35" textLength="23.28" lengthAdjust="spacingAndGlyphs">40</text><line x1="143.3" y1="865.89" x2="154" y2="865.89" stroke="#999" stroke-width="1.3"/><text x="133" y="871.99" text-anchor="end" font-size="19.8" fill="#333" stroke="#333" stroke-width="0.35" textLength="23.28" lengthAdjust="spacingAndGlyphs">45</text><line x1="143.3" y1="815.4" x2="154" y2="815.4" stroke="#999" stroke-width="1.3"/><text x="133" y="821.5" text-anchor="end" font-size="19.8" fill="#333" stroke="#333" stroke-width="0.35" textLength="23.28" lengthAdjust="spacingAndGlyphs">50</text><line x1="156.15" y1="1322.6" x2="156.15" y2="1332" stroke="#aaa" stroke-width="1.3"/><text x="155.65" y="1356.8" text-anchor="middle" font-size="19.5" fill="#111" stroke="#111" stroke-width="0.3" textLength="73.89" lengthAdjust="spacingAndGlyphs">ven. 10</text><line x1="479.05" y1="1322.6" x2="479.05" y2="1332" stroke="#aaa" stroke-width="1.3"/><text x="478.55" y="1356.8" text-anchor="middle" font-size="19.5" fill="#111" stroke="#111" stroke-width="0.3" textLength="79.21" lengthAdjust="spacingAndGlyphs">sam. 11</text><line x1="801.95" y1="1322.6" x2="801.95" y2="1332" stroke="#aaa" stroke-width="1.3"/><text x="801.45" y="1356.8" text-anchor="middle" font-size="19.5" fill="#111" stroke="#111" stroke-width="0.3" textLength="74.85" lengthAdjust="spacingAndGlyphs">dim. 12</text><line x1="1124.85" y1="1322.6" x2="1124.85" y2="1332" stroke="#aaa" stroke-width="1.3"/><text x="1124.35" y="1356.8" text-anchor="middle" font-size="19.5" fill="#111" stroke="#111" stroke-width="0.3" textLength="68.44" lengthAdjust="spacingAndGlyphs">lun. 13</text><line x1="1447.75" y1="1322.6" x2="1447.75" y2="1332" stroke="#aaa" stroke-width="1.3"/><text x="1447.25" y="1356.8" text-anchor="middle" font-size="19.5" fill="#111" stroke="#111" stroke-width="0.3" textLength="77.39" lengthAdjust="spacingAndGlyphs">mar. 14</text><line x1="1770.65" y1="1322.6" x2="1770.65" y2="1332" stroke="#aaa" stroke-width="1.3"/><text x="1770.15" y="1356.8" text-anchor="middle" font-size="19.5" fill="#111" stroke="#111" stroke-width="0.3" textLength="77.29" lengthAdjust="spacingAndGlyphs">mer. 15</text><line x1="2093.55" y1="1322.6" x2="2093.55" y2="1332" stroke="#aaa" stroke-width="1.3"/><text x="2093.05" y="1356.8" text-anchor="middle" font-size="19.5" fill="#111" stroke="#111" stroke-width="0.3" textLength="69.08" lengthAdjust="spacingAndGlyphs">jeu. 16</text><text transform="translate(86.3 1068) rotate(-90)" text-anchor="middle" font-size="23.5" fill="#333" textLength="30.5" lengthAdjust="spacingAndGlyphs">kW</text><defs><linearGradient id="rsh" x1="0" y1="0" x2="1" y2="0"><stop offset="0" stop-color="#000" stop-opacity="0.28"/><stop offset="1" stop-color="#000" stop-opacity="0"/></linearGradient></defs><defs><filter id="blur2" x="-100%" y="-50%" width="300%" height="200%"><feGaussianBlur stdDeviation="2"/></filter></defs><rect x="2402" y="72" width="5" height="26" fill="#000" fill-opacity="0.35" filter="url(#blur2)"/><path d="M1990 62H2397Q2405 62 2405 70V92Q2405 97.5 2399.5 97.5H1990Z" fill="#fff"/><text x="2198.5" y="89.2" text-anchor="middle" font-size="25.3" font-weight="bold" fill="#111">LHB-site-L06D</text><rect x="1991.8" y="107.8" width="412.4" height="58.2" rx="11" ry="11" fill="#fff" stroke="#808080" stroke-width="3.6"/><text x="2208" y="148.5" text-anchor="middle" font-size="28" fill="#111" xml:space="preserve">Consommation: 238 kWh</text><rect x="1991.8" y="178" width="412.4" height="57.9" rx="11" ry="11" fill="#fff" stroke="#808080" stroke-width="3.6"/><text x="2208" y="218.3" text-anchor="middle" font-size="28" fill="#111" xml:space="preserve">P Max :  48 kW</text><rect x="1991.8" y="247.9" width="412.4" height="57.9" rx="11" ry="11" fill="#fff" stroke="#808080" stroke-width="3.6"/><text x="2208" y="287.7" text-anchor="middle" font-size="28" fill="#111" xml:space="preserve">P min : 1 kW</text><rect x="1048" y="542.7" width="521" height="69.3" rx="12" fill="#fff" fill-opacity="0.91"/><text x="1313.8" y="588.1" text-anchor="middle" font-size="28.5" font-weight="bold" fill="#111" textLength="285" lengthAdjust="spacingAndGlyphs">jeudi 16 avril 2026</text><rect x="562.3" y="806.1" width="411.4" height="57.4" rx="11" ry="11" fill="#fff" stroke="#808080" stroke-width="3.6"/><text x="777.5" y="846" text-anchor="middle" font-size="28" fill="#111" xml:space="preserve">Consommation: 1 080 kWh</text><rect x="1100" y="806.6" width="411.4" height="56.9" rx="11" ry="11" fill="#fff" stroke="#808080" stroke-width="3.6"/><text x="1316" y="846" text-anchor="middle" font-size="28" fill="#111" xml:space="preserve">P Max :  48 kW</text><rect x="1610.3" y="806.6" width="410.4" height="56.9" rx="11" ry="11" fill="#fff" stroke="#808080" stroke-width="3.6"/><text x="1826" y="846" text-anchor="middle" font-size="28" fill="#111" xml:space="preserve">P min : 1 kW</text><rect x="176.4" y="49" width="481.5" height="77.6" fill="#0a0a1a"/><defs><linearGradient id="ecog" x1="0" y1="79" x2="0" y2="110.5" gradientUnits="userSpaceOnUse"><stop offset="0" stop-color="#00f2ca"/><stop offset="0.5" stop-color="#00f2ca"/><stop offset="0.56" stop-color="#0cb795"/><stop offset="1" stop-color="#0ccaa6"/></linearGradient></defs><g fill="none" stroke="url(#ecog)" stroke-width="6.8" stroke-linecap="round" stroke-linejoin="round"><path d="M210.2 92.5 C210.2 85 206 82.3 201.2 82.3 C195.5 82.3 192.3 87.5 192.3 95 C192.3 102.5 196 106.7 201.5 106.7 C204.5 106.7 206.7 105.5 208.5 104"/><path d="M195.5 92.3 H210.5" stroke-width="4.6" stroke-linecap="butt"/><path d="M238.5 86 C236.5 83.5 234 82.3 230.5 82.3 C224.5 82.3 220.3 87.5 220.3 94.6 C220.3 101.7 224.5 106.8 230.5 106.8 C234 106.8 236.5 105.6 238.5 103.2"/><ellipse cx="257.1" cy="94.6" rx="10.2" ry="12.2"/></g><path d="M197.5 73.5 L204.5 70.5" stroke="#00f2ca" stroke-width="5.5" stroke-linecap="round"/><g fill="none" stroke="#fff" stroke-width="6.8" stroke-linecap="round" stroke-linejoin="round"><path d="M275 86.5 L283.6 107 L291.8 82 L299.3 107 L313.5 67"/><path d="M316 84.5 C318.5 82 321.5 81 325.5 81 C331.5 81 335.3 84 335.3 90 V107.2"/><path d="M335 95.5 C332 94 328.5 93.6 325.5 93.6 C319 93.6 315.8 96.8 315.8 100.5 C315.8 104.5 319 107 324 107 C329 107 333 104.5 335 101"/><path d="M346.5 73.5 V100.5 C346.5 105 348.5 107.2 353.5 107.2"/><path d="M362.3 73.5 V100.5 C362.3 105 364.5 107.2 369.5 107.2"/><path d="M340.5 81.3 H371.5"/></g><ellipse cx="433.6" cy="89.2" rx="25.9" ry="28" fill="#03b3e2"/><text x="418.6" y="96.4" font-size="23" fill="#fff" textLength="32" lengthAdjust="spacingAndGlyphs">Rte</text><text x="468.5" y="80.0" font-size="11.5" font-weight="bold" fill="#1a9fd6" textLength="48" lengthAdjust="spacingAndGlyphs">Le réseau</text><text x="468.5" y="92.8" font-size="11.5" font-weight="bold" fill="#1a9fd6" textLength="62" lengthAdjust="spacingAndGlyphs">de transport</text><text x="468.5" y="105.6" font-size="11.5" font-weight="bold" fill="#1a9fd6" textLength="57" lengthAdjust="spacingAndGlyphs">d’électricité</text><rect x="546.3" y="61.5" width="100.6" height="55.2" fill="#fff"/><rect x="553" y="68" width="6" height="7" fill="#1f3f8f"/><rect x="559" y="68" width="5" height="7" fill="#fff"/><rect x="564" y="68" width="7" height="7" fill="#e1000f"/><text x="552.5" y="84" font-size="8" font-weight="bold" fill="#222" textLength="45" lengthAdjust="spacingAndGlyphs">RÉPUBLIQUE</text><text x="552.5" y="91" font-size="8" font-weight="bold" fill="#222" textLength="42" lengthAdjust="spacingAndGlyphs">FRANÇAISE</text><line x1="553" y1="98" x2="563" y2="98" stroke="#999" stroke-width="1"/><line x1="553" y1="103" x2="563" y2="103" stroke="#999" stroke-width="1"/><line x1="553" y1="108" x2="565" y2="108" stroke="#999" stroke-width="1"/><rect x="606.5" y="66.5" width="35.5" height="45" fill="#fff" stroke="#3a6fc0" stroke-width="1.2"/><text x="624.3" y="74.5" text-anchor="middle" font-size="6.5" font-weight="bold" fill="#e2231a" textLength="25" lengthAdjust="spacingAndGlyphs">ADEME</text><circle cx="624.5" cy="86.5" r="8.5" fill="#2a56b0"/><path d="M620 82 q4 2 3 6 q-2 3 1 6" stroke="#8fb3e8" stroke-width="1.5" fill="none"/><rect x="613" y="98" width="23" height="1.4" fill="#e86a6a"/><rect x="613" y="101" width="23" height="1.4" fill="#e86a6a"/><rect x="613" y="104" width="23" height="1.4" fill="#e86a6a"/><rect x="170" y="134.6" width="490" height="123.4" fill="#dcdcdc"/><rect x="173" y="138.6" width="116.5" height="49.7" fill="#f2f2f2"/><rect x="173" y="193.3" width="116.5" height="60" fill="#fff"/><rect x="294.5" y="138.6" width="117.0" height="49.7" fill="#f2f2f2"/><rect x="294.5" y="193.3" width="117.0" height="60" fill="#fff"/><rect x="416.5" y="138.6" width="116.9" height="49.7" fill="#f2f2f2"/><rect x="416.5" y="193.3" width="116.9" height="60" fill="#fff"/><rect x="538.4" y="138.6" width="118.1" height="49.7" fill="#f2f2f2"/><rect x="538.4" y="193.3" width="118.1" height="60" fill="#fff"/><defs><linearGradient id="tg" x1="0" y1="0" x2="0" y2="1"><stop offset="0" stop-color="#00dcb8"/><stop offset="1" stop-color="#00b89d"/></linearGradient></defs><rect x="180" y="195.3" width="105.5" height="54.7" fill="url(#tg)"/><path d="M190.6 195.3 Q245.4 229.2 285.5 205.1 V213.9 Q245.4 238.0 180.0 195.3 Z" fill="#00efc9"/><path d="M206.4 195.3 Q248.6 218.3 285.5 196.4 V195.3 Z" fill="#04a08a"/><rect x="302.4" y="196" width="105.6" height="56.0" fill="url(#tg)"/><path d="M313.0 196 Q367.9 230.7 408 206.1 V215.0 Q367.9 239.7 302.4 196 Z" fill="#00efc9"/><path d="M328.8 196 Q371.0 219.5 408 197.1 V196 Z" fill="#04a08a"/><rect x="423.9" y="196" width="106.1" height="56.0" fill="url(#tg)"/><path d="M434.5 196 Q489.7 230.7 530 206.1 V215.0 Q489.7 239.7 423.9 196 Z" fill="#00efc9"/><path d="M450.4 196 Q492.9 219.5 530 197.1 V196 Z" fill="#04a08a"/><rect x="544.4" y="196" width="105.6" height="56.0" fill="url(#tg)"/><path d="M555.0 196 Q609.9 230.7 650 206.1 V215.0 Q609.9 239.7 544.4 196 Z" fill="#00efc9"/><path d="M570.8 196 Q613.0 219.5 650 197.1 V196 Z" fill="#04a08a"/><text x="230.7" y="175" text-anchor="middle" font-size="34" fill="#111">J</text><text x="321" y="175" text-anchor="middle" font-size="34" fill="#111">J</text><text x="354.2" y="175" text-anchor="middle" font-size="34" fill="#111">+</text><text x="386" y="175" text-anchor="middle" font-size="34" fill="#111">1</text><text x="443" y="175" text-anchor="middle" font-size="34" fill="#111">J</text><text x="476" y="175" text-anchor="middle" font-size="34" fill="#111">+</text><text x="509" y="175" text-anchor="middle" font-size="34" font-weight="bold" fill="#111">2</text><text x="565" y="175" text-anchor="middle" font-size="34" fill="#111">J</text><text x="597.6" y="175" text-anchor="middle" font-size="34" fill="#111">+</text><text x="630.5" y="175" text-anchor="middle" font-size="34" font-weight="bold" fill="#111">3</text><rect x="2322" y="1322" width="116" height="58" fill="#fff"/><g fill="none" stroke="#0b6fb8" stroke-width="5.3" stroke-linecap="round" stroke-linejoin="round"><path d="M2361.4 1344.5 A12.6 12.6 0 1 0 2361.9 1351.2 H2349"/><path d="M2370 1348.8 A6.7 6.7 0 1 1 2382.3 1348.3 L2369.8 1361.2 H2384.5" stroke-linecap="butt"/><path d="M2370 1348.8 l-0.1 0.1" /></g><path d="M2391.7 1324.7 L2383.6 1338.1 L2390.7 1336.9 L2389.3 1363 L2399.3 1338.5 L2391.9 1335.2 Z" fill="#e85a28"/><path d="M2403.2 1338.8 H2424.4 L2418.4 1344.8 H2400.8 Z" fill="#f39320"/><path d="M2399.3 1347.9 H2418.2 L2412.7 1353.8 H2396.9 Z" fill="#f39320"/><path d="M2395.5 1357 H2416.8 L2410.8 1363.2 H2393.1 Z" fill="#f39320"/><text x="2393.6" y="1334.6" font-size="7.5" font-weight="bold" fill="#e8643a" textLength="30" lengthAdjust="spacingAndGlyphs">FRANCE</text><text x="2340" y="1368.2" font-size="4.2" fill="#3d8ad0" textLength="73.7" lengthAdjust="spacingAndGlyphs">Optimisation des ressources énergétiques</text></svg>
<div class="edge-r"></div><div class="edge-b"></div>
</body></html>
